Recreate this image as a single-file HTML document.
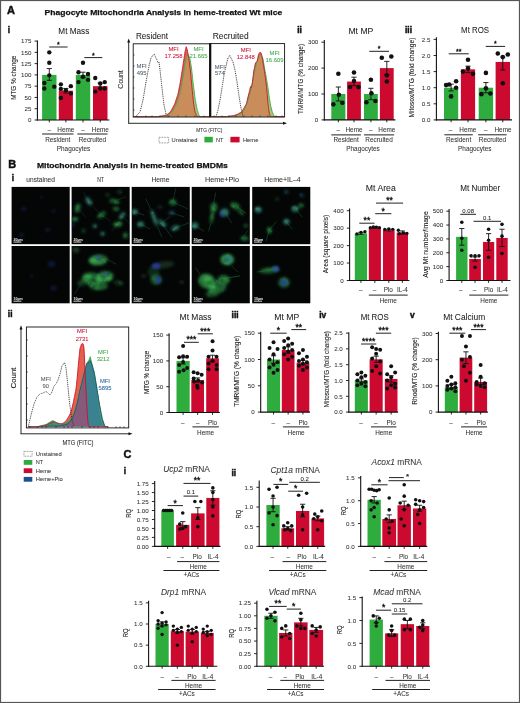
<!DOCTYPE html>
<html><head><meta charset="utf-8"><title>Figure</title>
<style>html,body{margin:0;padding:0;background:#fff;width:520px;height:703px;overflow:hidden}svg{display:block}</style></head><body>
<svg width="520" height="703" viewBox="0 0 520 703" font-family="'Liberation Sans', Arial, sans-serif"><defs><filter id="b05" x="-50%" y="-50%" width="200%" height="200%"><feGaussianBlur stdDeviation="0.5"/></filter><filter id="b04" x="-20%" y="-20%" width="140%" height="140%"><feGaussianBlur stdDeviation="0.55"/></filter><filter id="b08" x="-50%" y="-50%" width="200%" height="200%"><feGaussianBlur stdDeviation="0.8"/></filter><filter id="b1" x="-50%" y="-50%" width="200%" height="200%"><feGaussianBlur stdDeviation="1.0"/></filter><filter id="b15" x="-50%" y="-50%" width="200%" height="200%"><feGaussianBlur stdDeviation="1.6"/></filter><filter id="b2" x="-50%" y="-50%" width="200%" height="200%"><feGaussianBlur stdDeviation="2.5"/></filter><clipPath id="mclip"><rect x="11.6" y="186.9" width="58.1" height="57.3"/><rect x="11.6" y="246.0" width="58.1" height="57.3"/><rect x="71.6" y="186.9" width="58.1" height="57.3"/><rect x="71.6" y="246.0" width="58.1" height="57.3"/><rect x="131.7" y="186.9" width="58.1" height="57.3"/><rect x="131.7" y="246.0" width="58.1" height="57.3"/><rect x="191.7" y="186.9" width="58.1" height="57.3"/><rect x="191.7" y="246.0" width="58.1" height="57.3"/><rect x="252.2" y="186.9" width="58.1" height="57.3"/><rect x="252.2" y="246.0" width="58.1" height="57.3"/></clipPath></defs>
<rect x="0.00" y="0.00" width="520.00" height="703.00" fill="#ffffff"/>
<text x="11.00" y="13.86" font-size="11.00" text-anchor="middle" font-weight="bold" fill="#111" stroke="#111" stroke-width="0.45">A</text>
<text x="44.60" y="14.88" font-size="8.00" text-anchor="start" font-weight="bold" fill="#111" textLength="237.60" lengthAdjust="spacingAndGlyphs" stroke="#111" stroke-width="0.25">Phagocyte Mitochondria Analysis in heme-treated Wt mice</text>
<text x="8.80" y="33.42" font-size="8.40" text-anchor="middle" font-weight="bold" fill="#111" stroke="#111" stroke-width="0.45">i</text>
<text x="299.50" y="32.52" font-size="8.40" text-anchor="middle" font-weight="bold" fill="#111" stroke="#111" stroke-width="0.45">ii</text>
<text x="408.50" y="32.52" font-size="8.40" text-anchor="middle" font-weight="bold" fill="#111" stroke="#111" stroke-width="0.45">iii</text>
<text x="12.30" y="168.16" font-size="11.00" text-anchor="middle" font-weight="bold" fill="#111" stroke="#111" stroke-width="0.45">B</text>
<text x="36.90" y="168.18" font-size="8.00" text-anchor="start" font-weight="bold" fill="#111" textLength="190.90" lengthAdjust="spacingAndGlyphs" stroke="#111" stroke-width="0.25">Mitochondria Analysis in heme-treated BMDMs</text>
<text x="13.00" y="181.42" font-size="8.40" text-anchor="middle" font-weight="bold" fill="#111" stroke="#111" stroke-width="0.45">i</text>
<text x="40.60" y="181.50" font-size="6.40" text-anchor="middle" fill="#333" textLength="28.60" lengthAdjust="spacingAndGlyphs" stroke="#333" stroke-width="0.05">unstained</text>
<text x="100.60" y="181.50" font-size="6.40" text-anchor="middle" fill="#333" textLength="6.80" lengthAdjust="spacingAndGlyphs" stroke="#333" stroke-width="0.05">NT</text>
<text x="160.50" y="181.50" font-size="6.40" text-anchor="middle" fill="#333" textLength="18.00" lengthAdjust="spacingAndGlyphs" stroke="#333" stroke-width="0.05">Heme</text>
<text x="222.00" y="181.50" font-size="6.40" text-anchor="middle" fill="#333" textLength="34.00" lengthAdjust="spacingAndGlyphs" stroke="#333" stroke-width="0.05">Heme+Pio</text>
<text x="282.50" y="181.50" font-size="6.40" text-anchor="middle" fill="#333" textLength="36.50" lengthAdjust="spacingAndGlyphs" stroke="#333" stroke-width="0.05">Heme+IL–4</text>
<text x="10.20" y="317.02" font-size="8.40" text-anchor="middle" font-weight="bold" fill="#111" stroke="#111" stroke-width="0.45">ii</text>
<text x="235.10" y="317.82" font-size="8.40" text-anchor="middle" font-weight="bold" fill="#111" stroke="#111" stroke-width="0.45">iii</text>
<text x="322.80" y="317.82" font-size="8.40" text-anchor="middle" font-weight="bold" fill="#111" stroke="#111" stroke-width="0.45">iv</text>
<text x="412.40" y="317.82" font-size="8.40" text-anchor="middle" font-weight="bold" fill="#111" stroke="#111" stroke-width="0.45">v</text>
<text x="127.40" y="457.76" font-size="11.00" text-anchor="middle" font-weight="bold" fill="#111" stroke="#111" stroke-width="0.45">C</text>
<text x="124.80" y="473.92" font-size="8.40" text-anchor="middle" font-weight="bold" fill="#111" stroke="#111" stroke-width="0.45">i</text>
<text x="233.80" y="475.82" font-size="8.40" text-anchor="middle" font-weight="bold" fill="#111" stroke="#111" stroke-width="0.45">ii</text>
<line x1="128.70" y1="123.30" x2="128.70" y2="41.50" stroke="#111" stroke-width="0.9"/>
<path d="M128.7,38.5 L127.2,42.5 L130.2,42.5 Z" fill="#111"/>
<line x1="128.20" y1="123.30" x2="284.50" y2="123.30" stroke="#111" stroke-width="0.9"/>
<path d="M287,123.3 L283,121.8 L283,124.8 Z" fill="#111"/>
<path d="M133.50,116.60 L133.50,116.60 L133.75,116.60 L134.00,116.60 L134.25,116.60 L134.50,116.60 L134.75,116.60 L135.00,116.60 L135.25,116.60 L135.50,116.60 L135.75,116.60 L136.00,116.60 L136.25,116.60 L136.50,116.60 L136.75,116.60 L137.00,116.60 L137.25,116.60 L137.50,116.60 L137.75,116.60 L138.00,116.60 L138.25,116.60 L138.50,116.60 L138.75,116.60 L139.00,116.60 L139.25,116.60 L139.50,116.60 L139.75,116.60 L140.00,116.60 L140.25,116.60 L140.50,116.60 L140.75,116.60 L141.00,116.60 L141.25,116.60 L141.50,116.60 L141.75,116.60 L142.00,116.60 L142.25,116.60 L142.50,116.60 L142.75,116.60 L143.00,116.60 L143.25,116.60 L143.50,116.60 L143.75,116.60 L144.00,116.60 L144.25,116.60 L144.50,116.60 L144.75,116.60 L145.00,116.60 L145.25,116.60 L145.50,116.60 L145.75,116.60 L146.00,116.60 L146.25,116.60 L146.50,116.60 L146.75,116.60 L147.00,116.60 L147.25,116.60 L147.50,116.60 L147.75,116.60 L148.00,116.60 L148.25,116.60 L148.50,116.60 L148.75,116.60 L149.00,116.60 L149.25,116.60 L149.50,116.60 L149.75,116.60 L150.00,116.60 L150.25,116.60 L150.50,116.60 L150.75,116.60 L151.00,116.60 L151.25,116.60 L151.50,116.60 L151.75,116.60 L152.00,116.60 L152.25,116.60 L152.50,116.60 L152.75,116.60 L153.00,116.60 L153.25,116.60 L153.50,116.60 L153.75,116.60 L154.00,116.60 L154.25,116.60 L154.50,116.60 L154.75,116.60 L155.00,116.60 L155.25,116.60 L155.50,116.60 L155.75,116.60 L156.00,116.60 L156.25,116.60 L156.50,116.60 L156.75,116.60 L157.00,116.60 L157.25,116.60 L157.50,116.60 L157.75,116.60 L158.00,116.60 L158.25,116.55 L158.50,116.51 L158.75,116.46 L159.00,116.42 L159.25,116.37 L159.50,116.33 L159.75,116.28 L160.00,116.24 L160.25,116.19 L160.50,116.15 L160.75,116.10 L161.00,116.05 L161.25,116.01 L161.50,115.96 L161.75,115.92 L162.00,115.87 L162.25,115.83 L162.50,115.78 L162.75,115.74 L163.00,115.69 L163.25,115.65 L163.50,115.60 L163.75,115.55 L164.00,115.51 L164.25,115.46 L164.50,115.42 L164.75,115.37 L165.00,115.33 L165.25,115.28 L165.50,115.24 L165.75,115.19 L166.00,115.15 L166.25,115.10 L166.50,115.05 L166.75,115.01 L167.00,114.81 L167.25,114.57 L167.50,114.33 L167.75,114.10 L168.00,113.86 L168.25,113.62 L168.50,113.38 L168.75,113.14 L169.00,112.90 L169.25,112.67 L169.50,112.43 L169.75,112.19 L170.00,111.95 L170.25,111.71 L170.50,111.48 L170.75,111.24 L171.00,111.00 L171.25,110.52 L171.50,110.04 L171.75,109.56 L172.00,109.08 L172.25,108.60 L172.50,108.12 L172.75,107.64 L173.00,107.16 L173.25,106.68 L173.50,106.20 L173.75,105.72 L174.00,105.24 L174.25,104.76 L174.50,104.28 L174.75,103.80 L175.00,103.09 L175.25,102.34 L175.50,101.58 L175.75,100.82 L176.00,100.06 L176.25,99.30 L176.50,98.55 L176.75,97.79 L177.00,97.03 L177.25,96.27 L177.50,95.52 L177.75,94.76 L178.00,94.00 L178.25,92.75 L178.50,91.50 L178.75,90.25 L179.00,89.00 L179.25,87.75 L179.50,86.50 L179.75,85.25 L180.00,84.00 L180.25,82.45 L180.50,80.91 L180.75,79.36 L181.00,77.81 L181.25,76.27 L181.50,74.72 L181.75,73.14 L182.00,71.55 L182.25,69.96 L182.50,68.37 L182.75,66.78 L183.00,65.18 L183.25,63.59 L183.50,62.00 L183.75,60.33 L184.00,58.67 L184.25,57.00 L184.50,55.33 L184.75,53.67 L185.00,52.00 L185.25,50.85 L185.50,49.71 L185.75,48.56 L186.00,47.42 L186.25,46.66 L186.50,47.45 L186.75,48.25 L187.00,49.05 L187.25,49.84 L187.50,51.18 L187.75,52.65 L188.00,54.12 L188.25,55.59 L188.50,57.06 L188.75,58.53 L189.00,60.00 L189.25,62.00 L189.50,64.00 L189.75,66.00 L190.00,68.00 L190.25,70.00 L190.50,72.00 L190.75,74.67 L191.00,77.33 L191.25,80.00 L191.50,82.67 L191.75,85.33 L192.00,88.00 L192.25,90.50 L192.50,93.00 L192.75,95.50 L193.00,98.00 L193.25,100.50 L193.50,103.00 L193.75,104.50 L194.00,106.00 L194.25,107.50 L194.50,109.00 L194.75,110.50 L195.00,112.00 L195.25,112.58 L195.50,113.15 L195.75,113.72 L196.00,114.30 L196.25,114.88 L196.50,115.45 L196.75,116.02 L197.00,116.60 L197.25,116.60 L197.50,116.60 L197.75,116.60 L198.00,116.60 L198.25,116.60 L198.50,116.60 L198.75,116.60 L199.00,116.60 L199.25,116.60 L199.50,116.60 L199.75,116.60 L200.00,116.60 L200.25,116.60 L200.50,116.60 L200.75,116.60 L201.00,116.60 L201.25,116.60 L201.50,116.60 L201.75,116.60 L202.00,116.60 L202.25,116.60 L202.50,116.60 L202.75,116.60 L203.00,116.60 L203.25,116.60 L203.50,116.60 L203.75,116.60 L204.00,116.60 L204.25,116.60 L204.50,116.60 L204.75,116.60 L205.00,116.60 L205.25,116.60 L205.50,116.60 L205.75,116.60 L206.00,116.60 L206.25,116.60 L206.50,116.60 L206.75,116.60 L207.00,116.60 L207.25,116.60 L207.50,116.60 L207.75,116.60 L208.00,116.60 L208.25,116.60 L208.50,116.60 L208.75,116.60 L209.00,116.60 L209.25,116.60 L209.50,116.60 L209.50,116.60 Z" fill="#d8604f"/>
<path d="M133.50,116.60 L133.50,116.60 L133.75,116.60 L134.00,116.60 L134.25,116.60 L134.50,116.60 L134.75,116.60 L135.00,116.60 L135.25,116.60 L135.50,116.60 L135.75,116.60 L136.00,116.60 L136.25,116.60 L136.50,116.60 L136.75,116.60 L137.00,116.60 L137.25,116.60 L137.50,116.60 L137.75,116.60 L138.00,116.60 L138.25,116.60 L138.50,116.60 L138.75,116.60 L139.00,116.60 L139.25,116.60 L139.50,116.60 L139.75,116.60 L140.00,116.60 L140.25,116.60 L140.50,116.60 L140.75,116.60 L141.00,116.60 L141.25,116.60 L141.50,116.60 L141.75,116.60 L142.00,116.60 L142.25,116.60 L142.50,116.60 L142.75,116.60 L143.00,116.60 L143.25,116.60 L143.50,116.60 L143.75,116.60 L144.00,116.60 L144.25,116.60 L144.50,116.60 L144.75,116.60 L145.00,116.60 L145.25,116.60 L145.50,116.60 L145.75,116.60 L146.00,116.60 L146.25,116.60 L146.50,116.60 L146.75,116.60 L147.00,116.60 L147.25,116.60 L147.50,116.60 L147.75,116.60 L148.00,116.60 L148.25,116.60 L148.50,116.60 L148.75,116.60 L149.00,116.60 L149.25,116.60 L149.50,116.60 L149.75,116.60 L150.00,116.60 L150.25,116.60 L150.50,116.60 L150.75,116.60 L151.00,116.60 L151.25,116.60 L151.50,116.60 L151.75,116.60 L152.00,116.60 L152.25,116.60 L152.50,116.60 L152.75,116.60 L153.00,116.60 L153.25,116.60 L153.50,116.60 L153.75,116.60 L154.00,116.60 L154.25,116.60 L154.50,116.60 L154.75,116.60 L155.00,116.60 L155.25,116.60 L155.50,116.60 L155.75,116.60 L156.00,116.60 L156.25,116.60 L156.50,116.60 L156.75,116.60 L157.00,116.60 L157.25,116.60 L157.50,116.60 L157.75,116.60 L158.00,116.60 L158.25,116.60 L158.50,116.60 L158.75,116.60 L159.00,116.60 L159.25,116.60 L159.50,116.60 L159.75,116.60 L160.00,116.60 L160.25,116.56 L160.50,116.52 L160.75,116.48 L161.00,116.44 L161.25,116.39 L161.50,116.35 L161.75,116.31 L162.00,116.27 L162.25,116.23 L162.50,116.19 L162.75,116.15 L163.00,116.11 L163.25,116.06 L163.50,116.02 L163.75,115.98 L164.00,115.94 L164.25,115.90 L164.50,115.86 L164.75,115.82 L165.00,115.78 L165.25,115.74 L165.50,115.69 L165.75,115.65 L166.00,115.61 L166.25,115.57 L166.50,115.53 L166.75,115.49 L167.00,115.45 L167.25,115.41 L167.50,115.36 L167.75,115.32 L168.00,115.28 L168.25,115.24 L168.50,115.20 L168.75,114.97 L169.00,114.74 L169.25,114.51 L169.50,114.28 L169.75,114.04 L170.00,113.81 L170.25,113.58 L170.50,113.35 L170.75,113.12 L171.00,112.89 L171.25,112.66 L171.50,112.42 L171.75,112.19 L172.00,111.96 L172.25,111.73 L172.50,111.50 L172.75,111.03 L173.00,110.56 L173.25,110.09 L173.50,109.62 L173.75,109.16 L174.00,108.69 L174.25,108.22 L174.50,107.75 L174.75,107.28 L175.00,106.81 L175.25,106.34 L175.50,105.88 L175.75,105.41 L176.00,104.94 L176.25,104.47 L176.50,104.00 L176.75,103.25 L177.00,102.50 L177.25,101.75 L177.50,101.00 L177.75,100.25 L178.00,99.50 L178.25,98.75 L178.50,98.00 L178.75,97.25 L179.00,96.50 L179.25,95.75 L179.50,95.00 L179.75,93.88 L180.00,92.75 L180.25,91.62 L180.50,90.50 L180.75,89.38 L181.00,88.25 L181.25,87.12 L181.50,86.00 L181.75,84.53 L182.00,83.06 L182.25,81.59 L182.50,80.12 L182.75,78.65 L183.00,77.18 L183.25,75.67 L183.50,74.00 L183.75,72.33 L184.00,70.67 L184.25,69.00 L184.50,67.33 L184.75,65.67 L185.00,64.00 L185.25,62.89 L185.50,61.78 L185.75,60.67 L186.00,59.56 L186.25,58.44 L186.50,57.33 L186.75,56.22 L187.00,55.80 L187.25,55.55 L187.50,55.30 L187.75,55.05 L188.00,54.80 L188.25,54.55 L188.50,55.03 L188.75,55.69 L189.00,56.35 L189.25,57.01 L189.50,57.68 L189.75,58.34 L190.00,59.00 L190.25,60.50 L190.50,62.00 L190.75,63.50 L191.00,65.00 L191.25,66.50 L191.50,68.00 L191.75,70.33 L192.00,72.67 L192.25,75.00 L192.50,77.33 L192.75,79.67 L193.00,82.00 L193.25,84.00 L193.50,86.00 L193.75,88.00 L194.00,90.00 L194.25,92.00 L194.50,94.00 L194.75,96.00 L195.00,98.00 L195.25,99.38 L195.50,100.75 L195.75,102.12 L196.00,103.50 L196.25,104.88 L196.50,106.25 L196.75,107.62 L197.00,109.00 L197.25,109.79 L197.50,110.58 L197.75,111.36 L198.00,112.15 L198.25,112.94 L198.50,113.72 L198.75,114.51 L199.00,115.30 L199.25,115.52 L199.50,115.73 L199.75,115.95 L200.00,116.17 L200.25,116.38 L200.50,116.60 L200.75,116.60 L201.00,116.60 L201.25,116.60 L201.50,116.60 L201.75,116.60 L202.00,116.60 L202.25,116.60 L202.50,116.60 L202.75,116.60 L203.00,116.60 L203.25,116.60 L203.50,116.60 L203.75,116.60 L204.00,116.60 L204.25,116.60 L204.50,116.60 L204.75,116.60 L205.00,116.60 L205.25,116.60 L205.50,116.60 L205.75,116.60 L206.00,116.60 L206.25,116.60 L206.50,116.60 L206.75,116.60 L207.00,116.60 L207.25,116.60 L207.50,116.60 L207.75,116.60 L208.00,116.60 L208.25,116.60 L208.50,116.60 L208.75,116.60 L209.00,116.60 L209.25,116.60 L209.50,116.60 L209.50,116.60 Z" fill="#9cc870"/>
<path d="M133.50,116.60 L133.50,116.60 L133.75,116.60 L134.00,116.60 L134.25,116.60 L134.50,116.60 L134.75,116.60 L135.00,116.60 L135.25,116.60 L135.50,116.60 L135.75,116.60 L136.00,116.60 L136.25,116.60 L136.50,116.60 L136.75,116.60 L137.00,116.60 L137.25,116.60 L137.50,116.60 L137.75,116.60 L138.00,116.60 L138.25,116.60 L138.50,116.60 L138.75,116.60 L139.00,116.60 L139.25,116.60 L139.50,116.60 L139.75,116.60 L140.00,116.60 L140.25,116.60 L140.50,116.60 L140.75,116.60 L141.00,116.60 L141.25,116.60 L141.50,116.60 L141.75,116.60 L142.00,116.60 L142.25,116.60 L142.50,116.60 L142.75,116.60 L143.00,116.60 L143.25,116.60 L143.50,116.60 L143.75,116.60 L144.00,116.60 L144.25,116.60 L144.50,116.60 L144.75,116.60 L145.00,116.60 L145.25,116.60 L145.50,116.60 L145.75,116.60 L146.00,116.60 L146.25,116.60 L146.50,116.60 L146.75,116.60 L147.00,116.60 L147.25,116.60 L147.50,116.60 L147.75,116.60 L148.00,116.60 L148.25,116.60 L148.50,116.60 L148.75,116.60 L149.00,116.60 L149.25,116.60 L149.50,116.60 L149.75,116.60 L150.00,116.60 L150.25,116.60 L150.50,116.60 L150.75,116.60 L151.00,116.60 L151.25,116.60 L151.50,116.60 L151.75,116.60 L152.00,116.60 L152.25,116.60 L152.50,116.60 L152.75,116.60 L153.00,116.60 L153.25,116.60 L153.50,116.60 L153.75,116.60 L154.00,116.60 L154.25,116.60 L154.50,116.60 L154.75,116.60 L155.00,116.60 L155.25,116.60 L155.50,116.60 L155.75,116.60 L156.00,116.60 L156.25,116.60 L156.50,116.60 L156.75,116.60 L157.00,116.60 L157.25,116.60 L157.50,116.60 L157.75,116.60 L158.00,116.60 L158.25,116.60 L158.50,116.60 L158.75,116.60 L159.00,116.60 L159.25,116.60 L159.50,116.60 L159.75,116.60 L160.00,116.60 L160.25,116.56 L160.50,116.52 L160.75,116.48 L161.00,116.44 L161.25,116.39 L161.50,116.35 L161.75,116.31 L162.00,116.27 L162.25,116.23 L162.50,116.19 L162.75,116.15 L163.00,116.11 L163.25,116.06 L163.50,116.02 L163.75,115.98 L164.00,115.94 L164.25,115.90 L164.50,115.86 L164.75,115.82 L165.00,115.78 L165.25,115.74 L165.50,115.69 L165.75,115.65 L166.00,115.61 L166.25,115.57 L166.50,115.53 L166.75,115.49 L167.00,115.45 L167.25,115.41 L167.50,115.36 L167.75,115.32 L168.00,115.28 L168.25,115.24 L168.50,115.20 L168.75,114.97 L169.00,114.74 L169.25,114.51 L169.50,114.28 L169.75,114.04 L170.00,113.81 L170.25,113.58 L170.50,113.35 L170.75,113.12 L171.00,112.89 L171.25,112.66 L171.50,112.42 L171.75,112.19 L172.00,111.96 L172.25,111.73 L172.50,111.50 L172.75,111.03 L173.00,110.56 L173.25,110.09 L173.50,109.62 L173.75,109.16 L174.00,108.69 L174.25,108.22 L174.50,107.75 L174.75,107.28 L175.00,106.81 L175.25,106.34 L175.50,105.88 L175.75,105.41 L176.00,104.94 L176.25,104.47 L176.50,104.00 L176.75,103.25 L177.00,102.50 L177.25,101.75 L177.50,101.00 L177.75,100.25 L178.00,99.50 L178.25,98.75 L178.50,98.00 L178.75,97.25 L179.00,96.50 L179.25,95.75 L179.50,95.00 L179.75,93.88 L180.00,92.75 L180.25,91.62 L180.50,90.50 L180.75,89.38 L181.00,88.25 L181.25,87.12 L181.50,86.00 L181.75,84.53 L182.00,83.06 L182.25,81.59 L182.50,80.12 L182.75,78.65 L183.00,77.18 L183.25,75.67 L183.50,74.00 L183.75,72.33 L184.00,70.67 L184.25,69.00 L184.50,67.33 L184.75,65.67 L185.00,64.00 L185.25,62.89 L185.50,61.78 L185.75,60.67 L186.00,59.56 L186.25,58.44 L186.50,57.33 L186.75,56.22 L187.00,55.80 L187.25,55.55 L187.50,55.30 L187.75,55.05 L188.00,54.80 L188.25,55.59 L188.50,57.06 L188.75,58.53 L189.00,60.00 L189.25,62.00 L189.50,64.00 L189.75,66.00 L190.00,68.00 L190.25,70.00 L190.50,72.00 L190.75,74.67 L191.00,77.33 L191.25,80.00 L191.50,82.67 L191.75,85.33 L192.00,88.00 L192.25,90.50 L192.50,93.00 L192.75,95.50 L193.00,98.00 L193.25,100.50 L193.50,103.00 L193.75,104.50 L194.00,106.00 L194.25,107.50 L194.50,109.00 L194.75,110.50 L195.00,112.00 L195.25,112.58 L195.50,113.15 L195.75,113.72 L196.00,114.30 L196.25,114.88 L196.50,115.45 L196.75,116.02 L197.00,116.60 L197.25,116.60 L197.50,116.60 L197.75,116.60 L198.00,116.60 L198.25,116.60 L198.50,116.60 L198.75,116.60 L199.00,116.60 L199.25,116.60 L199.50,116.60 L199.75,116.60 L200.00,116.60 L200.25,116.60 L200.50,116.60 L200.75,116.60 L201.00,116.60 L201.25,116.60 L201.50,116.60 L201.75,116.60 L202.00,116.60 L202.25,116.60 L202.50,116.60 L202.75,116.60 L203.00,116.60 L203.25,116.60 L203.50,116.60 L203.75,116.60 L204.00,116.60 L204.25,116.60 L204.50,116.60 L204.75,116.60 L205.00,116.60 L205.25,116.60 L205.50,116.60 L205.75,116.60 L206.00,116.60 L206.25,116.60 L206.50,116.60 L206.75,116.60 L207.00,116.60 L207.25,116.60 L207.50,116.60 L207.75,116.60 L208.00,116.60 L208.25,116.60 L208.50,116.60 L208.75,116.60 L209.00,116.60 L209.25,116.60 L209.50,116.60 L209.50,116.60 Z" fill="#c98d5c"/>
<path d="M133.50,116.60 L133.75,116.60 L134.00,116.60 L134.25,116.60 L134.50,116.60 L134.75,116.60 L135.00,116.60 L135.25,116.60 L135.50,116.60 L135.75,116.60 L136.00,116.60 L136.25,116.60 L136.50,116.60 L136.75,116.60 L137.00,116.60 L137.25,116.60 L137.50,116.60 L137.75,116.60 L138.00,116.60 L138.25,116.60 L138.50,116.60 L138.75,116.60 L139.00,116.60 L139.25,116.60 L139.50,116.60 L139.75,116.60 L140.00,116.60 L140.25,116.60 L140.50,116.60 L140.75,116.60 L141.00,116.60 L141.25,116.60 L141.50,116.60 L141.75,116.60 L142.00,116.60 L142.25,116.60 L142.50,116.60 L142.75,116.60 L143.00,116.60 L143.25,116.60 L143.50,116.60 L143.75,116.60 L144.00,116.60 L144.25,116.60 L144.50,116.60 L144.75,116.60 L145.00,116.60 L145.25,116.60 L145.50,116.60 L145.75,116.60 L146.00,116.60 L146.25,116.60 L146.50,116.60 L146.75,116.60 L147.00,116.60 L147.25,116.60 L147.50,116.60 L147.75,116.60 L148.00,116.60 L148.25,116.60 L148.50,116.60 L148.75,116.60 L149.00,116.60 L149.25,116.60 L149.50,116.60 L149.75,116.60 L150.00,116.60 L150.25,116.60 L150.50,116.60 L150.75,116.60 L151.00,116.60 L151.25,116.60 L151.50,116.60 L151.75,116.60 L152.00,116.60 L152.25,116.60 L152.50,116.60 L152.75,116.60 L153.00,116.60 L153.25,116.60 L153.50,116.60 L153.75,116.60 L154.00,116.60 L154.25,116.60 L154.50,116.60 L154.75,116.60 L155.00,116.60 L155.25,116.60 L155.50,116.60 L155.75,116.60 L156.00,116.60 L156.25,116.60 L156.50,116.60 L156.75,116.60 L157.00,116.60 L157.25,116.60 L157.50,116.60 L157.75,116.60 L158.00,116.60 L158.25,116.60 L158.50,116.60 L158.75,116.60 L159.00,116.60 L159.25,116.60 L159.50,116.60 L159.75,116.60 L160.00,116.60 L160.25,116.56 L160.50,116.52 L160.75,116.48 L161.00,116.44 L161.25,116.39 L161.50,116.35 L161.75,116.31 L162.00,116.27 L162.25,116.23 L162.50,116.19 L162.75,116.15 L163.00,116.11 L163.25,116.06 L163.50,116.02 L163.75,115.98 L164.00,115.94 L164.25,115.90 L164.50,115.86 L164.75,115.82 L165.00,115.78 L165.25,115.74 L165.50,115.69 L165.75,115.65 L166.00,115.61 L166.25,115.57 L166.50,115.53 L166.75,115.49 L167.00,115.45 L167.25,115.41 L167.50,115.36 L167.75,115.32 L168.00,115.28 L168.25,115.24 L168.50,115.20 L168.75,114.97 L169.00,114.74 L169.25,114.51 L169.50,114.28 L169.75,114.04 L170.00,113.81 L170.25,113.58 L170.50,113.35 L170.75,113.12 L171.00,112.89 L171.25,112.66 L171.50,112.42 L171.75,112.19 L172.00,111.96 L172.25,111.73 L172.50,111.50 L172.75,111.03 L173.00,110.56 L173.25,110.09 L173.50,109.62 L173.75,109.16 L174.00,108.69 L174.25,108.22 L174.50,107.75 L174.75,107.28 L175.00,106.81 L175.25,106.34 L175.50,105.88 L175.75,105.41 L176.00,104.94 L176.25,104.47 L176.50,104.00 L176.75,103.25 L177.00,102.50 L177.25,101.75 L177.50,101.00 L177.75,100.25 L178.00,99.50 L178.25,98.75 L178.50,98.00 L178.75,97.25 L179.00,96.50 L179.25,95.75 L179.50,95.00 L179.75,93.88 L180.00,92.75 L180.25,91.62 L180.50,90.50 L180.75,89.38 L181.00,88.25 L181.25,87.12 L181.50,86.00 L181.75,84.53 L182.00,83.06 L182.25,81.59 L182.50,80.12 L182.75,78.65 L183.00,77.18 L183.25,75.67 L183.50,74.00 L183.75,72.33 L184.00,70.67 L184.25,69.00 L184.50,67.33 L184.75,65.67 L185.00,64.00 L185.25,62.89 L185.50,61.78 L185.75,60.67 L186.00,59.56 L186.25,58.44 L186.50,57.33 L186.75,56.22 L187.00,55.80 L187.25,55.55 L187.50,55.30 L187.75,55.05 L188.00,54.80 L188.25,54.55 L188.50,55.03 L188.75,55.69 L189.00,56.35 L189.25,57.01 L189.50,57.68 L189.75,58.34 L190.00,59.00 L190.25,60.50 L190.50,62.00 L190.75,63.50 L191.00,65.00 L191.25,66.50 L191.50,68.00 L191.75,70.33 L192.00,72.67 L192.25,75.00 L192.50,77.33 L192.75,79.67 L193.00,82.00 L193.25,84.00 L193.50,86.00 L193.75,88.00 L194.00,90.00 L194.25,92.00 L194.50,94.00 L194.75,96.00 L195.00,98.00 L195.25,99.38 L195.50,100.75 L195.75,102.12 L196.00,103.50 L196.25,104.88 L196.50,106.25 L196.75,107.62 L197.00,109.00 L197.25,109.79 L197.50,110.58 L197.75,111.36 L198.00,112.15 L198.25,112.94 L198.50,113.72 L198.75,114.51 L199.00,115.30 L199.25,115.52 L199.50,115.73 L199.75,115.95 L200.00,116.17 L200.25,116.38 L200.50,116.60 L200.75,116.60 L201.00,116.60 L201.25,116.60 L201.50,116.60 L201.75,116.60 L202.00,116.60 L202.25,116.60 L202.50,116.60 L202.75,116.60 L203.00,116.60 L203.25,116.60 L203.50,116.60 L203.75,116.60 L204.00,116.60 L204.25,116.60 L204.50,116.60 L204.75,116.60 L205.00,116.60 L205.25,116.60 L205.50,116.60 L205.75,116.60 L206.00,116.60 L206.25,116.60 L206.50,116.60 L206.75,116.60 L207.00,116.60 L207.25,116.60 L207.50,116.60 L207.75,116.60 L208.00,116.60 L208.25,116.60 L208.50,116.60 L208.75,116.60 L209.00,116.60 L209.25,116.60 L209.50,116.60" fill="none" stroke="#3aae44" stroke-width="0.9"/>
<path d="M133.50,116.60 L133.75,116.60 L134.00,116.60 L134.25,116.60 L134.50,116.60 L134.75,116.60 L135.00,116.60 L135.25,116.60 L135.50,116.60 L135.75,116.60 L136.00,116.60 L136.25,116.60 L136.50,116.60 L136.75,116.60 L137.00,116.60 L137.25,116.60 L137.50,116.60 L137.75,116.60 L138.00,116.60 L138.25,116.60 L138.50,116.60 L138.75,116.60 L139.00,116.60 L139.25,116.60 L139.50,116.60 L139.75,116.60 L140.00,116.60 L140.25,116.60 L140.50,116.60 L140.75,116.60 L141.00,116.60 L141.25,116.60 L141.50,116.60 L141.75,116.60 L142.00,116.60 L142.25,116.60 L142.50,116.60 L142.75,116.60 L143.00,116.60 L143.25,116.60 L143.50,116.60 L143.75,116.60 L144.00,116.60 L144.25,116.60 L144.50,116.60 L144.75,116.60 L145.00,116.60 L145.25,116.60 L145.50,116.60 L145.75,116.60 L146.00,116.60 L146.25,116.60 L146.50,116.60 L146.75,116.60 L147.00,116.60 L147.25,116.60 L147.50,116.60 L147.75,116.60 L148.00,116.60 L148.25,116.60 L148.50,116.60 L148.75,116.60 L149.00,116.60 L149.25,116.60 L149.50,116.60 L149.75,116.60 L150.00,116.60 L150.25,116.60 L150.50,116.60 L150.75,116.60 L151.00,116.60 L151.25,116.60 L151.50,116.60 L151.75,116.60 L152.00,116.60 L152.25,116.60 L152.50,116.60 L152.75,116.60 L153.00,116.60 L153.25,116.60 L153.50,116.60 L153.75,116.60 L154.00,116.60 L154.25,116.60 L154.50,116.60 L154.75,116.60 L155.00,116.60 L155.25,116.60 L155.50,116.60 L155.75,116.60 L156.00,116.60 L156.25,116.60 L156.50,116.60 L156.75,116.60 L157.00,116.60 L157.25,116.60 L157.50,116.60 L157.75,116.60 L158.00,116.60 L158.25,116.55 L158.50,116.51 L158.75,116.46 L159.00,116.42 L159.25,116.37 L159.50,116.33 L159.75,116.28 L160.00,116.24 L160.25,116.19 L160.50,116.15 L160.75,116.10 L161.00,116.05 L161.25,116.01 L161.50,115.96 L161.75,115.92 L162.00,115.87 L162.25,115.83 L162.50,115.78 L162.75,115.74 L163.00,115.69 L163.25,115.65 L163.50,115.60 L163.75,115.55 L164.00,115.51 L164.25,115.46 L164.50,115.42 L164.75,115.37 L165.00,115.33 L165.25,115.28 L165.50,115.24 L165.75,115.19 L166.00,115.15 L166.25,115.10 L166.50,115.05 L166.75,115.01 L167.00,114.81 L167.25,114.57 L167.50,114.33 L167.75,114.10 L168.00,113.86 L168.25,113.62 L168.50,113.38 L168.75,113.14 L169.00,112.90 L169.25,112.67 L169.50,112.43 L169.75,112.19 L170.00,111.95 L170.25,111.71 L170.50,111.48 L170.75,111.24 L171.00,111.00 L171.25,110.52 L171.50,110.04 L171.75,109.56 L172.00,109.08 L172.25,108.60 L172.50,108.12 L172.75,107.64 L173.00,107.16 L173.25,106.68 L173.50,106.20 L173.75,105.72 L174.00,105.24 L174.25,104.76 L174.50,104.28 L174.75,103.80 L175.00,103.09 L175.25,102.34 L175.50,101.58 L175.75,100.82 L176.00,100.06 L176.25,99.30 L176.50,98.55 L176.75,97.79 L177.00,97.03 L177.25,96.27 L177.50,95.52 L177.75,94.76 L178.00,94.00 L178.25,92.75 L178.50,91.50 L178.75,90.25 L179.00,89.00 L179.25,87.75 L179.50,86.50 L179.75,85.25 L180.00,84.00 L180.25,82.45 L180.50,80.91 L180.75,79.36 L181.00,77.81 L181.25,76.27 L181.50,74.72 L181.75,73.14 L182.00,71.55 L182.25,69.96 L182.50,68.37 L182.75,66.78 L183.00,65.18 L183.25,63.59 L183.50,62.00 L183.75,60.33 L184.00,58.67 L184.25,57.00 L184.50,55.33 L184.75,53.67 L185.00,52.00 L185.25,50.85 L185.50,49.71 L185.75,48.56 L186.00,47.42 L186.25,46.66 L186.50,47.45 L186.75,48.25 L187.00,49.05 L187.25,49.84 L187.50,51.18 L187.75,52.65 L188.00,54.12 L188.25,55.59 L188.50,57.06 L188.75,58.53 L189.00,60.00 L189.25,62.00 L189.50,64.00 L189.75,66.00 L190.00,68.00 L190.25,70.00 L190.50,72.00 L190.75,74.67 L191.00,77.33 L191.25,80.00 L191.50,82.67 L191.75,85.33 L192.00,88.00 L192.25,90.50 L192.50,93.00 L192.75,95.50 L193.00,98.00 L193.25,100.50 L193.50,103.00 L193.75,104.50 L194.00,106.00 L194.25,107.50 L194.50,109.00 L194.75,110.50 L195.00,112.00 L195.25,112.58 L195.50,113.15 L195.75,113.72 L196.00,114.30 L196.25,114.88 L196.50,115.45 L196.75,116.02 L197.00,116.60 L197.25,116.60 L197.50,116.60 L197.75,116.60 L198.00,116.60 L198.25,116.60 L198.50,116.60 L198.75,116.60 L199.00,116.60 L199.25,116.60 L199.50,116.60 L199.75,116.60 L200.00,116.60 L200.25,116.60 L200.50,116.60 L200.75,116.60 L201.00,116.60 L201.25,116.60 L201.50,116.60 L201.75,116.60 L202.00,116.60 L202.25,116.60 L202.50,116.60 L202.75,116.60 L203.00,116.60 L203.25,116.60 L203.50,116.60 L203.75,116.60 L204.00,116.60 L204.25,116.60 L204.50,116.60 L204.75,116.60 L205.00,116.60 L205.25,116.60 L205.50,116.60 L205.75,116.60 L206.00,116.60 L206.25,116.60 L206.50,116.60 L206.75,116.60 L207.00,116.60 L207.25,116.60 L207.50,116.60 L207.75,116.60 L208.00,116.60 L208.25,116.60 L208.50,116.60 L208.75,116.60 L209.00,116.60 L209.25,116.60 L209.50,116.60" fill="none" stroke="#d0102c" stroke-width="0.9"/>
<path d="M135.50,116.60 L135.75,116.34 L136.00,116.09 L136.25,115.83 L136.50,115.58 L136.75,115.32 L137.00,115.07 L137.25,114.81 L137.50,114.56 L137.75,114.30 L138.00,114.04 L138.25,113.79 L138.50,113.53 L138.75,113.28 L139.00,113.02 L139.25,112.77 L139.50,112.51 L139.75,112.26 L140.00,112.00 L140.25,111.00 L140.50,110.00 L140.75,109.00 L141.00,108.00 L141.25,107.00 L141.50,106.00 L141.75,105.00 L142.00,104.00 L142.25,103.00 L142.50,102.00 L142.75,101.00 L143.00,100.00 L143.25,98.50 L143.50,97.00 L143.75,95.50 L144.00,94.00 L144.25,92.50 L144.50,91.00 L144.75,89.50 L145.00,88.00 L145.25,86.50 L145.50,85.00 L145.75,83.50 L146.00,82.00 L146.25,80.67 L146.50,79.33 L146.75,78.00 L147.00,76.67 L147.25,75.33 L147.50,74.00 L147.75,72.67 L148.00,71.33 L148.25,70.00 L148.50,68.67 L148.75,67.33 L149.00,66.00 L149.25,65.00 L149.50,64.00 L149.75,63.00 L150.00,62.00 L150.25,61.00 L150.50,60.00 L150.75,59.00 L151.00,58.00 L151.25,57.62 L151.50,57.25 L151.75,56.88 L152.00,56.50 L152.25,56.12 L152.50,55.75 L152.75,55.38 L153.00,55.00 L153.25,54.88 L153.50,54.77 L153.75,54.65 L154.00,54.53 L154.25,54.42 L154.50,54.30 L154.75,54.97 L155.00,55.65 L155.25,56.33 L155.50,57.00 L155.75,57.50 L156.00,58.00 L156.25,58.50 L156.50,59.00 L156.75,59.50 L157.00,60.00 L157.25,60.75 L157.50,61.50 L157.75,62.25 L158.00,63.00 L158.25,62.75 L158.50,62.50 L158.75,62.25 L159.00,62.00 L159.25,64.00 L159.50,66.00 L159.75,68.00 L160.00,70.00 L160.25,72.25 L160.50,74.50 L160.75,76.75 L161.00,79.00 L161.25,81.25 L161.50,83.50 L161.75,85.75 L162.00,88.00 L162.25,90.12 L162.50,92.25 L162.75,94.38 L163.00,96.50 L163.25,98.62 L163.50,100.75 L163.75,102.88 L164.00,105.00 L164.25,106.12 L164.50,107.25 L164.75,108.38 L165.00,109.50 L165.25,110.62 L165.50,111.75 L165.75,112.88 L166.00,114.00 L166.25,114.33 L166.50,114.65 L166.75,114.97 L167.00,115.30 L167.25,115.62 L167.50,115.95 L167.75,116.27 L168.00,116.60" fill="none" stroke="#333" stroke-width="1.0" stroke-dasharray="1 0.9"/>
<path d="M211.50,116.60 L211.50,116.60 L211.75,116.60 L212.00,116.60 L212.25,116.60 L212.50,116.60 L212.75,116.60 L213.00,116.60 L213.25,116.60 L213.50,116.60 L213.75,116.60 L214.00,116.60 L214.25,116.60 L214.50,116.60 L214.75,116.60 L215.00,116.60 L215.25,116.60 L215.50,116.60 L215.75,116.60 L216.00,116.60 L216.25,116.60 L216.50,116.60 L216.75,116.60 L217.00,116.60 L217.25,116.60 L217.50,116.60 L217.75,116.60 L218.00,116.60 L218.25,116.60 L218.50,116.60 L218.75,116.60 L219.00,116.60 L219.25,116.60 L219.50,116.60 L219.75,116.60 L220.00,116.60 L220.25,116.60 L220.50,116.60 L220.75,116.60 L221.00,116.60 L221.25,116.60 L221.50,116.60 L221.75,116.60 L222.00,116.60 L222.25,116.60 L222.50,116.60 L222.75,116.60 L223.00,116.60 L223.25,116.60 L223.50,116.60 L223.75,116.60 L224.00,116.60 L224.25,116.60 L224.50,116.60 L224.75,116.60 L225.00,116.60 L225.25,116.60 L225.50,116.60 L225.75,116.60 L226.00,116.60 L226.25,116.57 L226.50,116.53 L226.75,116.50 L227.00,116.46 L227.25,116.43 L227.50,116.39 L227.75,116.36 L228.00,116.32 L228.25,116.29 L228.50,116.26 L228.75,116.22 L229.00,116.19 L229.25,116.15 L229.50,116.12 L229.75,116.08 L230.00,116.05 L230.25,116.02 L230.50,115.98 L230.75,115.95 L231.00,115.91 L231.25,115.88 L231.50,115.84 L231.75,115.81 L232.00,115.78 L232.25,115.74 L232.50,115.71 L232.75,115.67 L233.00,115.64 L233.25,115.60 L233.50,115.57 L233.75,115.53 L234.00,115.50 L234.25,115.41 L234.50,115.31 L234.75,115.22 L235.00,115.12 L235.25,115.03 L235.50,114.94 L235.75,114.84 L236.00,114.75 L236.25,114.66 L236.50,114.56 L236.75,114.47 L237.00,114.38 L237.25,114.28 L237.50,114.19 L237.75,114.09 L238.00,114.00 L238.25,113.85 L238.50,113.70 L238.75,113.55 L239.00,113.39 L239.25,113.24 L239.50,113.09 L239.75,112.94 L240.00,112.79 L240.25,112.64 L240.50,112.49 L240.75,112.34 L241.00,112.18 L241.25,112.03 L241.50,111.88 L241.75,111.73 L242.00,111.36 L242.25,110.94 L242.50,110.52 L242.75,110.10 L243.00,109.68 L243.25,109.26 L243.50,108.84 L243.75,108.42 L244.00,108.00 L244.25,107.55 L244.50,107.10 L244.75,106.66 L245.00,106.21 L245.25,105.76 L245.50,105.31 L245.75,104.86 L246.00,104.42 L246.25,103.97 L246.50,103.28 L246.75,102.23 L247.00,101.19 L247.25,100.14 L247.50,99.09 L247.75,98.05 L248.00,97.00 L248.25,96.03 L248.50,95.06 L248.75,94.08 L249.00,93.11 L249.25,92.14 L249.50,91.17 L249.75,90.19 L250.00,89.00 L250.25,87.75 L250.50,86.50 L250.75,86.81 L251.00,87.12 L251.25,87.44 L251.50,86.72 L251.75,85.75 L252.00,84.78 L252.25,83.58 L252.50,81.51 L252.75,79.43 L253.00,77.35 L253.25,75.27 L253.50,73.19 L253.75,71.12 L254.00,69.77 L254.25,68.61 L254.50,67.45 L254.75,66.29 L255.00,65.12 L255.25,63.96 L255.50,62.80 L255.75,62.60 L256.00,62.40 L256.25,62.20 L256.50,62.00 L256.75,61.82 L257.00,61.64 L257.25,61.22 L257.50,59.85 L257.75,58.47 L258.00,57.10 L258.25,55.84 L258.50,55.01 L258.75,54.19 L259.00,53.58 L259.25,53.27 L259.50,52.97 L259.75,52.67 L260.00,52.36 L260.25,52.06 L260.50,52.31 L260.75,52.70 L261.00,53.08 L261.25,53.47 L261.50,54.20 L261.75,55.45 L262.00,56.70 L262.25,57.95 L262.50,59.40 L262.75,60.90 L263.00,62.40 L263.25,63.90 L263.50,65.40 L263.75,66.90 L264.00,68.40 L264.25,70.08 L264.50,71.75 L264.75,73.43 L265.00,75.11 L265.25,76.78 L265.50,78.46 L265.75,80.28 L266.00,82.65 L266.25,85.03 L266.50,87.40 L266.75,89.78 L267.00,92.34 L267.25,95.18 L267.50,98.02 L267.75,100.86 L268.00,103.70 L268.25,105.60 L268.50,107.49 L268.75,109.39 L269.00,111.28 L269.25,112.97 L269.50,113.84 L269.75,114.70 L270.00,115.56 L270.25,116.43 L270.50,116.60 L270.75,116.60 L271.00,116.60 L271.25,116.60 L271.50,116.60 L271.75,116.60 L272.00,116.60 L272.25,116.60 L272.50,116.60 L272.75,116.60 L273.00,116.60 L273.25,116.60 L273.50,116.60 L273.75,116.60 L274.00,116.60 L274.25,116.60 L274.50,116.60 L274.75,116.60 L275.00,116.60 L275.25,116.60 L275.50,116.60 L275.75,116.60 L276.00,116.60 L276.25,116.60 L276.50,116.60 L276.75,116.60 L277.00,116.60 L277.25,116.60 L277.50,116.60 L277.75,116.60 L278.00,116.60 L278.25,116.60 L278.50,116.60 L278.75,116.60 L279.00,116.60 L279.25,116.60 L279.50,116.60 L279.75,116.60 L280.00,116.60 L280.25,116.60 L280.50,116.60 L280.75,116.60 L281.00,116.60 L281.25,116.60 L281.50,116.60 L281.75,116.60 L282.00,116.60 L282.25,116.60 L282.50,116.60 L282.75,116.60 L283.00,116.60 L283.25,116.60 L283.50,116.60 L283.75,116.60 L284.00,116.60 L284.00,116.60 Z" fill="#d8604f"/>
<path d="M211.50,116.60 L211.50,116.60 L211.75,116.60 L212.00,116.60 L212.25,116.60 L212.50,116.60 L212.75,116.60 L213.00,116.60 L213.25,116.60 L213.50,116.60 L213.75,116.60 L214.00,116.60 L214.25,116.60 L214.50,116.60 L214.75,116.60 L215.00,116.60 L215.25,116.60 L215.50,116.60 L215.75,116.60 L216.00,116.60 L216.25,116.60 L216.50,116.60 L216.75,116.60 L217.00,116.60 L217.25,116.60 L217.50,116.60 L217.75,116.60 L218.00,116.60 L218.25,116.60 L218.50,116.60 L218.75,116.60 L219.00,116.60 L219.25,116.60 L219.50,116.60 L219.75,116.60 L220.00,116.60 L220.25,116.60 L220.50,116.60 L220.75,116.60 L221.00,116.60 L221.25,116.60 L221.50,116.60 L221.75,116.60 L222.00,116.60 L222.25,116.60 L222.50,116.60 L222.75,116.60 L223.00,116.60 L223.25,116.60 L223.50,116.60 L223.75,116.60 L224.00,116.60 L224.25,116.60 L224.50,116.60 L224.75,116.60 L225.00,116.60 L225.25,116.60 L225.50,116.60 L225.75,116.60 L226.00,116.60 L226.25,116.60 L226.50,116.60 L226.75,116.60 L227.00,116.60 L227.25,116.60 L227.50,116.60 L227.75,116.60 L228.00,116.60 L228.25,116.57 L228.50,116.54 L228.75,116.51 L229.00,116.47 L229.25,116.44 L229.50,116.41 L229.75,116.38 L230.00,116.35 L230.25,116.32 L230.50,116.29 L230.75,116.26 L231.00,116.22 L231.25,116.19 L231.50,116.16 L231.75,116.13 L232.00,116.10 L232.25,116.07 L232.50,116.04 L232.75,116.01 L233.00,115.97 L233.25,115.94 L233.50,115.91 L233.75,115.88 L234.00,115.85 L234.25,115.82 L234.50,115.79 L234.75,115.76 L235.00,115.72 L235.25,115.69 L235.50,115.66 L235.75,115.63 L236.00,115.60 L236.25,115.50 L236.50,115.40 L236.75,115.30 L237.00,115.20 L237.25,115.10 L237.50,115.00 L237.75,114.90 L238.00,114.80 L238.25,114.70 L238.50,114.60 L238.75,114.50 L239.00,114.40 L239.25,114.30 L239.50,114.20 L239.75,114.10 L240.00,114.00 L240.25,113.79 L240.50,113.57 L240.75,113.36 L241.00,113.14 L241.25,112.93 L241.50,112.71 L241.75,112.50 L242.00,112.29 L242.25,112.07 L242.50,111.86 L242.75,111.64 L243.00,111.43 L243.25,111.21 L243.50,111.00 L243.75,110.50 L244.00,110.00 L244.25,109.50 L244.50,109.00 L244.75,108.50 L245.00,108.00 L245.25,107.50 L245.50,107.00 L245.75,106.50 L246.00,106.00 L246.25,105.25 L246.50,104.50 L246.75,103.75 L247.00,103.00 L247.25,102.25 L247.50,101.50 L247.75,100.75 L248.00,100.00 L248.25,99.12 L248.50,98.25 L248.75,97.38 L249.00,96.50 L249.25,95.62 L249.50,94.75 L249.75,93.88 L250.00,93.00 L250.25,92.00 L250.50,91.00 L250.75,90.00 L251.00,89.00 L251.25,88.00 L251.50,87.00 L251.75,86.00 L252.00,85.00 L252.25,83.62 L252.50,82.25 L252.75,80.88 L253.00,79.50 L253.25,78.12 L253.50,76.75 L253.75,75.38 L254.00,74.00 L254.25,72.88 L254.50,71.75 L254.75,70.62 L255.00,69.50 L255.25,68.38 L255.50,67.25 L255.75,66.12 L256.00,65.00 L256.25,64.19 L256.50,63.38 L256.75,62.56 L257.00,61.75 L257.25,60.94 L257.50,60.12 L257.75,59.31 L258.00,58.50 L258.25,58.06 L258.50,57.62 L258.75,57.19 L259.00,56.75 L259.25,56.31 L259.50,55.88 L259.75,55.44 L260.00,55.00 L260.25,55.08 L260.50,55.17 L260.75,55.25 L261.00,55.33 L261.25,55.42 L261.50,55.50 L261.75,56.08 L262.00,56.67 L262.25,57.25 L262.50,57.83 L262.75,58.42 L263.00,59.00 L263.25,60.50 L263.50,62.00 L263.75,63.50 L264.00,65.00 L264.25,66.36 L264.50,67.72 L264.75,69.08 L265.00,70.43 L265.25,71.79 L265.50,73.15 L265.75,74.51 L266.00,75.87 L266.25,77.23 L266.50,78.74 L266.75,80.28 L267.00,81.82 L267.25,83.37 L267.50,84.91 L267.75,86.46 L268.00,88.00 L268.25,89.88 L268.50,91.75 L268.75,93.63 L269.00,95.50 L269.25,97.31 L269.50,98.85 L269.75,100.38 L270.00,101.92 L270.25,103.46 L270.50,105.00 L270.75,106.00 L271.00,107.00 L271.25,108.00 L271.50,109.00 L271.75,110.00 L272.00,111.00 L272.25,111.59 L272.50,112.18 L272.75,112.76 L273.00,113.35 L273.25,113.94 L273.50,114.53 L273.75,115.06 L274.00,115.37 L274.25,115.68 L274.50,115.98 L274.75,116.29 L275.00,116.60 L275.25,116.60 L275.50,116.60 L275.75,116.60 L276.00,116.60 L276.25,116.60 L276.50,116.60 L276.75,116.60 L277.00,116.60 L277.25,116.60 L277.50,116.60 L277.75,116.60 L278.00,116.60 L278.25,116.60 L278.50,116.60 L278.75,116.60 L279.00,116.60 L279.25,116.60 L279.50,116.60 L279.75,116.60 L280.00,116.60 L280.25,116.60 L280.50,116.60 L280.75,116.60 L281.00,116.60 L281.25,116.60 L281.50,116.60 L281.75,116.60 L282.00,116.60 L282.25,116.60 L282.50,116.60 L282.75,116.60 L283.00,116.60 L283.25,116.60 L283.50,116.60 L283.75,116.60 L284.00,116.60 L284.00,116.60 Z" fill="#9cc870"/>
<path d="M211.50,116.60 L211.50,116.60 L211.75,116.60 L212.00,116.60 L212.25,116.60 L212.50,116.60 L212.75,116.60 L213.00,116.60 L213.25,116.60 L213.50,116.60 L213.75,116.60 L214.00,116.60 L214.25,116.60 L214.50,116.60 L214.75,116.60 L215.00,116.60 L215.25,116.60 L215.50,116.60 L215.75,116.60 L216.00,116.60 L216.25,116.60 L216.50,116.60 L216.75,116.60 L217.00,116.60 L217.25,116.60 L217.50,116.60 L217.75,116.60 L218.00,116.60 L218.25,116.60 L218.50,116.60 L218.75,116.60 L219.00,116.60 L219.25,116.60 L219.50,116.60 L219.75,116.60 L220.00,116.60 L220.25,116.60 L220.50,116.60 L220.75,116.60 L221.00,116.60 L221.25,116.60 L221.50,116.60 L221.75,116.60 L222.00,116.60 L222.25,116.60 L222.50,116.60 L222.75,116.60 L223.00,116.60 L223.25,116.60 L223.50,116.60 L223.75,116.60 L224.00,116.60 L224.25,116.60 L224.50,116.60 L224.75,116.60 L225.00,116.60 L225.25,116.60 L225.50,116.60 L225.75,116.60 L226.00,116.60 L226.25,116.60 L226.50,116.60 L226.75,116.60 L227.00,116.60 L227.25,116.60 L227.50,116.60 L227.75,116.60 L228.00,116.60 L228.25,116.57 L228.50,116.54 L228.75,116.51 L229.00,116.47 L229.25,116.44 L229.50,116.41 L229.75,116.38 L230.00,116.35 L230.25,116.32 L230.50,116.29 L230.75,116.26 L231.00,116.22 L231.25,116.19 L231.50,116.16 L231.75,116.13 L232.00,116.10 L232.25,116.07 L232.50,116.04 L232.75,116.01 L233.00,115.97 L233.25,115.94 L233.50,115.91 L233.75,115.88 L234.00,115.85 L234.25,115.82 L234.50,115.79 L234.75,115.76 L235.00,115.72 L235.25,115.69 L235.50,115.66 L235.75,115.63 L236.00,115.60 L236.25,115.50 L236.50,115.40 L236.75,115.30 L237.00,115.20 L237.25,115.10 L237.50,115.00 L237.75,114.90 L238.00,114.80 L238.25,114.70 L238.50,114.60 L238.75,114.50 L239.00,114.40 L239.25,114.30 L239.50,114.20 L239.75,114.10 L240.00,114.00 L240.25,113.79 L240.50,113.57 L240.75,113.36 L241.00,113.14 L241.25,112.93 L241.50,112.71 L241.75,112.50 L242.00,112.29 L242.25,112.07 L242.50,111.86 L242.75,111.64 L243.00,111.43 L243.25,111.21 L243.50,111.00 L243.75,110.50 L244.00,110.00 L244.25,109.50 L244.50,109.00 L244.75,108.50 L245.00,108.00 L245.25,107.50 L245.50,107.00 L245.75,106.50 L246.00,106.00 L246.25,105.25 L246.50,104.50 L246.75,103.75 L247.00,103.00 L247.25,102.25 L247.50,101.50 L247.75,100.75 L248.00,100.00 L248.25,99.12 L248.50,98.25 L248.75,97.38 L249.00,96.50 L249.25,95.62 L249.50,94.75 L249.75,93.88 L250.00,93.00 L250.25,92.00 L250.50,91.00 L250.75,90.00 L251.00,89.00 L251.25,88.00 L251.50,87.00 L251.75,86.00 L252.00,85.00 L252.25,83.62 L252.50,82.25 L252.75,80.88 L253.00,79.50 L253.25,78.12 L253.50,76.75 L253.75,75.38 L254.00,74.00 L254.25,72.88 L254.50,71.75 L254.75,70.62 L255.00,69.50 L255.25,68.38 L255.50,67.25 L255.75,66.12 L256.00,65.00 L256.25,64.19 L256.50,63.38 L256.75,62.56 L257.00,61.75 L257.25,61.22 L257.50,60.12 L257.75,59.31 L258.00,58.50 L258.25,58.06 L258.50,57.62 L258.75,57.19 L259.00,56.75 L259.25,56.31 L259.50,55.88 L259.75,55.44 L260.00,55.00 L260.25,55.08 L260.50,55.17 L260.75,55.25 L261.00,55.33 L261.25,55.42 L261.50,55.50 L261.75,56.08 L262.00,56.70 L262.25,57.95 L262.50,59.40 L262.75,60.90 L263.00,62.40 L263.25,63.90 L263.50,65.40 L263.75,66.90 L264.00,68.40 L264.25,70.08 L264.50,71.75 L264.75,73.43 L265.00,75.11 L265.25,76.78 L265.50,78.46 L265.75,80.28 L266.00,82.65 L266.25,85.03 L266.50,87.40 L266.75,89.78 L267.00,92.34 L267.25,95.18 L267.50,98.02 L267.75,100.86 L268.00,103.70 L268.25,105.60 L268.50,107.49 L268.75,109.39 L269.00,111.28 L269.25,112.97 L269.50,113.84 L269.75,114.70 L270.00,115.56 L270.25,116.43 L270.50,116.60 L270.75,116.60 L271.00,116.60 L271.25,116.60 L271.50,116.60 L271.75,116.60 L272.00,116.60 L272.25,116.60 L272.50,116.60 L272.75,116.60 L273.00,116.60 L273.25,116.60 L273.50,116.60 L273.75,116.60 L274.00,116.60 L274.25,116.60 L274.50,116.60 L274.75,116.60 L275.00,116.60 L275.25,116.60 L275.50,116.60 L275.75,116.60 L276.00,116.60 L276.25,116.60 L276.50,116.60 L276.75,116.60 L277.00,116.60 L277.25,116.60 L277.50,116.60 L277.75,116.60 L278.00,116.60 L278.25,116.60 L278.50,116.60 L278.75,116.60 L279.00,116.60 L279.25,116.60 L279.50,116.60 L279.75,116.60 L280.00,116.60 L280.25,116.60 L280.50,116.60 L280.75,116.60 L281.00,116.60 L281.25,116.60 L281.50,116.60 L281.75,116.60 L282.00,116.60 L282.25,116.60 L282.50,116.60 L282.75,116.60 L283.00,116.60 L283.25,116.60 L283.50,116.60 L283.75,116.60 L284.00,116.60 L284.00,116.60 Z" fill="#c98d5c"/>
<path d="M211.50,116.60 L211.75,116.60 L212.00,116.60 L212.25,116.60 L212.50,116.60 L212.75,116.60 L213.00,116.60 L213.25,116.60 L213.50,116.60 L213.75,116.60 L214.00,116.60 L214.25,116.60 L214.50,116.60 L214.75,116.60 L215.00,116.60 L215.25,116.60 L215.50,116.60 L215.75,116.60 L216.00,116.60 L216.25,116.60 L216.50,116.60 L216.75,116.60 L217.00,116.60 L217.25,116.60 L217.50,116.60 L217.75,116.60 L218.00,116.60 L218.25,116.60 L218.50,116.60 L218.75,116.60 L219.00,116.60 L219.25,116.60 L219.50,116.60 L219.75,116.60 L220.00,116.60 L220.25,116.60 L220.50,116.60 L220.75,116.60 L221.00,116.60 L221.25,116.60 L221.50,116.60 L221.75,116.60 L222.00,116.60 L222.25,116.60 L222.50,116.60 L222.75,116.60 L223.00,116.60 L223.25,116.60 L223.50,116.60 L223.75,116.60 L224.00,116.60 L224.25,116.60 L224.50,116.60 L224.75,116.60 L225.00,116.60 L225.25,116.60 L225.50,116.60 L225.75,116.60 L226.00,116.60 L226.25,116.60 L226.50,116.60 L226.75,116.60 L227.00,116.60 L227.25,116.60 L227.50,116.60 L227.75,116.60 L228.00,116.60 L228.25,116.57 L228.50,116.54 L228.75,116.51 L229.00,116.47 L229.25,116.44 L229.50,116.41 L229.75,116.38 L230.00,116.35 L230.25,116.32 L230.50,116.29 L230.75,116.26 L231.00,116.22 L231.25,116.19 L231.50,116.16 L231.75,116.13 L232.00,116.10 L232.25,116.07 L232.50,116.04 L232.75,116.01 L233.00,115.97 L233.25,115.94 L233.50,115.91 L233.75,115.88 L234.00,115.85 L234.25,115.82 L234.50,115.79 L234.75,115.76 L235.00,115.72 L235.25,115.69 L235.50,115.66 L235.75,115.63 L236.00,115.60 L236.25,115.50 L236.50,115.40 L236.75,115.30 L237.00,115.20 L237.25,115.10 L237.50,115.00 L237.75,114.90 L238.00,114.80 L238.25,114.70 L238.50,114.60 L238.75,114.50 L239.00,114.40 L239.25,114.30 L239.50,114.20 L239.75,114.10 L240.00,114.00 L240.25,113.79 L240.50,113.57 L240.75,113.36 L241.00,113.14 L241.25,112.93 L241.50,112.71 L241.75,112.50 L242.00,112.29 L242.25,112.07 L242.50,111.86 L242.75,111.64 L243.00,111.43 L243.25,111.21 L243.50,111.00 L243.75,110.50 L244.00,110.00 L244.25,109.50 L244.50,109.00 L244.75,108.50 L245.00,108.00 L245.25,107.50 L245.50,107.00 L245.75,106.50 L246.00,106.00 L246.25,105.25 L246.50,104.50 L246.75,103.75 L247.00,103.00 L247.25,102.25 L247.50,101.50 L247.75,100.75 L248.00,100.00 L248.25,99.12 L248.50,98.25 L248.75,97.38 L249.00,96.50 L249.25,95.62 L249.50,94.75 L249.75,93.88 L250.00,93.00 L250.25,92.00 L250.50,91.00 L250.75,90.00 L251.00,89.00 L251.25,88.00 L251.50,87.00 L251.75,86.00 L252.00,85.00 L252.25,83.62 L252.50,82.25 L252.75,80.88 L253.00,79.50 L253.25,78.12 L253.50,76.75 L253.75,75.38 L254.00,74.00 L254.25,72.88 L254.50,71.75 L254.75,70.62 L255.00,69.50 L255.25,68.38 L255.50,67.25 L255.75,66.12 L256.00,65.00 L256.25,64.19 L256.50,63.38 L256.75,62.56 L257.00,61.75 L257.25,60.94 L257.50,60.12 L257.75,59.31 L258.00,58.50 L258.25,58.06 L258.50,57.62 L258.75,57.19 L259.00,56.75 L259.25,56.31 L259.50,55.88 L259.75,55.44 L260.00,55.00 L260.25,55.08 L260.50,55.17 L260.75,55.25 L261.00,55.33 L261.25,55.42 L261.50,55.50 L261.75,56.08 L262.00,56.67 L262.25,57.25 L262.50,57.83 L262.75,58.42 L263.00,59.00 L263.25,60.50 L263.50,62.00 L263.75,63.50 L264.00,65.00 L264.25,66.36 L264.50,67.72 L264.75,69.08 L265.00,70.43 L265.25,71.79 L265.50,73.15 L265.75,74.51 L266.00,75.87 L266.25,77.23 L266.50,78.74 L266.75,80.28 L267.00,81.82 L267.25,83.37 L267.50,84.91 L267.75,86.46 L268.00,88.00 L268.25,89.88 L268.50,91.75 L268.75,93.63 L269.00,95.50 L269.25,97.31 L269.50,98.85 L269.75,100.38 L270.00,101.92 L270.25,103.46 L270.50,105.00 L270.75,106.00 L271.00,107.00 L271.25,108.00 L271.50,109.00 L271.75,110.00 L272.00,111.00 L272.25,111.59 L272.50,112.18 L272.75,112.76 L273.00,113.35 L273.25,113.94 L273.50,114.53 L273.75,115.06 L274.00,115.37 L274.25,115.68 L274.50,115.98 L274.75,116.29 L275.00,116.60 L275.25,116.60 L275.50,116.60 L275.75,116.60 L276.00,116.60 L276.25,116.60 L276.50,116.60 L276.75,116.60 L277.00,116.60 L277.25,116.60 L277.50,116.60 L277.75,116.60 L278.00,116.60 L278.25,116.60 L278.50,116.60 L278.75,116.60 L279.00,116.60 L279.25,116.60 L279.50,116.60 L279.75,116.60 L280.00,116.60 L280.25,116.60 L280.50,116.60 L280.75,116.60 L281.00,116.60 L281.25,116.60 L281.50,116.60 L281.75,116.60 L282.00,116.60 L282.25,116.60 L282.50,116.60 L282.75,116.60 L283.00,116.60 L283.25,116.60 L283.50,116.60 L283.75,116.60 L284.00,116.60" fill="none" stroke="#3aae44" stroke-width="0.9"/>
<path d="M211.50,116.60 L211.75,116.60 L212.00,116.60 L212.25,116.60 L212.50,116.60 L212.75,116.60 L213.00,116.60 L213.25,116.60 L213.50,116.60 L213.75,116.60 L214.00,116.60 L214.25,116.60 L214.50,116.60 L214.75,116.60 L215.00,116.60 L215.25,116.60 L215.50,116.60 L215.75,116.60 L216.00,116.60 L216.25,116.60 L216.50,116.60 L216.75,116.60 L217.00,116.60 L217.25,116.60 L217.50,116.60 L217.75,116.60 L218.00,116.60 L218.25,116.60 L218.50,116.60 L218.75,116.60 L219.00,116.60 L219.25,116.60 L219.50,116.60 L219.75,116.60 L220.00,116.60 L220.25,116.60 L220.50,116.60 L220.75,116.60 L221.00,116.60 L221.25,116.60 L221.50,116.60 L221.75,116.60 L222.00,116.60 L222.25,116.60 L222.50,116.60 L222.75,116.60 L223.00,116.60 L223.25,116.60 L223.50,116.60 L223.75,116.60 L224.00,116.60 L224.25,116.60 L224.50,116.60 L224.75,116.60 L225.00,116.60 L225.25,116.60 L225.50,116.60 L225.75,116.60 L226.00,116.60 L226.25,116.57 L226.50,116.53 L226.75,116.50 L227.00,116.46 L227.25,116.43 L227.50,116.39 L227.75,116.36 L228.00,116.32 L228.25,116.29 L228.50,116.26 L228.75,116.22 L229.00,116.19 L229.25,116.15 L229.50,116.12 L229.75,116.08 L230.00,116.05 L230.25,116.02 L230.50,115.98 L230.75,115.95 L231.00,115.91 L231.25,115.88 L231.50,115.84 L231.75,115.81 L232.00,115.78 L232.25,115.74 L232.50,115.71 L232.75,115.67 L233.00,115.64 L233.25,115.60 L233.50,115.57 L233.75,115.53 L234.00,115.50 L234.25,115.41 L234.50,115.31 L234.75,115.22 L235.00,115.12 L235.25,115.03 L235.50,114.94 L235.75,114.84 L236.00,114.75 L236.25,114.66 L236.50,114.56 L236.75,114.47 L237.00,114.38 L237.25,114.28 L237.50,114.19 L237.75,114.09 L238.00,114.00 L238.25,113.85 L238.50,113.70 L238.75,113.55 L239.00,113.39 L239.25,113.24 L239.50,113.09 L239.75,112.94 L240.00,112.79 L240.25,112.64 L240.50,112.49 L240.75,112.34 L241.00,112.18 L241.25,112.03 L241.50,111.88 L241.75,111.73 L242.00,111.36 L242.25,110.94 L242.50,110.52 L242.75,110.10 L243.00,109.68 L243.25,109.26 L243.50,108.84 L243.75,108.42 L244.00,108.00 L244.25,107.55 L244.50,107.10 L244.75,106.66 L245.00,106.21 L245.25,105.76 L245.50,105.31 L245.75,104.86 L246.00,104.42 L246.25,103.97 L246.50,103.28 L246.75,102.23 L247.00,101.19 L247.25,100.14 L247.50,99.09 L247.75,98.05 L248.00,97.00 L248.25,96.03 L248.50,95.06 L248.75,94.08 L249.00,93.11 L249.25,92.14 L249.50,91.17 L249.75,90.19 L250.00,89.00 L250.25,87.75 L250.50,86.50 L250.75,86.81 L251.00,87.12 L251.25,87.44 L251.50,86.72 L251.75,85.75 L252.00,84.78 L252.25,83.58 L252.50,81.51 L252.75,79.43 L253.00,77.35 L253.25,75.27 L253.50,73.19 L253.75,71.12 L254.00,69.77 L254.25,68.61 L254.50,67.45 L254.75,66.29 L255.00,65.12 L255.25,63.96 L255.50,62.80 L255.75,62.60 L256.00,62.40 L256.25,62.20 L256.50,62.00 L256.75,61.82 L257.00,61.64 L257.25,61.22 L257.50,59.85 L257.75,58.47 L258.00,57.10 L258.25,55.84 L258.50,55.01 L258.75,54.19 L259.00,53.58 L259.25,53.27 L259.50,52.97 L259.75,52.67 L260.00,52.36 L260.25,52.06 L260.50,52.31 L260.75,52.70 L261.00,53.08 L261.25,53.47 L261.50,54.20 L261.75,55.45 L262.00,56.70 L262.25,57.95 L262.50,59.40 L262.75,60.90 L263.00,62.40 L263.25,63.90 L263.50,65.40 L263.75,66.90 L264.00,68.40 L264.25,70.08 L264.50,71.75 L264.75,73.43 L265.00,75.11 L265.25,76.78 L265.50,78.46 L265.75,80.28 L266.00,82.65 L266.25,85.03 L266.50,87.40 L266.75,89.78 L267.00,92.34 L267.25,95.18 L267.50,98.02 L267.75,100.86 L268.00,103.70 L268.25,105.60 L268.50,107.49 L268.75,109.39 L269.00,111.28 L269.25,112.97 L269.50,113.84 L269.75,114.70 L270.00,115.56 L270.25,116.43 L270.50,116.60 L270.75,116.60 L271.00,116.60 L271.25,116.60 L271.50,116.60 L271.75,116.60 L272.00,116.60 L272.25,116.60 L272.50,116.60 L272.75,116.60 L273.00,116.60 L273.25,116.60 L273.50,116.60 L273.75,116.60 L274.00,116.60 L274.25,116.60 L274.50,116.60 L274.75,116.60 L275.00,116.60 L275.25,116.60 L275.50,116.60 L275.75,116.60 L276.00,116.60 L276.25,116.60 L276.50,116.60 L276.75,116.60 L277.00,116.60 L277.25,116.60 L277.50,116.60 L277.75,116.60 L278.00,116.60 L278.25,116.60 L278.50,116.60 L278.75,116.60 L279.00,116.60 L279.25,116.60 L279.50,116.60 L279.75,116.60 L280.00,116.60 L280.25,116.60 L280.50,116.60 L280.75,116.60 L281.00,116.60 L281.25,116.60 L281.50,116.60 L281.75,116.60 L282.00,116.60 L282.25,116.60 L282.50,116.60 L282.75,116.60 L283.00,116.60 L283.25,116.60 L283.50,116.60 L283.75,116.60 L284.00,116.60" fill="none" stroke="#d0102c" stroke-width="0.9"/>
<path d="M216.00,116.60 L216.25,115.77 L216.50,114.95 L216.75,114.12 L217.00,113.30 L217.25,112.47 L217.50,111.65 L217.75,110.83 L218.00,110.00 L218.25,108.75 L218.50,107.50 L218.75,106.25 L219.00,105.00 L219.25,103.75 L219.50,102.50 L219.75,101.25 L220.00,100.00 L220.25,98.50 L220.50,97.00 L220.75,95.50 L221.00,94.00 L221.25,92.50 L221.50,91.00 L221.75,89.50 L222.00,88.00 L222.25,86.38 L222.50,84.75 L222.75,83.12 L223.00,81.50 L223.25,79.88 L223.50,78.25 L223.75,76.62 L224.00,75.00 L224.25,73.88 L224.50,72.75 L224.75,71.62 L225.00,70.50 L225.25,69.38 L225.50,68.25 L225.75,67.12 L226.00,66.00 L226.25,65.00 L226.50,64.00 L226.75,63.00 L227.00,62.00 L227.25,61.00 L227.50,60.00 L227.75,59.00 L228.00,58.00 L228.25,57.62 L228.50,57.25 L228.75,56.88 L229.00,56.50 L229.25,56.13 L229.50,55.75 L229.75,55.38 L230.00,55.75 L230.25,56.31 L230.50,56.87 L230.75,57.44 L231.00,58.00 L231.25,58.50 L231.50,59.00 L231.75,59.50 L232.00,60.00 L232.25,60.50 L232.50,61.00 L232.75,61.50 L233.00,62.00 L233.25,63.00 L233.50,64.00 L233.75,65.00 L234.00,66.00 L234.25,67.00 L234.50,68.00 L234.75,69.00 L235.00,70.00 L235.25,71.50 L235.50,73.00 L235.75,74.50 L236.00,76.00 L236.25,77.50 L236.50,79.00 L236.75,80.50 L237.00,82.00 L237.25,83.75 L237.50,85.50 L237.75,87.25 L238.00,89.00 L238.25,90.75 L238.50,92.50 L238.75,94.25 L239.00,96.00 L239.25,97.50 L239.50,99.00 L239.75,100.50 L240.00,102.00 L240.25,103.50 L240.50,105.00 L240.75,106.50 L241.00,108.00 L241.25,109.08 L241.50,110.15 L241.75,111.22 L242.00,112.30 L242.25,113.38 L242.50,114.45 L242.75,115.52 L243.00,116.60" fill="none" stroke="#333" stroke-width="1.0" stroke-dasharray="1 0.9"/>
<rect x="133.2" y="43.8" width="76.8" height="73.2" fill="none" stroke="#111" stroke-width="0.9"/>
<rect x="210.2" y="43.6" width="74.4" height="73.4" fill="none" stroke="#111" stroke-width="0.9"/>
<line x1="210.20" y1="43.20" x2="210.20" y2="117.00" stroke="#111" stroke-width="2.2"/>
<line x1="137.00" y1="117.00" x2="137.00" y2="115.50" stroke="#111" stroke-width="0.6"/>
<line x1="146.00" y1="117.00" x2="146.00" y2="115.50" stroke="#111" stroke-width="0.6"/>
<line x1="152.00" y1="117.00" x2="152.00" y2="115.50" stroke="#111" stroke-width="0.6"/>
<line x1="160.00" y1="117.00" x2="160.00" y2="115.50" stroke="#111" stroke-width="0.6"/>
<line x1="169.00" y1="117.00" x2="169.00" y2="115.50" stroke="#111" stroke-width="0.6"/>
<line x1="178.00" y1="117.00" x2="178.00" y2="115.50" stroke="#111" stroke-width="0.6"/>
<line x1="186.00" y1="117.00" x2="186.00" y2="115.50" stroke="#111" stroke-width="0.6"/>
<line x1="195.00" y1="117.00" x2="195.00" y2="115.50" stroke="#111" stroke-width="0.6"/>
<line x1="204.00" y1="117.00" x2="204.00" y2="115.50" stroke="#111" stroke-width="0.6"/>
<line x1="214.00" y1="117.00" x2="214.00" y2="115.50" stroke="#111" stroke-width="0.6"/>
<line x1="222.00" y1="117.00" x2="222.00" y2="115.50" stroke="#111" stroke-width="0.6"/>
<line x1="229.00" y1="117.00" x2="229.00" y2="115.50" stroke="#111" stroke-width="0.6"/>
<line x1="236.00" y1="117.00" x2="236.00" y2="115.50" stroke="#111" stroke-width="0.6"/>
<line x1="244.00" y1="117.00" x2="244.00" y2="115.50" stroke="#111" stroke-width="0.6"/>
<line x1="252.00" y1="117.00" x2="252.00" y2="115.50" stroke="#111" stroke-width="0.6"/>
<line x1="260.00" y1="117.00" x2="260.00" y2="115.50" stroke="#111" stroke-width="0.6"/>
<line x1="268.00" y1="117.00" x2="268.00" y2="115.50" stroke="#111" stroke-width="0.6"/>
<line x1="276.00" y1="117.00" x2="276.00" y2="115.50" stroke="#111" stroke-width="0.6"/>
<line x1="282.00" y1="117.00" x2="282.00" y2="115.50" stroke="#111" stroke-width="0.6"/>
<line x1="133.20" y1="55.00" x2="134.60" y2="55.00" stroke="#111" stroke-width="0.6"/>
<line x1="133.20" y1="66.00" x2="134.60" y2="66.00" stroke="#111" stroke-width="0.6"/>
<line x1="133.20" y1="77.00" x2="134.60" y2="77.00" stroke="#111" stroke-width="0.6"/>
<line x1="133.20" y1="88.00" x2="134.60" y2="88.00" stroke="#111" stroke-width="0.6"/>
<line x1="133.20" y1="99.00" x2="134.60" y2="99.00" stroke="#111" stroke-width="0.6"/>
<line x1="133.20" y1="110.00" x2="134.60" y2="110.00" stroke="#111" stroke-width="0.6"/>
<text x="152.00" y="38.55" font-size="8.20" text-anchor="middle" fill="#222" textLength="32.20" lengthAdjust="spacingAndGlyphs" stroke="#222" stroke-width="0.05">Resident</text>
<text x="230.70" y="38.75" font-size="8.20" text-anchor="middle" fill="#222" textLength="36.00" lengthAdjust="spacingAndGlyphs" stroke="#222" stroke-width="0.05">Recruited</text>
<text x="123.45" y="79.60" font-size="6.80" text-anchor="middle" fill="#333" stroke="#333" stroke-width="0.1" textLength="18.50" lengthAdjust="spacingAndGlyphs" transform="rotate(-90 123.45 79.60)">Count</text>
<text x="141.70" y="68.12" font-size="5.90" text-anchor="middle" fill="#4d5a6a" stroke="#4d5a6a" stroke-width="0.05">MFI</text>
<text x="141.70" y="75.12" font-size="5.90" text-anchor="middle" fill="#4d5a6a" stroke="#4d5a6a" stroke-width="0.05">495</text>
<text x="173.50" y="50.72" font-size="5.90" text-anchor="middle" fill="#cc0a2f" stroke="#cc0a2f" stroke-width="0.05">MFI</text>
<text x="173.50" y="57.62" font-size="5.90" text-anchor="middle" fill="#cc0a2f" stroke="#cc0a2f" stroke-width="0.05">17.258</text>
<text x="198.50" y="50.72" font-size="5.90" text-anchor="middle" fill="#3aa845" stroke="#3aa845" stroke-width="0.05">MFI</text>
<text x="198.50" y="57.62" font-size="5.90" text-anchor="middle" fill="#3aa845" stroke="#3aa845" stroke-width="0.05">21.665</text>
<text x="219.80" y="68.62" font-size="5.90" text-anchor="middle" fill="#4d5a6a" stroke="#4d5a6a" stroke-width="0.05">MFI</text>
<text x="219.80" y="75.12" font-size="5.90" text-anchor="middle" fill="#4d5a6a" stroke="#4d5a6a" stroke-width="0.05">574</text>
<text x="245.80" y="51.72" font-size="5.90" text-anchor="middle" fill="#cc0a2f" stroke="#cc0a2f" stroke-width="0.05">MFI</text>
<text x="245.80" y="58.62" font-size="5.90" text-anchor="middle" fill="#cc0a2f" stroke="#cc0a2f" stroke-width="0.05">12.848</text>
<text x="274.60" y="54.62" font-size="5.90" text-anchor="middle" fill="#3aa845" stroke="#3aa845" stroke-width="0.05">MFI</text>
<text x="274.60" y="61.72" font-size="5.90" text-anchor="middle" fill="#3aa845" stroke="#3aa845" stroke-width="0.05">16.609</text>
<text x="209.30" y="132.10" font-size="5.00" text-anchor="middle" fill="#333" textLength="26.00" lengthAdjust="spacingAndGlyphs" stroke="#333" stroke-width="0.05">MTG (FITC)</text>
<rect x="159" y="137.3" width="9.6" height="5.6" fill="none" stroke="#333" stroke-width="0.6" stroke-dasharray="0.8 0.8"/>
<text x="171.50" y="142.32" font-size="5.60" text-anchor="start" fill="#333" textLength="26.00" lengthAdjust="spacingAndGlyphs" stroke="#333" stroke-width="0.05">Unstained</text>
<rect x="204.40" y="136.80" width="8.40" height="5.60" fill="#2fac3e"/>
<text x="216.00" y="142.32" font-size="5.60" text-anchor="start" fill="#333" stroke="#333" stroke-width="0.05">NT</text>
<rect x="230.40" y="136.80" width="9.20" height="5.60" fill="#cc0a2f"/>
<text x="242.90" y="142.32" font-size="5.60" text-anchor="start" fill="#333" textLength="15.50" lengthAdjust="spacingAndGlyphs" stroke="#333" stroke-width="0.05">Heme</text>
<rect x="42.10" y="74.90" width="14.40" height="45.10" fill="#2fac3e"/>
<rect x="58.80" y="90.69" width="14.10" height="29.31" fill="#cc0a2f"/>
<rect x="75.80" y="74.90" width="14.40" height="45.10" fill="#2fac3e"/>
<rect x="93.00" y="86.17" width="14.50" height="33.83" fill="#cc0a2f"/>
<line x1="49.30" y1="80.31" x2="49.30" y2="68.59" stroke="#111" stroke-width="0.9"/>
<line x1="46.70" y1="68.59" x2="51.90" y2="68.59" stroke="#111" stroke-width="0.9"/>
<line x1="46.70" y1="80.31" x2="51.90" y2="80.31" stroke="#111" stroke-width="0.9"/>
<line x1="65.85" y1="92.94" x2="65.85" y2="88.43" stroke="#111" stroke-width="0.9"/>
<line x1="63.25" y1="88.43" x2="68.45" y2="88.43" stroke="#111" stroke-width="0.9"/>
<line x1="63.25" y1="92.94" x2="68.45" y2="92.94" stroke="#111" stroke-width="0.9"/>
<line x1="83.00" y1="77.61" x2="83.00" y2="72.19" stroke="#111" stroke-width="0.9"/>
<line x1="80.40" y1="72.19" x2="85.60" y2="72.19" stroke="#111" stroke-width="0.9"/>
<line x1="80.40" y1="77.61" x2="85.60" y2="77.61" stroke="#111" stroke-width="0.9"/>
<line x1="100.25" y1="88.43" x2="100.25" y2="83.02" stroke="#111" stroke-width="0.9"/>
<line x1="97.65" y1="83.02" x2="102.85" y2="83.02" stroke="#111" stroke-width="0.9"/>
<line x1="97.65" y1="88.43" x2="102.85" y2="88.43" stroke="#111" stroke-width="0.9"/>
<circle cx="49.30" cy="52.35" r="2.20" fill="#111"/>
<circle cx="49.30" cy="62.72" r="2.20" fill="#111"/>
<circle cx="49.30" cy="75.35" r="2.20" fill="#111"/>
<circle cx="44.30" cy="83.02" r="2.20" fill="#111"/>
<circle cx="44.30" cy="88.43" r="2.20" fill="#111"/>
<circle cx="54.30" cy="86.63" r="2.20" fill="#111"/>
<circle cx="60.85" cy="84.37" r="2.20" fill="#111"/>
<circle cx="60.85" cy="88.88" r="2.20" fill="#111"/>
<circle cx="65.85" cy="90.23" r="2.20" fill="#111"/>
<circle cx="70.85" cy="86.17" r="2.20" fill="#111"/>
<circle cx="70.85" cy="93.39" r="2.20" fill="#111"/>
<circle cx="60.85" cy="97.90" r="2.20" fill="#111"/>
<circle cx="83.00" cy="62.72" r="2.20" fill="#111"/>
<circle cx="78.50" cy="72.19" r="2.20" fill="#111"/>
<circle cx="83.00" cy="76.70" r="2.20" fill="#111"/>
<circle cx="88.00" cy="74.00" r="2.20" fill="#111"/>
<circle cx="88.00" cy="79.86" r="2.20" fill="#111"/>
<circle cx="78.50" cy="82.12" r="2.20" fill="#111"/>
<circle cx="95.25" cy="78.06" r="2.20" fill="#111"/>
<circle cx="100.25" cy="83.47" r="2.20" fill="#111"/>
<circle cx="104.75" cy="82.12" r="2.20" fill="#111"/>
<circle cx="95.25" cy="91.59" r="2.20" fill="#111"/>
<circle cx="100.25" cy="88.43" r="2.20" fill="#111"/>
<circle cx="104.75" cy="88.43" r="2.20" fill="#111"/>
<line x1="37.40" y1="40.50" x2="37.40" y2="120.50" stroke="#111" stroke-width="1.1"/>
<line x1="36.90" y1="120.00" x2="109.40" y2="120.00" stroke="#111" stroke-width="1.1"/>
<line x1="34.60" y1="120.00" x2="37.40" y2="120.00" stroke="#111" stroke-width="0.9"/>
<text x="31.40" y="122.23" font-size="6.20" text-anchor="end" fill="#333" stroke="#333" stroke-width="0.05">0</text>
<line x1="34.60" y1="108.72" x2="37.40" y2="108.72" stroke="#111" stroke-width="0.9"/>
<text x="31.40" y="110.96" font-size="6.20" text-anchor="end" fill="#333" stroke="#333" stroke-width="0.05">25</text>
<line x1="34.60" y1="97.45" x2="37.40" y2="97.45" stroke="#111" stroke-width="0.9"/>
<text x="31.40" y="99.68" font-size="6.20" text-anchor="end" fill="#333" stroke="#333" stroke-width="0.05">50</text>
<line x1="34.60" y1="86.17" x2="37.40" y2="86.17" stroke="#111" stroke-width="0.9"/>
<text x="31.40" y="88.41" font-size="6.20" text-anchor="end" fill="#333" stroke="#333" stroke-width="0.05">75</text>
<line x1="34.60" y1="74.90" x2="37.40" y2="74.90" stroke="#111" stroke-width="0.9"/>
<text x="31.40" y="77.13" font-size="6.20" text-anchor="end" fill="#333" stroke="#333" stroke-width="0.05">100</text>
<line x1="34.60" y1="63.62" x2="37.40" y2="63.62" stroke="#111" stroke-width="0.9"/>
<text x="31.40" y="65.86" font-size="6.20" text-anchor="end" fill="#333" stroke="#333" stroke-width="0.05">125</text>
<line x1="34.60" y1="52.35" x2="37.40" y2="52.35" stroke="#111" stroke-width="0.9"/>
<text x="31.40" y="54.58" font-size="6.20" text-anchor="end" fill="#333" stroke="#333" stroke-width="0.05">150</text>
<line x1="34.60" y1="41.08" x2="37.40" y2="41.08" stroke="#111" stroke-width="0.9"/>
<text x="31.40" y="43.31" font-size="6.20" text-anchor="end" fill="#333" stroke="#333" stroke-width="0.05">175</text>
<line x1="49.30" y1="120.00" x2="49.30" y2="122.40" stroke="#111" stroke-width="0.9"/>
<line x1="65.85" y1="120.00" x2="65.85" y2="122.40" stroke="#111" stroke-width="0.9"/>
<line x1="83.00" y1="120.00" x2="83.00" y2="122.40" stroke="#111" stroke-width="0.9"/>
<line x1="100.25" y1="120.00" x2="100.25" y2="122.40" stroke="#111" stroke-width="0.9"/>
<line x1="49.20" y1="47.00" x2="67.60" y2="47.00" stroke="#222" stroke-width="1.0"/>
<text x="58.40" y="47.00" font-size="7.00" text-anchor="middle" fill="#111" stroke="#111" stroke-width="0.35">*</text>
<line x1="84.30" y1="57.60" x2="102.30" y2="57.60" stroke="#222" stroke-width="1.0"/>
<text x="93.30" y="57.60" font-size="7.00" text-anchor="middle" fill="#111" stroke="#111" stroke-width="0.35">*</text>
<text x="49.30" y="131.90" font-size="6.40" text-anchor="middle" fill="#333" stroke="#333" stroke-width="0.05">–</text>
<text x="65.90" y="131.90" font-size="6.40" text-anchor="middle" fill="#333" stroke="#333" stroke-width="0.05">Heme</text>
<text x="83.00" y="131.90" font-size="6.40" text-anchor="middle" fill="#333" stroke="#333" stroke-width="0.05">–</text>
<text x="100.30" y="131.90" font-size="6.40" text-anchor="middle" fill="#333" stroke="#333" stroke-width="0.05">Heme</text>
<line x1="42.10" y1="134.00" x2="73.50" y2="134.00" stroke="#222" stroke-width="1.0"/>
<text x="57.80" y="142.10" font-size="6.40" text-anchor="middle" fill="#333" stroke="#333" stroke-width="0.05">Resident</text>
<line x1="77.30" y1="134.00" x2="107.50" y2="134.00" stroke="#222" stroke-width="1.0"/>
<text x="92.40" y="142.10" font-size="6.40" text-anchor="middle" fill="#333" stroke="#333" stroke-width="0.05">Recruited</text>
<text x="73.80" y="33.90" font-size="8.60" text-anchor="middle" fill="#222" textLength="31.00" lengthAdjust="spacingAndGlyphs" stroke="#222" stroke-width="0.05">Mt Mass</text>
<text x="15.81" y="77.80" font-size="7.80" text-anchor="middle" fill="#222" stroke="#222" stroke-width="0.1" textLength="44.00" lengthAdjust="spacingAndGlyphs" transform="rotate(-90 15.81 77.80)">MTG % change</text>
<text x="73.50" y="151.10" font-size="6.40" text-anchor="middle" fill="#333" stroke="#333" stroke-width="0.05">Phagocytes</text>
<rect x="331.30" y="94.00" width="14.10" height="25.90" fill="#2fac3e"/>
<rect x="347.10" y="81.57" width="13.80" height="38.33" fill="#cc0a2f"/>
<rect x="364.00" y="94.00" width="13.80" height="25.90" fill="#2fac3e"/>
<rect x="379.90" y="68.10" width="13.80" height="51.80" fill="#cc0a2f"/>
<line x1="338.35" y1="100.99" x2="338.35" y2="87.01" stroke="#111" stroke-width="0.9"/>
<line x1="335.75" y1="87.01" x2="340.95" y2="87.01" stroke="#111" stroke-width="0.9"/>
<line x1="335.75" y1="100.99" x2="340.95" y2="100.99" stroke="#111" stroke-width="0.9"/>
<line x1="354.00" y1="85.71" x2="354.00" y2="77.17" stroke="#111" stroke-width="0.9"/>
<line x1="351.40" y1="77.17" x2="356.60" y2="77.17" stroke="#111" stroke-width="0.9"/>
<line x1="351.40" y1="85.71" x2="356.60" y2="85.71" stroke="#111" stroke-width="0.9"/>
<line x1="370.90" y1="99.70" x2="370.90" y2="88.30" stroke="#111" stroke-width="0.9"/>
<line x1="368.30" y1="88.30" x2="373.50" y2="88.30" stroke="#111" stroke-width="0.9"/>
<line x1="368.30" y1="99.70" x2="373.50" y2="99.70" stroke="#111" stroke-width="0.9"/>
<line x1="386.80" y1="74.58" x2="386.80" y2="61.37" stroke="#111" stroke-width="0.9"/>
<line x1="384.20" y1="61.37" x2="389.40" y2="61.37" stroke="#111" stroke-width="0.9"/>
<line x1="384.20" y1="74.58" x2="389.40" y2="74.58" stroke="#111" stroke-width="0.9"/>
<circle cx="338.35" cy="73.80" r="2.30" fill="#111"/>
<circle cx="338.85" cy="94.78" r="2.30" fill="#111"/>
<circle cx="333.35" cy="104.36" r="2.30" fill="#111"/>
<circle cx="342.35" cy="102.81" r="2.30" fill="#111"/>
<circle cx="354.00" cy="72.50" r="2.30" fill="#111"/>
<circle cx="354.00" cy="81.05" r="2.30" fill="#111"/>
<circle cx="350.00" cy="87.01" r="2.30" fill="#111"/>
<circle cx="358.50" cy="87.01" r="2.30" fill="#111"/>
<circle cx="370.90" cy="79.75" r="2.30" fill="#111"/>
<circle cx="371.40" cy="93.22" r="2.30" fill="#111"/>
<circle cx="366.40" cy="102.29" r="2.30" fill="#111"/>
<circle cx="375.40" cy="100.99" r="2.30" fill="#111"/>
<circle cx="381.80" cy="57.74" r="2.30" fill="#111"/>
<circle cx="391.30" cy="56.45" r="2.30" fill="#111"/>
<circle cx="386.80" cy="75.35" r="2.30" fill="#111"/>
<circle cx="386.80" cy="81.57" r="2.30" fill="#111"/>
<line x1="324.30" y1="40.10" x2="324.30" y2="120.40" stroke="#111" stroke-width="1.1"/>
<line x1="323.80" y1="119.90" x2="395.40" y2="119.90" stroke="#111" stroke-width="1.1"/>
<line x1="321.50" y1="119.90" x2="324.30" y2="119.90" stroke="#111" stroke-width="0.9"/>
<text x="318.30" y="122.13" font-size="6.20" text-anchor="end" fill="#333" stroke="#333" stroke-width="0.05">0</text>
<line x1="321.50" y1="94.00" x2="324.30" y2="94.00" stroke="#111" stroke-width="0.9"/>
<text x="318.30" y="96.23" font-size="6.20" text-anchor="end" fill="#333" stroke="#333" stroke-width="0.05">100</text>
<line x1="321.50" y1="68.10" x2="324.30" y2="68.10" stroke="#111" stroke-width="0.9"/>
<text x="318.30" y="70.33" font-size="6.20" text-anchor="end" fill="#333" stroke="#333" stroke-width="0.05">200</text>
<line x1="321.50" y1="42.20" x2="324.30" y2="42.20" stroke="#111" stroke-width="0.9"/>
<text x="318.30" y="44.43" font-size="6.20" text-anchor="end" fill="#333" stroke="#333" stroke-width="0.05">300</text>
<line x1="338.35" y1="119.90" x2="338.35" y2="122.30" stroke="#111" stroke-width="0.9"/>
<line x1="354.00" y1="119.90" x2="354.00" y2="122.30" stroke="#111" stroke-width="0.9"/>
<line x1="370.90" y1="119.90" x2="370.90" y2="122.30" stroke="#111" stroke-width="0.9"/>
<line x1="386.80" y1="119.90" x2="386.80" y2="122.30" stroke="#111" stroke-width="0.9"/>
<line x1="369.30" y1="51.30" x2="389.00" y2="51.30" stroke="#222" stroke-width="1.0"/>
<text x="379.15" y="51.30" font-size="7.00" text-anchor="middle" fill="#111" stroke="#111" stroke-width="0.35">*</text>
<text x="338.40" y="132.30" font-size="6.40" text-anchor="middle" fill="#333" stroke="#333" stroke-width="0.05">–</text>
<text x="354.00" y="132.30" font-size="6.40" text-anchor="middle" fill="#333" stroke="#333" stroke-width="0.05">Heme</text>
<text x="370.90" y="132.30" font-size="6.40" text-anchor="middle" fill="#333" stroke="#333" stroke-width="0.05">–</text>
<text x="386.80" y="132.30" font-size="6.40" text-anchor="middle" fill="#333" stroke="#333" stroke-width="0.05">Heme</text>
<line x1="331.30" y1="134.90" x2="360.90" y2="134.90" stroke="#222" stroke-width="1.0"/>
<text x="346.10" y="142.30" font-size="6.40" text-anchor="middle" fill="#333" stroke="#333" stroke-width="0.05">Resident</text>
<line x1="364.00" y1="134.90" x2="394.10" y2="134.90" stroke="#222" stroke-width="1.0"/>
<text x="379.05" y="142.30" font-size="6.40" text-anchor="middle" fill="#333" stroke="#333" stroke-width="0.05">Recruited</text>
<text x="360.90" y="33.70" font-size="8.60" text-anchor="middle" fill="#222" textLength="25.00" lengthAdjust="spacingAndGlyphs" stroke="#222" stroke-width="0.05">Mt MP</text>
<text x="303.11" y="78.90" font-size="7.80" text-anchor="middle" fill="#222" stroke="#222" stroke-width="0.1" textLength="70.00" lengthAdjust="spacingAndGlyphs" transform="rotate(-90 303.11 78.90)">TMRM/MTG (% change)</text>
<text x="363.00" y="151.30" font-size="6.40" text-anchor="middle" fill="#333" stroke="#333" stroke-width="0.05">Phagocytes</text>
<rect x="444.00" y="87.70" width="14.20" height="32.20" fill="#2fac3e"/>
<rect x="460.90" y="69.35" width="14.20" height="50.55" fill="#cc0a2f"/>
<rect x="478.70" y="87.70" width="14.40" height="32.20" fill="#2fac3e"/>
<rect x="495.60" y="61.94" width="14.40" height="57.96" fill="#cc0a2f"/>
<line x1="451.10" y1="90.92" x2="451.10" y2="84.16" stroke="#111" stroke-width="0.9"/>
<line x1="448.50" y1="84.16" x2="453.70" y2="84.16" stroke="#111" stroke-width="0.9"/>
<line x1="448.50" y1="90.92" x2="453.70" y2="90.92" stroke="#111" stroke-width="0.9"/>
<line x1="468.00" y1="72.57" x2="468.00" y2="66.13" stroke="#111" stroke-width="0.9"/>
<line x1="465.40" y1="66.13" x2="470.60" y2="66.13" stroke="#111" stroke-width="0.9"/>
<line x1="465.40" y1="72.57" x2="470.60" y2="72.57" stroke="#111" stroke-width="0.9"/>
<line x1="485.90" y1="92.85" x2="485.90" y2="82.55" stroke="#111" stroke-width="0.9"/>
<line x1="483.30" y1="82.55" x2="488.50" y2="82.55" stroke="#111" stroke-width="0.9"/>
<line x1="483.30" y1="92.85" x2="488.50" y2="92.85" stroke="#111" stroke-width="0.9"/>
<line x1="502.80" y1="69.99" x2="502.80" y2="57.11" stroke="#111" stroke-width="0.9"/>
<line x1="500.20" y1="57.11" x2="505.40" y2="57.11" stroke="#111" stroke-width="0.9"/>
<line x1="500.20" y1="69.99" x2="505.40" y2="69.99" stroke="#111" stroke-width="0.9"/>
<circle cx="446.10" cy="85.12" r="2.30" fill="#111"/>
<circle cx="456.10" cy="81.26" r="2.30" fill="#111"/>
<circle cx="456.10" cy="87.70" r="2.30" fill="#111"/>
<circle cx="451.10" cy="96.39" r="2.30" fill="#111"/>
<circle cx="449.10" cy="84.48" r="2.30" fill="#111"/>
<circle cx="468.00" cy="59.69" r="2.30" fill="#111"/>
<circle cx="463.00" cy="71.60" r="2.30" fill="#111"/>
<circle cx="468.00" cy="68.38" r="2.30" fill="#111"/>
<circle cx="473.00" cy="73.85" r="2.30" fill="#111"/>
<circle cx="485.90" cy="72.89" r="2.30" fill="#111"/>
<circle cx="485.90" cy="88.34" r="2.30" fill="#111"/>
<circle cx="481.40" cy="94.14" r="2.30" fill="#111"/>
<circle cx="490.40" cy="93.50" r="2.30" fill="#111"/>
<circle cx="497.80" cy="53.57" r="2.30" fill="#111"/>
<circle cx="507.80" cy="54.53" r="2.30" fill="#111"/>
<circle cx="502.80" cy="57.11" r="2.30" fill="#111"/>
<circle cx="502.80" cy="83.19" r="2.30" fill="#111"/>
<line x1="436.40" y1="37.30" x2="436.40" y2="120.40" stroke="#111" stroke-width="1.1"/>
<line x1="435.90" y1="119.90" x2="512.00" y2="119.90" stroke="#111" stroke-width="1.1"/>
<line x1="433.60" y1="119.90" x2="436.40" y2="119.90" stroke="#111" stroke-width="0.9"/>
<text x="430.40" y="122.13" font-size="6.20" text-anchor="end" fill="#333" stroke="#333" stroke-width="0.05">0.0</text>
<line x1="433.60" y1="103.80" x2="436.40" y2="103.80" stroke="#111" stroke-width="0.9"/>
<text x="430.40" y="106.03" font-size="6.20" text-anchor="end" fill="#333" stroke="#333" stroke-width="0.05">0.5</text>
<line x1="433.60" y1="87.70" x2="436.40" y2="87.70" stroke="#111" stroke-width="0.9"/>
<text x="430.40" y="89.93" font-size="6.20" text-anchor="end" fill="#333" stroke="#333" stroke-width="0.05">1.0</text>
<line x1="433.60" y1="71.60" x2="436.40" y2="71.60" stroke="#111" stroke-width="0.9"/>
<text x="430.40" y="73.83" font-size="6.20" text-anchor="end" fill="#333" stroke="#333" stroke-width="0.05">1.5</text>
<line x1="433.60" y1="55.50" x2="436.40" y2="55.50" stroke="#111" stroke-width="0.9"/>
<text x="430.40" y="57.73" font-size="6.20" text-anchor="end" fill="#333" stroke="#333" stroke-width="0.05">2.0</text>
<line x1="433.60" y1="39.40" x2="436.40" y2="39.40" stroke="#111" stroke-width="0.9"/>
<text x="430.40" y="41.63" font-size="6.20" text-anchor="end" fill="#333" stroke="#333" stroke-width="0.05">2.5</text>
<line x1="451.10" y1="119.90" x2="451.10" y2="122.30" stroke="#111" stroke-width="0.9"/>
<line x1="468.00" y1="119.90" x2="468.00" y2="122.30" stroke="#111" stroke-width="0.9"/>
<line x1="485.90" y1="119.90" x2="485.90" y2="122.30" stroke="#111" stroke-width="0.9"/>
<line x1="502.80" y1="119.90" x2="502.80" y2="122.30" stroke="#111" stroke-width="0.9"/>
<line x1="448.70" y1="53.80" x2="468.80" y2="53.80" stroke="#222" stroke-width="1.0"/>
<text x="458.75" y="53.80" font-size="7.00" text-anchor="middle" fill="#111" stroke="#111" stroke-width="0.35">**</text>
<line x1="485.70" y1="46.40" x2="505.10" y2="46.40" stroke="#222" stroke-width="1.0"/>
<text x="495.40" y="46.40" font-size="7.00" text-anchor="middle" fill="#111" stroke="#111" stroke-width="0.35">*</text>
<text x="450.50" y="131.80" font-size="6.40" text-anchor="middle" fill="#333" stroke="#333" stroke-width="0.05">–</text>
<text x="467.90" y="131.80" font-size="6.40" text-anchor="middle" fill="#333" stroke="#333" stroke-width="0.05">Heme</text>
<text x="485.90" y="131.80" font-size="6.40" text-anchor="middle" fill="#333" stroke="#333" stroke-width="0.05">–</text>
<text x="503.00" y="131.80" font-size="6.40" text-anchor="middle" fill="#333" stroke="#333" stroke-width="0.05">Heme</text>
<line x1="444.40" y1="134.80" x2="472.80" y2="134.80" stroke="#222" stroke-width="1.0"/>
<text x="458.60" y="142.10" font-size="6.40" text-anchor="middle" fill="#333" stroke="#333" stroke-width="0.05">Resident</text>
<line x1="478.20" y1="134.80" x2="506.70" y2="134.80" stroke="#222" stroke-width="1.0"/>
<text x="492.45" y="142.10" font-size="6.40" text-anchor="middle" fill="#333" stroke="#333" stroke-width="0.05">Recruited</text>
<text x="475.10" y="32.60" font-size="8.60" text-anchor="middle" fill="#222" textLength="28.00" lengthAdjust="spacingAndGlyphs" stroke="#222" stroke-width="0.05">Mt ROS</text>
<text x="414.31" y="77.60" font-size="7.80" text-anchor="middle" fill="#222" stroke="#222" stroke-width="0.1" textLength="80.00" lengthAdjust="spacingAndGlyphs" transform="rotate(-90 414.31 77.60)">Mitosox/MTG (fold change)</text>
<text x="474.80" y="150.70" font-size="6.40" text-anchor="middle" fill="#333" stroke="#333" stroke-width="0.05">Phagocytes</text>
<rect x="11.60" y="186.90" width="58.10" height="57.30" fill="#040606"/>
<rect x="11.60" y="246.00" width="58.10" height="57.30" fill="#040606"/>
<rect x="71.60" y="186.90" width="58.10" height="57.30" fill="#040606"/>
<rect x="71.60" y="246.00" width="58.10" height="57.30" fill="#040606"/>
<rect x="131.70" y="186.90" width="58.10" height="57.30" fill="#040606"/>
<rect x="131.70" y="246.00" width="58.10" height="57.30" fill="#040606"/>
<rect x="191.70" y="186.90" width="58.10" height="57.30" fill="#040606"/>
<rect x="191.70" y="246.00" width="58.10" height="57.30" fill="#040606"/>
<rect x="252.20" y="186.90" width="58.10" height="57.30" fill="#040606"/>
<rect x="252.20" y="246.00" width="58.10" height="57.30" fill="#040606"/>
<g clip-path="url(#mclip)">
<ellipse cx="23.60" cy="208.90" rx="3.00" ry="2.40" fill="#1c2860" opacity="0.35" transform="rotate(0 23.60 208.90)" filter="url(#b1)"/>
<ellipse cx="47.60" cy="229.90" rx="3.00" ry="2.40" fill="#1c2860" opacity="0.35" transform="rotate(0 47.60 229.90)" filter="url(#b1)"/>
<ellipse cx="21.60" cy="234.90" rx="3.00" ry="2.40" fill="#1c2860" opacity="0.35" transform="rotate(0 21.60 234.90)" filter="url(#b1)"/>
<ellipse cx="53.60" cy="210.90" rx="2.50" ry="2.00" fill="#1c2860" opacity="0.35" transform="rotate(0 53.60 210.90)" filter="url(#b1)"/>
<ellipse cx="41.60" cy="196.90" rx="2.00" ry="1.60" fill="#1c2860" opacity="0.35" transform="rotate(0 41.60 196.90)" filter="url(#b1)"/>
<ellipse cx="51.60" cy="264.00" rx="4.00" ry="3.20" fill="#1e2a6a" opacity="0.4" transform="rotate(0 51.60 264.00)" filter="url(#b1)"/>
<ellipse cx="53.60" cy="288.00" rx="3.20" ry="2.56" fill="#1e2a6a" opacity="0.4" transform="rotate(0 53.60 288.00)" filter="url(#b1)"/>
<ellipse cx="31.60" cy="276.00" rx="2.00" ry="1.60" fill="#1e2a6a" opacity="0.4" transform="rotate(0 31.60 276.00)" filter="url(#b1)"/>
<ellipse cx="77.70" cy="208.10" rx="2.73" ry="4.73" fill="#2e9a4c" opacity="0.612" transform="rotate(15 77.70 208.10)" filter="url(#b15)"/>
<ellipse cx="77.66" cy="206.30" rx="0.99" ry="1.19" fill="#48c458" opacity="0.2975" transform="rotate(15 77.66 206.30)" filter="url(#b08)"/>
<ellipse cx="77.97" cy="207.48" rx="0.68" ry="1.58" fill="#0a1a0c" opacity="0.255" transform="rotate(15 77.97 207.48)" filter="url(#b08)"/>
<ellipse cx="76.51" cy="207.44" rx="0.69" ry="1.21" fill="#48c458" opacity="0.2975" transform="rotate(15 76.51 207.44)" filter="url(#b08)"/>
<ellipse cx="77.07" cy="209.61" rx="0.71" ry="1.33" fill="#0a1a0c" opacity="0.255" transform="rotate(15 77.07 209.61)" filter="url(#b08)"/>
<ellipse cx="77.48" cy="210.33" rx="0.95" ry="1.48" fill="#48c458" opacity="0.2975" transform="rotate(15 77.48 210.33)" filter="url(#b08)"/>
<g filter="url(#b04)"><circle cx="79.9" cy="206.8" r="0.34" fill="#48c458" opacity="0.20"/><circle cx="76.1" cy="210.5" r="0.35" fill="#48c458" opacity="0.32"/><circle cx="78.6" cy="207.2" r="0.46" fill="#48c458" opacity="0.19"/><circle cx="78.7" cy="207.7" r="0.39" fill="#48c458" opacity="0.32"/><circle cx="77.9" cy="206.4" r="0.54" fill="#48c458" opacity="0.35"/><circle cx="76.3" cy="208.4" r="0.46" fill="#48c458" opacity="0.39"/></g>
<ellipse cx="75.10" cy="219.20" rx="3.15" ry="2.52" fill="#2e9a4c" opacity="0.576" transform="rotate(0 75.10 219.20)" filter="url(#b15)"/>
<ellipse cx="75.86" cy="218.64" rx="1.34" ry="0.66" fill="#48c458" opacity="0.27999999999999997" transform="rotate(0 75.86 218.64)" filter="url(#b08)"/>
<ellipse cx="74.83" cy="219.88" rx="0.84" ry="0.83" fill="#0a1a0c" opacity="0.24" transform="rotate(0 74.83 219.88)" filter="url(#b08)"/>
<ellipse cx="73.58" cy="219.64" rx="1.21" ry="0.88" fill="#48c458" opacity="0.27999999999999997" transform="rotate(0 73.58 219.64)" filter="url(#b08)"/>
<ellipse cx="76.34" cy="218.71" rx="1.17" ry="0.89" fill="#0a1a0c" opacity="0.24" transform="rotate(0 76.34 218.71)" filter="url(#b08)"/>
<ellipse cx="75.36" cy="219.08" rx="1.25" ry="1.05" fill="#48c458" opacity="0.27999999999999997" transform="rotate(0 75.36 219.08)" filter="url(#b08)"/>
<g filter="url(#b04)"><circle cx="75.0" cy="219.9" r="0.32" fill="#48c458" opacity="0.33"/><circle cx="76.9" cy="218.2" r="0.42" fill="#48c458" opacity="0.32"/><circle cx="72.4" cy="219.0" r="0.35" fill="#48c458" opacity="0.19"/><circle cx="73.0" cy="218.0" r="0.42" fill="#48c458" opacity="0.37"/></g>
<ellipse cx="88.80" cy="201.20" rx="2.31" ry="4.73" fill="#3fae98" opacity="0.576" transform="rotate(-35 88.80 201.20)" filter="url(#b15)"/>
<ellipse cx="87.82" cy="201.58" rx="0.79" ry="1.92" fill="#6fd8c0" opacity="0.27999999999999997" transform="rotate(-35 87.82 201.58)" filter="url(#b08)"/>
<ellipse cx="90.47" cy="202.23" rx="0.67" ry="1.50" fill="#0a1a0c" opacity="0.24" transform="rotate(-35 90.47 202.23)" filter="url(#b08)"/>
<ellipse cx="89.61" cy="202.95" rx="0.97" ry="1.26" fill="#6fd8c0" opacity="0.27999999999999997" transform="rotate(-35 89.61 202.95)" filter="url(#b08)"/>
<ellipse cx="87.40" cy="200.56" rx="0.65" ry="1.56" fill="#0a1a0c" opacity="0.24" transform="rotate(-35 87.40 200.56)" filter="url(#b08)"/>
<ellipse cx="88.30" cy="200.11" rx="0.55" ry="1.50" fill="#6fd8c0" opacity="0.27999999999999997" transform="rotate(-35 88.30 200.11)" filter="url(#b08)"/>
<g filter="url(#b04)"><circle cx="88.7" cy="202.0" r="0.59" fill="#6fd8c0" opacity="0.33"/><circle cx="89.4" cy="202.0" r="0.50" fill="#6fd8c0" opacity="0.17"/><circle cx="91.5" cy="202.2" r="0.56" fill="#6fd8c0" opacity="0.35"/><circle cx="87.9" cy="200.8" r="0.33" fill="#6fd8c0" opacity="0.31"/><circle cx="86.1" cy="199.5" r="0.40" fill="#6fd8c0" opacity="0.17"/></g>
<ellipse cx="101.60" cy="214.90" rx="4.73" ry="2.31" fill="#2e9a4c" opacity="0.612" transform="rotate(-35 101.60 214.90)" filter="url(#b15)"/>
<ellipse cx="99.09" cy="215.63" rx="1.22" ry="0.71" fill="#48c458" opacity="0.2975" transform="rotate(-35 99.09 215.63)" filter="url(#b08)"/>
<ellipse cx="100.20" cy="216.99" rx="1.68" ry="0.62" fill="#0a1a0c" opacity="0.255" transform="rotate(-35 100.20 216.99)" filter="url(#b08)"/>
<ellipse cx="100.38" cy="215.30" rx="1.45" ry="0.60" fill="#48c458" opacity="0.2975" transform="rotate(-35 100.38 215.30)" filter="url(#b08)"/>
<ellipse cx="103.70" cy="214.89" rx="1.54" ry="0.76" fill="#0a1a0c" opacity="0.255" transform="rotate(-35 103.70 214.89)" filter="url(#b08)"/>
<ellipse cx="99.37" cy="215.29" rx="1.43" ry="0.67" fill="#48c458" opacity="0.2975" transform="rotate(-35 99.37 215.29)" filter="url(#b08)"/>
<g filter="url(#b04)"><circle cx="103.1" cy="212.1" r="0.31" fill="#48c458" opacity="0.41"/><circle cx="101.0" cy="213.6" r="0.46" fill="#48c458" opacity="0.18"/><circle cx="102.9" cy="216.4" r="0.56" fill="#48c458" opacity="0.35"/><circle cx="99.6" cy="215.6" r="0.35" fill="#48c458" opacity="0.37"/><circle cx="102.5" cy="215.7" r="0.40" fill="#48c458" opacity="0.23"/></g>
<ellipse cx="114.40" cy="201.20" rx="5.25" ry="2.10" fill="#2e9a4c" opacity="0.612" transform="rotate(10 114.40 201.20)" filter="url(#b15)"/>
<ellipse cx="115.90" cy="202.55" rx="2.10" ry="0.82" fill="#48c458" opacity="0.2975" transform="rotate(10 115.90 202.55)" filter="url(#b08)"/>
<ellipse cx="116.03" cy="202.02" rx="1.48" ry="0.71" fill="#0a1a0c" opacity="0.255" transform="rotate(10 116.03 202.02)" filter="url(#b08)"/>
<ellipse cx="113.80" cy="200.04" rx="1.28" ry="0.61" fill="#48c458" opacity="0.2975" transform="rotate(10 113.80 200.04)" filter="url(#b08)"/>
<ellipse cx="113.02" cy="201.39" rx="2.21" ry="0.68" fill="#0a1a0c" opacity="0.255" transform="rotate(10 113.02 201.39)" filter="url(#b08)"/>
<ellipse cx="116.58" cy="202.67" rx="2.21" ry="0.65" fill="#48c458" opacity="0.2975" transform="rotate(10 116.58 202.67)" filter="url(#b08)"/>
<g filter="url(#b04)"><circle cx="112.0" cy="199.7" r="0.36" fill="#48c458" opacity="0.22"/><circle cx="115.3" cy="202.9" r="0.55" fill="#48c458" opacity="0.29"/><circle cx="115.6" cy="202.6" r="0.33" fill="#48c458" opacity="0.34"/><circle cx="118.0" cy="202.9" r="0.53" fill="#48c458" opacity="0.29"/><circle cx="111.2" cy="201.8" r="0.40" fill="#48c458" opacity="0.37"/></g>
<ellipse cx="116.10" cy="208.90" rx="3.15" ry="2.10" fill="#2e9a4c" opacity="0.54" transform="rotate(0 116.10 208.90)" filter="url(#b15)"/>
<ellipse cx="117.66" cy="208.67" rx="0.99" ry="0.88" fill="#48c458" opacity="0.26249999999999996" transform="rotate(0 117.66 208.67)" filter="url(#b08)"/>
<ellipse cx="116.84" cy="208.17" rx="0.83" ry="0.56" fill="#0a1a0c" opacity="0.22499999999999998" transform="rotate(0 116.84 208.17)" filter="url(#b08)"/>
<ellipse cx="117.44" cy="209.57" rx="0.84" ry="0.83" fill="#48c458" opacity="0.26249999999999996" transform="rotate(0 117.44 209.57)" filter="url(#b08)"/>
<ellipse cx="117.69" cy="209.25" rx="0.96" ry="0.72" fill="#0a1a0c" opacity="0.22499999999999998" transform="rotate(0 117.69 209.25)" filter="url(#b08)"/>
<ellipse cx="114.88" cy="207.83" rx="1.33" ry="0.76" fill="#48c458" opacity="0.26249999999999996" transform="rotate(0 114.88 207.83)" filter="url(#b08)"/>
<g filter="url(#b04)"><circle cx="116.3" cy="210.5" r="0.43" fill="#48c458" opacity="0.35"/><circle cx="118.0" cy="207.8" r="0.38" fill="#48c458" opacity="0.22"/><circle cx="114.6" cy="209.2" r="0.38" fill="#48c458" opacity="0.24"/></g>
<ellipse cx="122.10" cy="215.70" rx="4.20" ry="2.10" fill="#3fae98" opacity="0.576" transform="rotate(-50 122.10 215.70)" filter="url(#b15)"/>
<ellipse cx="121.75" cy="217.52" rx="1.28" ry="0.68" fill="#6fd8c0" opacity="0.27999999999999997" transform="rotate(-50 121.75 217.52)" filter="url(#b08)"/>
<ellipse cx="123.02" cy="215.99" rx="1.34" ry="0.87" fill="#0a1a0c" opacity="0.24" transform="rotate(-50 123.02 215.99)" filter="url(#b08)"/>
<ellipse cx="122.16" cy="215.74" rx="1.42" ry="0.51" fill="#6fd8c0" opacity="0.27999999999999997" transform="rotate(-50 122.16 215.74)" filter="url(#b08)"/>
<ellipse cx="121.40" cy="215.45" rx="1.00" ry="0.82" fill="#0a1a0c" opacity="0.24" transform="rotate(-50 121.40 215.45)" filter="url(#b08)"/>
<ellipse cx="121.13" cy="216.77" rx="1.58" ry="0.72" fill="#6fd8c0" opacity="0.27999999999999997" transform="rotate(-50 121.13 216.77)" filter="url(#b08)"/>
<g filter="url(#b04)"><circle cx="121.3" cy="216.8" r="0.47" fill="#6fd8c0" opacity="0.35"/><circle cx="120.4" cy="218.1" r="0.37" fill="#6fd8c0" opacity="0.23"/><circle cx="123.5" cy="214.1" r="0.47" fill="#6fd8c0" opacity="0.34"/><circle cx="123.9" cy="213.2" r="0.48" fill="#6fd8c0" opacity="0.28"/></g>
<ellipse cx="117.80" cy="224.30" rx="4.41" ry="2.52" fill="#3fb75a" opacity="0.648" transform="rotate(-10 117.80 224.30)" filter="url(#b15)"/>
<ellipse cx="117.94" cy="224.79" rx="1.43" ry="0.86" fill="#4fd060" opacity="0.315" transform="rotate(-10 117.94 224.79)" filter="url(#b08)"/>
<ellipse cx="117.90" cy="225.47" rx="1.64" ry="1.02" fill="#0a1a0c" opacity="0.27" transform="rotate(-10 117.90 225.47)" filter="url(#b08)"/>
<ellipse cx="119.70" cy="223.32" rx="1.52" ry="1.05" fill="#4fd060" opacity="0.315" transform="rotate(-10 119.70 223.32)" filter="url(#b08)"/>
<ellipse cx="119.18" cy="223.08" rx="1.15" ry="0.81" fill="#0a1a0c" opacity="0.27" transform="rotate(-10 119.18 223.08)" filter="url(#b08)"/>
<ellipse cx="115.74" cy="223.97" rx="1.11" ry="0.92" fill="#4fd060" opacity="0.315" transform="rotate(-10 115.74 223.97)" filter="url(#b08)"/>
<g filter="url(#b04)"><circle cx="120.3" cy="225.7" r="0.35" fill="#4fd060" opacity="0.37"/><circle cx="118.8" cy="222.5" r="0.56" fill="#4fd060" opacity="0.44"/><circle cx="117.0" cy="224.4" r="0.60" fill="#4fd060" opacity="0.40"/><circle cx="115.1" cy="224.5" r="0.45" fill="#4fd060" opacity="0.27"/><circle cx="115.3" cy="223.9" r="0.52" fill="#4fd060" opacity="0.19"/></g>
<ellipse cx="94.80" cy="226.00" rx="2.31" ry="2.10" fill="#3fae98" opacity="0.54" transform="rotate(0 94.80 226.00)" filter="url(#b15)"/>
<ellipse cx="94.93" cy="225.87" rx="0.56" ry="0.63" fill="#6fd8c0" opacity="0.26249999999999996" transform="rotate(0 94.93 225.87)" filter="url(#b08)"/>
<ellipse cx="95.10" cy="226.03" rx="0.58" ry="0.89" fill="#0a1a0c" opacity="0.22499999999999998" transform="rotate(0 95.10 226.03)" filter="url(#b08)"/>
<ellipse cx="95.50" cy="227.04" rx="0.60" ry="0.61" fill="#6fd8c0" opacity="0.26249999999999996" transform="rotate(0 95.50 227.04)" filter="url(#b08)"/>
<ellipse cx="93.69" cy="226.61" rx="0.67" ry="0.55" fill="#0a1a0c" opacity="0.22499999999999998" transform="rotate(0 93.69 226.61)" filter="url(#b08)"/>
<ellipse cx="94.61" cy="226.91" rx="0.91" ry="0.60" fill="#6fd8c0" opacity="0.26249999999999996" transform="rotate(0 94.61 226.91)" filter="url(#b08)"/>
<g filter="url(#b04)"><circle cx="95.1" cy="226.8" r="0.33" fill="#6fd8c0" opacity="0.16"/><circle cx="95.6" cy="225.7" r="0.32" fill="#6fd8c0" opacity="0.36"/></g>
<ellipse cx="102.50" cy="233.70" rx="2.31" ry="2.31" fill="#3fae98" opacity="0.504" transform="rotate(0 102.50 233.70)" filter="url(#b15)"/>
<ellipse cx="102.83" cy="234.43" rx="0.59" ry="0.93" fill="#6fd8c0" opacity="0.24499999999999997" transform="rotate(0 102.83 234.43)" filter="url(#b08)"/>
<ellipse cx="101.45" cy="234.58" rx="0.75" ry="0.70" fill="#0a1a0c" opacity="0.21" transform="rotate(0 101.45 234.58)" filter="url(#b08)"/>
<ellipse cx="102.63" cy="234.73" rx="0.67" ry="0.61" fill="#6fd8c0" opacity="0.24499999999999997" transform="rotate(0 102.63 234.73)" filter="url(#b08)"/>
<ellipse cx="102.57" cy="233.07" rx="0.60" ry="0.62" fill="#0a1a0c" opacity="0.21" transform="rotate(0 102.57 233.07)" filter="url(#b08)"/>
<ellipse cx="101.41" cy="232.98" rx="0.69" ry="0.68" fill="#6fd8c0" opacity="0.24499999999999997" transform="rotate(0 101.41 232.98)" filter="url(#b08)"/>
<g filter="url(#b04)"><circle cx="103.6" cy="232.8" r="0.45" fill="#6fd8c0" opacity="0.18"/><circle cx="103.5" cy="233.9" r="0.36" fill="#6fd8c0" opacity="0.24"/><circle cx="103.8" cy="233.4" r="0.45" fill="#6fd8c0" opacity="0.32"/></g>
<ellipse cx="125.50" cy="235.40" rx="2.62" ry="3.15" fill="#2e9a4c" opacity="0.504" transform="rotate(0 125.50 235.40)" filter="url(#b15)"/>
<ellipse cx="125.21" cy="235.42" rx="0.97" ry="1.34" fill="#48c458" opacity="0.24499999999999997" transform="rotate(0 125.21 235.42)" filter="url(#b08)"/>
<ellipse cx="125.07" cy="236.50" rx="0.98" ry="1.13" fill="#0a1a0c" opacity="0.21" transform="rotate(0 125.07 236.50)" filter="url(#b08)"/>
<ellipse cx="125.24" cy="234.90" rx="0.65" ry="0.83" fill="#48c458" opacity="0.24499999999999997" transform="rotate(0 125.24 234.90)" filter="url(#b08)"/>
<ellipse cx="124.32" cy="236.19" rx="0.75" ry="0.85" fill="#0a1a0c" opacity="0.21" transform="rotate(0 124.32 236.19)" filter="url(#b08)"/>
<ellipse cx="124.36" cy="236.53" rx="1.06" ry="1.15" fill="#48c458" opacity="0.24499999999999997" transform="rotate(0 124.36 236.53)" filter="url(#b08)"/>
<g filter="url(#b04)"><circle cx="124.5" cy="233.9" r="0.39" fill="#48c458" opacity="0.24"/><circle cx="123.9" cy="235.1" r="0.38" fill="#48c458" opacity="0.34"/><circle cx="127.7" cy="235.7" r="0.37" fill="#48c458" opacity="0.34"/><circle cx="124.6" cy="234.6" r="0.30" fill="#48c458" opacity="0.22"/></g>
<ellipse cx="119.50" cy="191.80" rx="2.10" ry="2.10" fill="#2e9a4c" opacity="0.36" transform="rotate(0 119.50 191.80)" filter="url(#b15)"/>
<ellipse cx="119.44" cy="191.81" rx="0.58" ry="0.70" fill="#4fa060" opacity="0.175" transform="rotate(0 119.44 191.81)" filter="url(#b08)"/>
<ellipse cx="118.41" cy="191.28" rx="0.54" ry="0.66" fill="#0a1a0c" opacity="0.15" transform="rotate(0 118.41 191.28)" filter="url(#b08)"/>
<ellipse cx="118.49" cy="190.75" rx="0.62" ry="0.59" fill="#4fa060" opacity="0.175" transform="rotate(0 118.49 190.75)" filter="url(#b08)"/>
<ellipse cx="119.69" cy="191.86" rx="0.80" ry="0.76" fill="#0a1a0c" opacity="0.15" transform="rotate(0 119.69 191.86)" filter="url(#b08)"/>
<ellipse cx="119.98" cy="192.63" rx="0.66" ry="0.63" fill="#4fa060" opacity="0.175" transform="rotate(0 119.98 192.63)" filter="url(#b08)"/>
<g filter="url(#b04)"><circle cx="120.4" cy="192.3" r="0.31" fill="#4fa060" opacity="0.23"/><circle cx="121.0" cy="192.3" r="0.52" fill="#4fa060" opacity="0.22"/></g>
<ellipse cx="83.60" cy="230.90" rx="2.10" ry="2.10" fill="#2e9a4c" opacity="0.36" transform="rotate(0 83.60 230.90)" filter="url(#b15)"/>
<ellipse cx="82.81" cy="230.95" rx="0.70" ry="0.83" fill="#4fa060" opacity="0.175" transform="rotate(0 82.81 230.95)" filter="url(#b08)"/>
<ellipse cx="84.27" cy="231.62" rx="0.73" ry="0.86" fill="#0a1a0c" opacity="0.15" transform="rotate(0 84.27 231.62)" filter="url(#b08)"/>
<ellipse cx="84.00" cy="231.33" rx="0.59" ry="0.51" fill="#4fa060" opacity="0.175" transform="rotate(0 84.00 231.33)" filter="url(#b08)"/>
<ellipse cx="82.79" cy="230.59" rx="0.54" ry="0.83" fill="#0a1a0c" opacity="0.15" transform="rotate(0 82.79 230.59)" filter="url(#b08)"/>
<ellipse cx="83.73" cy="231.18" rx="0.75" ry="0.77" fill="#4fa060" opacity="0.175" transform="rotate(0 83.73 231.18)" filter="url(#b08)"/>
<g filter="url(#b04)"><circle cx="83.6" cy="229.0" r="0.54" fill="#4fa060" opacity="0.21"/><circle cx="83.6" cy="231.0" r="0.50" fill="#4fa060" opacity="0.11"/></g>
<ellipse cx="107.60" cy="194.90" rx="2.10" ry="1.58" fill="#2e9a4c" opacity="0.36" transform="rotate(0 107.60 194.90)" filter="url(#b15)"/>
<ellipse cx="108.12" cy="194.49" rx="0.53" ry="0.45" fill="#4fa060" opacity="0.175" transform="rotate(0 108.12 194.49)" filter="url(#b08)"/>
<ellipse cx="108.10" cy="194.41" rx="0.80" ry="0.67" fill="#0a1a0c" opacity="0.15" transform="rotate(0 108.10 194.41)" filter="url(#b08)"/>
<ellipse cx="107.59" cy="194.71" rx="0.69" ry="0.58" fill="#4fa060" opacity="0.175" transform="rotate(0 107.59 194.71)" filter="url(#b08)"/>
<ellipse cx="108.19" cy="195.09" rx="0.76" ry="0.40" fill="#0a1a0c" opacity="0.15" transform="rotate(0 108.19 195.09)" filter="url(#b08)"/>
<ellipse cx="106.82" cy="194.49" rx="0.80" ry="0.47" fill="#4fa060" opacity="0.175" transform="rotate(0 106.82 194.49)" filter="url(#b08)"/>
<g filter="url(#b04)"><circle cx="107.9" cy="193.5" r="0.32" fill="#4fa060" opacity="0.14"/><circle cx="108.3" cy="195.4" r="0.50" fill="#4fa060" opacity="0.14"/></g>
<ellipse cx="72.60" cy="225.10" rx="2.00" ry="2.00" fill="#2b46b8" opacity="0.35" transform="rotate(0 72.60 225.10)" filter="url(#b1)"/>
<line x1="77.60" y1="207.90" x2="85.60" y2="216.90" stroke="#2e9a4c" stroke-width="0.7" opacity="0.27" filter="url(#b05)" stroke-linecap="round"/>
<line x1="101.60" y1="214.90" x2="93.60" y2="206.90" stroke="#2e9a4c" stroke-width="0.7" opacity="0.27" filter="url(#b05)" stroke-linecap="round"/>
<line x1="101.60" y1="214.90" x2="109.60" y2="220.90" stroke="#2e9a4c" stroke-width="0.7" opacity="0.27" filter="url(#b05)" stroke-linecap="round"/>
<line x1="114.60" y1="200.90" x2="125.60" y2="196.90" stroke="#2e9a4c" stroke-width="0.7" opacity="0.27" filter="url(#b05)" stroke-linecap="round"/>
<line x1="121.60" y1="215.90" x2="128.60" y2="222.90" stroke="#2e9a4c" stroke-width="0.7" opacity="0.27" filter="url(#b05)" stroke-linecap="round"/>
<line x1="88.60" y1="200.90" x2="83.60" y2="192.90" stroke="#2e9a4c" stroke-width="0.7" opacity="0.27" filter="url(#b05)" stroke-linecap="round"/>
<line x1="117.60" y1="223.90" x2="111.60" y2="230.90" stroke="#2e9a4c" stroke-width="0.7" opacity="0.27" filter="url(#b05)" stroke-linecap="round"/>
<ellipse cx="98.00" cy="260.10" rx="9.45" ry="5.25" fill="#3fb75a" opacity="0.72" transform="rotate(-5 98.00 260.10)" filter="url(#b15)"/>
<ellipse cx="98.15" cy="259.89" rx="3.09" ry="1.37" fill="#48c458" opacity="0.35" transform="rotate(-5 98.15 259.89)" filter="url(#b08)"/>
<ellipse cx="101.74" cy="258.11" rx="4.01" ry="2.19" fill="#0a1a0c" opacity="0.3" transform="rotate(-5 101.74 258.11)" filter="url(#b08)"/>
<ellipse cx="93.22" cy="260.29" rx="3.73" ry="2.22" fill="#48c458" opacity="0.35" transform="rotate(-5 93.22 260.29)" filter="url(#b08)"/>
<ellipse cx="97.39" cy="258.88" rx="2.63" ry="2.20" fill="#0a1a0c" opacity="0.3" transform="rotate(-5 97.39 258.88)" filter="url(#b08)"/>
<ellipse cx="95.19" cy="260.80" rx="2.51" ry="1.77" fill="#48c458" opacity="0.35" transform="rotate(-5 95.19 260.80)" filter="url(#b08)"/>
<g filter="url(#b04)"><circle cx="103.5" cy="259.7" r="0.57" fill="#48c458" opacity="0.41"/><circle cx="93.8" cy="264.3" r="0.45" fill="#48c458" opacity="0.21"/><circle cx="89.5" cy="260.8" r="0.44" fill="#48c458" opacity="0.29"/><circle cx="91.8" cy="259.2" r="0.39" fill="#48c458" opacity="0.45"/><circle cx="105.4" cy="261.5" r="0.57" fill="#48c458" opacity="0.29"/><circle cx="95.7" cy="259.3" r="0.60" fill="#48c458" opacity="0.38"/><circle cx="95.6" cy="259.6" r="0.38" fill="#48c458" opacity="0.21"/><circle cx="94.7" cy="264.5" r="0.37" fill="#48c458" opacity="0.28"/><circle cx="97.9" cy="257.1" r="0.41" fill="#48c458" opacity="0.49"/><circle cx="104.8" cy="262.5" r="0.49" fill="#48c458" opacity="0.47"/><circle cx="105.5" cy="259.9" r="0.52" fill="#48c458" opacity="0.21"/><circle cx="101.9" cy="259.3" r="0.53" fill="#48c458" opacity="0.39"/><circle cx="94.0" cy="256.2" r="0.58" fill="#48c458" opacity="0.24"/><circle cx="97.4" cy="258.7" r="0.39" fill="#48c458" opacity="0.42"/><circle cx="100.5" cy="258.0" r="0.47" fill="#48c458" opacity="0.32"/><circle cx="92.1" cy="257.4" r="0.36" fill="#48c458" opacity="0.47"/><circle cx="97.7" cy="257.5" r="0.57" fill="#48c458" opacity="0.50"/><circle cx="96.8" cy="256.8" r="0.36" fill="#48c458" opacity="0.23"/><circle cx="95.0" cy="256.5" r="0.37" fill="#48c458" opacity="0.28"/><circle cx="99.5" cy="263.7" r="0.52" fill="#48c458" opacity="0.32"/><circle cx="96.6" cy="260.5" r="0.41" fill="#48c458" opacity="0.30"/></g>
<ellipse cx="98.00" cy="257.90" rx="2.40" ry="2.04" fill="#2b46b8" opacity="0.6" transform="rotate(0 98.00 257.90)" filter="url(#b08)"/>
<ellipse cx="91.60" cy="279.00" rx="9.97" ry="6.83" fill="#2e9a4c" opacity="0.612" transform="rotate(10 91.60 279.00)" filter="url(#b15)"/>
<ellipse cx="87.37" cy="276.64" rx="4.21" ry="1.79" fill="#4fd060" opacity="0.2975" transform="rotate(10 87.37 276.64)" filter="url(#b08)"/>
<ellipse cx="91.47" cy="279.92" rx="4.01" ry="1.91" fill="#0a1a0c" opacity="0.255" transform="rotate(10 91.47 279.92)" filter="url(#b08)"/>
<ellipse cx="89.56" cy="276.81" rx="3.13" ry="2.20" fill="#4fd060" opacity="0.2975" transform="rotate(10 89.56 276.81)" filter="url(#b08)"/>
<ellipse cx="95.84" cy="282.28" rx="4.03" ry="1.65" fill="#0a1a0c" opacity="0.255" transform="rotate(10 95.84 282.28)" filter="url(#b08)"/>
<ellipse cx="86.53" cy="279.63" rx="4.08" ry="2.24" fill="#4fd060" opacity="0.2975" transform="rotate(10 86.53 279.63)" filter="url(#b08)"/>
<g filter="url(#b04)"><circle cx="88.8" cy="283.9" r="0.55" fill="#4fd060" opacity="0.39"/><circle cx="91.6" cy="281.3" r="0.58" fill="#4fd060" opacity="0.35"/><circle cx="93.7" cy="282.7" r="0.44" fill="#4fd060" opacity="0.31"/><circle cx="85.9" cy="283.3" r="0.49" fill="#4fd060" opacity="0.25"/><circle cx="85.5" cy="274.8" r="0.49" fill="#4fd060" opacity="0.35"/><circle cx="91.9" cy="280.1" r="0.42" fill="#4fd060" opacity="0.23"/><circle cx="94.4" cy="273.4" r="0.39" fill="#4fd060" opacity="0.29"/><circle cx="99.4" cy="282.2" r="0.57" fill="#4fd060" opacity="0.29"/><circle cx="87.4" cy="275.1" r="0.59" fill="#4fd060" opacity="0.35"/><circle cx="91.2" cy="281.1" r="0.43" fill="#4fd060" opacity="0.24"/><circle cx="93.7" cy="284.7" r="0.37" fill="#4fd060" opacity="0.18"/><circle cx="88.9" cy="277.5" r="0.50" fill="#4fd060" opacity="0.22"/><circle cx="96.4" cy="282.8" r="0.45" fill="#4fd060" opacity="0.22"/><circle cx="97.9" cy="276.7" r="0.37" fill="#4fd060" opacity="0.36"/><circle cx="87.0" cy="283.9" r="0.45" fill="#4fd060" opacity="0.22"/><circle cx="86.9" cy="277.1" r="0.50" fill="#4fd060" opacity="0.41"/><circle cx="85.5" cy="276.6" r="0.36" fill="#4fd060" opacity="0.42"/><circle cx="84.0" cy="276.3" r="0.57" fill="#4fd060" opacity="0.40"/><circle cx="99.6" cy="278.3" r="0.36" fill="#4fd060" opacity="0.41"/><circle cx="94.8" cy="278.0" r="0.41" fill="#4fd060" opacity="0.25"/><circle cx="88.0" cy="276.5" r="0.59" fill="#4fd060" opacity="0.20"/><circle cx="88.4" cy="282.5" r="0.55" fill="#4fd060" opacity="0.28"/><circle cx="83.6" cy="277.3" r="0.41" fill="#4fd060" opacity="0.40"/><circle cx="86.4" cy="276.4" r="0.57" fill="#4fd060" opacity="0.18"/><circle cx="89.3" cy="282.5" r="0.53" fill="#4fd060" opacity="0.18"/><circle cx="99.6" cy="277.4" r="0.52" fill="#4fd060" opacity="0.40"/><circle cx="89.2" cy="275.7" r="0.59" fill="#4fd060" opacity="0.33"/><circle cx="86.9" cy="280.9" r="0.39" fill="#4fd060" opacity="0.24"/></g>
<ellipse cx="104.60" cy="277.00" rx="8.93" ry="5.78" fill="#3fb75a" opacity="0.648" transform="rotate(-10 104.60 277.00)" filter="url(#b15)"/>
<ellipse cx="100.30" cy="279.33" rx="3.68" ry="2.07" fill="#4fd060" opacity="0.315" transform="rotate(-10 100.30 279.33)" filter="url(#b08)"/>
<ellipse cx="108.18" cy="273.45" rx="2.52" ry="1.90" fill="#0a1a0c" opacity="0.27" transform="rotate(-10 108.18 273.45)" filter="url(#b08)"/>
<ellipse cx="109.28" cy="278.96" rx="2.78" ry="1.65" fill="#4fd060" opacity="0.315" transform="rotate(-10 109.28 278.96)" filter="url(#b08)"/>
<ellipse cx="103.95" cy="277.07" rx="3.70" ry="1.58" fill="#0a1a0c" opacity="0.27" transform="rotate(-10 103.95 277.07)" filter="url(#b08)"/>
<ellipse cx="107.64" cy="277.93" rx="3.52" ry="2.23" fill="#4fd060" opacity="0.315" transform="rotate(-10 107.64 277.93)" filter="url(#b08)"/>
<g filter="url(#b04)"><circle cx="106.0" cy="274.9" r="0.40" fill="#4fd060" opacity="0.28"/><circle cx="100.2" cy="280.5" r="0.37" fill="#4fd060" opacity="0.20"/><circle cx="97.3" cy="278.8" r="0.40" fill="#4fd060" opacity="0.44"/><circle cx="100.1" cy="273.4" r="0.33" fill="#4fd060" opacity="0.31"/><circle cx="107.8" cy="275.9" r="0.37" fill="#4fd060" opacity="0.29"/><circle cx="106.8" cy="278.5" r="0.52" fill="#4fd060" opacity="0.41"/><circle cx="106.5" cy="272.6" r="0.55" fill="#4fd060" opacity="0.26"/><circle cx="105.4" cy="275.5" r="0.52" fill="#4fd060" opacity="0.23"/><circle cx="100.1" cy="275.1" r="0.35" fill="#4fd060" opacity="0.42"/><circle cx="105.5" cy="275.0" r="0.42" fill="#4fd060" opacity="0.45"/><circle cx="104.2" cy="274.2" r="0.54" fill="#4fd060" opacity="0.36"/><circle cx="104.8" cy="280.4" r="0.55" fill="#4fd060" opacity="0.43"/><circle cx="98.0" cy="274.9" r="0.59" fill="#4fd060" opacity="0.34"/><circle cx="111.2" cy="274.5" r="0.56" fill="#4fd060" opacity="0.30"/><circle cx="101.3" cy="280.5" r="0.58" fill="#4fd060" opacity="0.21"/><circle cx="106.3" cy="278.0" r="0.37" fill="#4fd060" opacity="0.28"/><circle cx="98.4" cy="275.0" r="0.38" fill="#4fd060" opacity="0.34"/><circle cx="106.5" cy="273.5" r="0.30" fill="#4fd060" opacity="0.27"/><circle cx="106.9" cy="273.3" r="0.39" fill="#4fd060" opacity="0.23"/><circle cx="109.4" cy="276.7" r="0.32" fill="#4fd060" opacity="0.21"/><circle cx="103.0" cy="277.8" r="0.49" fill="#4fd060" opacity="0.20"/><circle cx="99.6" cy="280.0" r="0.42" fill="#4fd060" opacity="0.26"/></g>
<ellipse cx="105.60" cy="274.20" rx="2.40" ry="2.04" fill="#2b46b8" opacity="0.55" transform="rotate(0 105.60 274.20)" filter="url(#b08)"/>
<ellipse cx="98.60" cy="286.00" rx="9.45" ry="4.20" fill="#2e9a4c" opacity="0.576" transform="rotate(0 98.60 286.00)" filter="url(#b15)"/>
<ellipse cx="96.70" cy="287.99" rx="2.81" ry="1.45" fill="#48c458" opacity="0.27999999999999997" transform="rotate(0 96.70 287.99)" filter="url(#b08)"/>
<ellipse cx="97.19" cy="285.63" rx="3.81" ry="1.80" fill="#0a1a0c" opacity="0.24" transform="rotate(0 97.19 285.63)" filter="url(#b08)"/>
<ellipse cx="97.25" cy="284.67" rx="3.56" ry="1.16" fill="#48c458" opacity="0.27999999999999997" transform="rotate(0 97.25 284.67)" filter="url(#b08)"/>
<ellipse cx="93.71" cy="287.77" rx="3.01" ry="1.66" fill="#0a1a0c" opacity="0.24" transform="rotate(0 93.71 287.77)" filter="url(#b08)"/>
<ellipse cx="97.67" cy="287.68" rx="3.08" ry="1.13" fill="#48c458" opacity="0.27999999999999997" transform="rotate(0 97.67 287.68)" filter="url(#b08)"/>
<g filter="url(#b04)"><circle cx="90.3" cy="286.4" r="0.49" fill="#48c458" opacity="0.38"/><circle cx="91.6" cy="286.9" r="0.41" fill="#48c458" opacity="0.28"/><circle cx="92.5" cy="284.4" r="0.46" fill="#48c458" opacity="0.38"/><circle cx="91.9" cy="285.9" r="0.54" fill="#48c458" opacity="0.39"/><circle cx="93.4" cy="283.2" r="0.58" fill="#48c458" opacity="0.39"/><circle cx="98.3" cy="282.6" r="0.58" fill="#48c458" opacity="0.25"/><circle cx="105.5" cy="286.9" r="0.55" fill="#48c458" opacity="0.20"/><circle cx="103.5" cy="283.9" r="0.42" fill="#48c458" opacity="0.36"/><circle cx="104.2" cy="283.6" r="0.37" fill="#48c458" opacity="0.26"/><circle cx="98.9" cy="285.1" r="0.34" fill="#48c458" opacity="0.22"/><circle cx="102.4" cy="289.0" r="0.31" fill="#48c458" opacity="0.29"/><circle cx="100.3" cy="286.4" r="0.49" fill="#48c458" opacity="0.23"/><circle cx="97.2" cy="286.6" r="0.43" fill="#48c458" opacity="0.32"/><circle cx="97.7" cy="285.5" r="0.31" fill="#48c458" opacity="0.31"/><circle cx="98.4" cy="284.0" r="0.53" fill="#48c458" opacity="0.35"/><circle cx="97.9" cy="283.6" r="0.44" fill="#48c458" opacity="0.19"/><circle cx="92.2" cy="285.5" r="0.33" fill="#48c458" opacity="0.27"/></g>
<ellipse cx="81.60" cy="283.00" rx="4.20" ry="3.15" fill="#2a6a38" opacity="0.432" transform="rotate(0 81.60 283.00)" filter="url(#b15)"/>
<ellipse cx="81.64" cy="281.48" rx="1.51" ry="0.80" fill="#3a8a48" opacity="0.21" transform="rotate(0 81.64 281.48)" filter="url(#b08)"/>
<ellipse cx="82.63" cy="283.92" rx="1.41" ry="0.78" fill="#0a1a0c" opacity="0.18" transform="rotate(0 82.63 283.92)" filter="url(#b08)"/>
<ellipse cx="81.62" cy="282.60" rx="1.76" ry="0.83" fill="#3a8a48" opacity="0.21" transform="rotate(0 81.62 282.60)" filter="url(#b08)"/>
<ellipse cx="83.17" cy="284.64" rx="1.59" ry="1.24" fill="#0a1a0c" opacity="0.18" transform="rotate(0 83.17 284.64)" filter="url(#b08)"/>
<ellipse cx="80.25" cy="284.59" rx="1.39" ry="1.32" fill="#3a8a48" opacity="0.21" transform="rotate(0 80.25 284.59)" filter="url(#b08)"/>
<g filter="url(#b04)"><circle cx="78.3" cy="282.2" r="0.53" fill="#3a8a48" opacity="0.15"/><circle cx="84.6" cy="281.7" r="0.54" fill="#3a8a48" opacity="0.15"/><circle cx="81.6" cy="285.4" r="0.36" fill="#3a8a48" opacity="0.17"/><circle cx="81.6" cy="282.0" r="0.31" fill="#3a8a48" opacity="0.15"/><circle cx="83.0" cy="285.3" r="0.35" fill="#3a8a48" opacity="0.26"/><circle cx="78.7" cy="283.2" r="0.49" fill="#3a8a48" opacity="0.18"/></g>
<ellipse cx="118.60" cy="283.00" rx="5.25" ry="2.62" fill="#2a6a38" opacity="0.432" transform="rotate(10 118.60 283.00)" filter="url(#b15)"/>
<ellipse cx="120.59" cy="283.51" rx="1.83" ry="1.07" fill="#3a8a48" opacity="0.21" transform="rotate(10 120.59 283.51)" filter="url(#b08)"/>
<ellipse cx="116.22" cy="283.96" rx="1.88" ry="0.82" fill="#0a1a0c" opacity="0.18" transform="rotate(10 116.22 283.96)" filter="url(#b08)"/>
<ellipse cx="120.32" cy="282.65" rx="2.24" ry="0.91" fill="#3a8a48" opacity="0.21" transform="rotate(10 120.32 282.65)" filter="url(#b08)"/>
<ellipse cx="117.72" cy="283.58" rx="1.69" ry="0.71" fill="#0a1a0c" opacity="0.18" transform="rotate(10 117.72 283.58)" filter="url(#b08)"/>
<ellipse cx="120.14" cy="282.01" rx="2.07" ry="0.75" fill="#3a8a48" opacity="0.21" transform="rotate(10 120.14 282.01)" filter="url(#b08)"/>
<g filter="url(#b04)"><circle cx="119.3" cy="283.9" r="0.39" fill="#3a8a48" opacity="0.12"/><circle cx="119.7" cy="282.9" r="0.45" fill="#3a8a48" opacity="0.28"/><circle cx="115.4" cy="281.1" r="0.50" fill="#3a8a48" opacity="0.12"/><circle cx="115.0" cy="281.7" r="0.37" fill="#3a8a48" opacity="0.23"/><circle cx="119.7" cy="281.8" r="0.49" fill="#3a8a48" opacity="0.21"/><circle cx="116.5" cy="280.9" r="0.33" fill="#3a8a48" opacity="0.23"/></g>
<ellipse cx="75.60" cy="250.00" rx="4.20" ry="3.15" fill="#3a6a40" opacity="0.36" transform="rotate(0 75.60 250.00)" filter="url(#b15)"/>
<ellipse cx="77.23" cy="250.93" rx="1.32" ry="0.91" fill="#5a8a60" opacity="0.175" transform="rotate(0 77.23 250.93)" filter="url(#b08)"/>
<ellipse cx="73.45" cy="250.48" rx="1.45" ry="0.96" fill="#0a1a0c" opacity="0.15" transform="rotate(0 73.45 250.48)" filter="url(#b08)"/>
<ellipse cx="76.24" cy="249.81" rx="1.75" ry="1.19" fill="#5a8a60" opacity="0.175" transform="rotate(0 76.24 249.81)" filter="url(#b08)"/>
<ellipse cx="74.49" cy="251.33" rx="1.04" ry="1.07" fill="#0a1a0c" opacity="0.15" transform="rotate(0 74.49 251.33)" filter="url(#b08)"/>
<ellipse cx="75.19" cy="249.13" rx="1.05" ry="1.22" fill="#5a8a60" opacity="0.175" transform="rotate(0 75.19 249.13)" filter="url(#b08)"/>
<g filter="url(#b04)"><circle cx="71.9" cy="250.3" r="0.58" fill="#5a8a60" opacity="0.12"/><circle cx="73.3" cy="250.6" r="0.45" fill="#5a8a60" opacity="0.20"/><circle cx="78.0" cy="248.1" r="0.39" fill="#5a8a60" opacity="0.15"/><circle cx="77.8" cy="251.2" r="0.30" fill="#5a8a60" opacity="0.23"/><circle cx="77.5" cy="249.8" r="0.52" fill="#5a8a60" opacity="0.17"/><circle cx="73.5" cy="247.8" r="0.37" fill="#5a8a60" opacity="0.11"/></g>
<line x1="106.60" y1="259.00" x2="115.60" y2="264.00" stroke="#2e9a4c" stroke-width="1.0" opacity="0.3" filter="url(#b05)" stroke-linecap="round"/>
<line x1="79.60" y1="286.00" x2="74.60" y2="294.00" stroke="#2e9a4c" stroke-width="0.8" opacity="0.3" filter="url(#b05)" stroke-linecap="round"/>
<ellipse cx="134.80" cy="211.80" rx="3.15" ry="2.73" fill="#3fae98" opacity="0.612" transform="rotate(0 134.80 211.80)" filter="url(#b15)"/>
<ellipse cx="134.26" cy="212.51" rx="1.17" ry="1.09" fill="#6fd8c0" opacity="0.2975" transform="rotate(0 134.26 212.51)" filter="url(#b08)"/>
<ellipse cx="135.50" cy="211.13" rx="1.08" ry="0.88" fill="#0a1a0c" opacity="0.255" transform="rotate(0 135.50 211.13)" filter="url(#b08)"/>
<ellipse cx="135.75" cy="211.87" rx="0.91" ry="0.98" fill="#6fd8c0" opacity="0.2975" transform="rotate(0 135.75 211.87)" filter="url(#b08)"/>
<ellipse cx="136.33" cy="210.99" rx="1.28" ry="0.66" fill="#0a1a0c" opacity="0.255" transform="rotate(0 136.33 210.99)" filter="url(#b08)"/>
<ellipse cx="134.01" cy="211.05" rx="1.20" ry="1.14" fill="#6fd8c0" opacity="0.2975" transform="rotate(0 134.01 211.05)" filter="url(#b08)"/>
<g filter="url(#b04)"><circle cx="136.2" cy="210.9" r="0.56" fill="#6fd8c0" opacity="0.25"/><circle cx="133.3" cy="213.8" r="0.49" fill="#6fd8c0" opacity="0.35"/><circle cx="134.6" cy="213.5" r="0.51" fill="#6fd8c0" opacity="0.39"/><circle cx="134.4" cy="212.9" r="0.47" fill="#6fd8c0" opacity="0.25"/></g>
<ellipse cx="140.70" cy="224.30" rx="3.36" ry="2.73" fill="#3fae98" opacity="0.612" transform="rotate(0 140.70 224.30)" filter="url(#b15)"/>
<ellipse cx="139.69" cy="224.65" rx="0.85" ry="1.12" fill="#6fd8c0" opacity="0.2975" transform="rotate(0 139.69 224.65)" filter="url(#b08)"/>
<ellipse cx="139.45" cy="222.95" rx="0.87" ry="1.13" fill="#0a1a0c" opacity="0.255" transform="rotate(0 139.45 222.95)" filter="url(#b08)"/>
<ellipse cx="140.15" cy="223.28" rx="0.82" ry="0.67" fill="#6fd8c0" opacity="0.2975" transform="rotate(0 140.15 223.28)" filter="url(#b08)"/>
<ellipse cx="141.38" cy="224.68" rx="1.25" ry="1.03" fill="#0a1a0c" opacity="0.255" transform="rotate(0 141.38 224.68)" filter="url(#b08)"/>
<ellipse cx="139.17" cy="224.56" rx="1.03" ry="1.08" fill="#6fd8c0" opacity="0.2975" transform="rotate(0 139.17 224.56)" filter="url(#b08)"/>
<g filter="url(#b04)"><circle cx="138.3" cy="222.8" r="0.33" fill="#6fd8c0" opacity="0.18"/><circle cx="142.8" cy="225.8" r="0.49" fill="#6fd8c0" opacity="0.38"/><circle cx="141.5" cy="223.2" r="0.33" fill="#6fd8c0" opacity="0.19"/><circle cx="142.3" cy="222.8" r="0.40" fill="#6fd8c0" opacity="0.28"/></g>
<ellipse cx="172.90" cy="202.30" rx="3.57" ry="3.15" fill="#2e9a4c" opacity="0.612" transform="rotate(0 172.90 202.30)" filter="url(#b15)"/>
<ellipse cx="171.11" cy="201.50" rx="1.04" ry="1.18" fill="#48c458" opacity="0.2975" transform="rotate(0 171.11 201.50)" filter="url(#b08)"/>
<ellipse cx="172.41" cy="201.71" rx="1.51" ry="1.05" fill="#0a1a0c" opacity="0.255" transform="rotate(0 172.41 201.71)" filter="url(#b08)"/>
<ellipse cx="174.21" cy="202.69" rx="0.87" ry="1.00" fill="#48c458" opacity="0.2975" transform="rotate(0 174.21 202.69)" filter="url(#b08)"/>
<ellipse cx="172.66" cy="203.20" rx="1.09" ry="1.17" fill="#0a1a0c" opacity="0.255" transform="rotate(0 172.66 203.20)" filter="url(#b08)"/>
<ellipse cx="173.04" cy="201.36" rx="1.44" ry="0.80" fill="#48c458" opacity="0.2975" transform="rotate(0 173.04 201.36)" filter="url(#b08)"/>
<g filter="url(#b04)"><circle cx="175.0" cy="200.4" r="0.30" fill="#48c458" opacity="0.22"/><circle cx="169.7" cy="202.2" r="0.45" fill="#48c458" opacity="0.37"/><circle cx="170.9" cy="202.3" r="0.40" fill="#48c458" opacity="0.38"/><circle cx="171.5" cy="200.7" r="0.51" fill="#48c458" opacity="0.30"/><circle cx="170.4" cy="203.1" r="0.32" fill="#48c458" opacity="0.37"/></g>
<ellipse cx="154.20" cy="217.90" rx="8.93" ry="1.89" fill="#3fae98" opacity="0.576" transform="rotate(70 154.20 217.90)" filter="url(#b15)"/>
<ellipse cx="154.30" cy="219.83" rx="3.19" ry="0.58" fill="#6fd8c0" opacity="0.27999999999999997" transform="rotate(70 154.30 219.83)" filter="url(#b08)"/>
<ellipse cx="154.08" cy="216.96" rx="3.64" ry="0.48" fill="#0a1a0c" opacity="0.24" transform="rotate(70 154.08 216.96)" filter="url(#b08)"/>
<ellipse cx="156.33" cy="220.99" rx="2.48" ry="0.54" fill="#6fd8c0" opacity="0.27999999999999997" transform="rotate(70 156.33 220.99)" filter="url(#b08)"/>
<ellipse cx="155.48" cy="221.43" rx="2.77" ry="0.77" fill="#0a1a0c" opacity="0.24" transform="rotate(70 155.48 221.43)" filter="url(#b08)"/>
<ellipse cx="153.42" cy="215.53" rx="3.03" ry="0.72" fill="#6fd8c0" opacity="0.27999999999999997" transform="rotate(70 153.42 215.53)" filter="url(#b08)"/>
<g filter="url(#b04)"><circle cx="155.1" cy="221.9" r="0.40" fill="#6fd8c0" opacity="0.24"/><circle cx="151.2" cy="213.1" r="0.50" fill="#6fd8c0" opacity="0.34"/><circle cx="152.6" cy="212.8" r="0.53" fill="#6fd8c0" opacity="0.30"/><circle cx="152.3" cy="212.2" r="0.57" fill="#6fd8c0" opacity="0.22"/><circle cx="153.1" cy="213.0" r="0.51" fill="#6fd8c0" opacity="0.36"/><circle cx="153.4" cy="212.3" r="0.37" fill="#6fd8c0" opacity="0.24"/><circle cx="155.4" cy="217.8" r="0.40" fill="#6fd8c0" opacity="0.21"/></g>
<ellipse cx="162.20" cy="223.10" rx="5.25" ry="2.10" fill="#3fae98" opacity="0.576" transform="rotate(40 162.20 223.10)" filter="url(#b15)"/>
<ellipse cx="163.88" cy="225.17" rx="1.35" ry="0.88" fill="#6fd8c0" opacity="0.27999999999999997" transform="rotate(40 163.88 225.17)" filter="url(#b08)"/>
<ellipse cx="160.69" cy="221.50" rx="2.23" ry="0.82" fill="#0a1a0c" opacity="0.24" transform="rotate(40 160.69 221.50)" filter="url(#b08)"/>
<ellipse cx="163.27" cy="223.82" rx="1.45" ry="0.76" fill="#6fd8c0" opacity="0.27999999999999997" transform="rotate(40 163.27 223.82)" filter="url(#b08)"/>
<ellipse cx="160.96" cy="221.22" rx="1.64" ry="0.51" fill="#0a1a0c" opacity="0.24" transform="rotate(40 160.96 221.22)" filter="url(#b08)"/>
<ellipse cx="161.36" cy="223.23" rx="1.94" ry="0.70" fill="#6fd8c0" opacity="0.27999999999999997" transform="rotate(40 161.36 223.23)" filter="url(#b08)"/>
<g filter="url(#b04)"><circle cx="163.3" cy="223.8" r="0.34" fill="#6fd8c0" opacity="0.30"/><circle cx="160.9" cy="223.2" r="0.57" fill="#6fd8c0" opacity="0.26"/><circle cx="162.1" cy="224.3" r="0.43" fill="#6fd8c0" opacity="0.21"/><circle cx="162.9" cy="225.6" r="0.53" fill="#6fd8c0" opacity="0.33"/><circle cx="164.3" cy="225.8" r="0.49" fill="#6fd8c0" opacity="0.27"/></g>
<ellipse cx="171.70" cy="212.90" rx="3.15" ry="2.10" fill="#2f6f9a" opacity="0.432" transform="rotate(0 171.70 212.90)" filter="url(#b15)"/>
<ellipse cx="171.08" cy="213.18" rx="0.81" ry="0.67" fill="#5fa0c0" opacity="0.21" transform="rotate(0 171.08 213.18)" filter="url(#b08)"/>
<ellipse cx="172.63" cy="213.37" rx="1.13" ry="0.60" fill="#0a1a0c" opacity="0.18" transform="rotate(0 172.63 213.37)" filter="url(#b08)"/>
<ellipse cx="171.45" cy="212.80" rx="1.12" ry="0.66" fill="#5fa0c0" opacity="0.21" transform="rotate(0 171.45 212.80)" filter="url(#b08)"/>
<ellipse cx="172.28" cy="213.85" rx="0.86" ry="0.76" fill="#0a1a0c" opacity="0.18" transform="rotate(0 172.28 213.85)" filter="url(#b08)"/>
<ellipse cx="172.62" cy="212.66" rx="1.04" ry="0.89" fill="#5fa0c0" opacity="0.21" transform="rotate(0 172.62 212.66)" filter="url(#b08)"/>
<g filter="url(#b04)"><circle cx="169.1" cy="213.1" r="0.35" fill="#5fa0c0" opacity="0.26"/><circle cx="174.2" cy="213.0" r="0.33" fill="#5fa0c0" opacity="0.22"/><circle cx="171.9" cy="213.7" r="0.45" fill="#5fa0c0" opacity="0.24"/></g>
<ellipse cx="175.30" cy="227.90" rx="4.20" ry="2.52" fill="#3fae98" opacity="0.576" transform="rotate(-20 175.30 227.90)" filter="url(#b15)"/>
<ellipse cx="176.68" cy="227.46" rx="1.33" ry="1.06" fill="#6fd8c0" opacity="0.27999999999999997" transform="rotate(-20 176.68 227.46)" filter="url(#b08)"/>
<ellipse cx="174.27" cy="228.79" rx="1.31" ry="0.97" fill="#0a1a0c" opacity="0.24" transform="rotate(-20 174.27 228.79)" filter="url(#b08)"/>
<ellipse cx="174.18" cy="229.67" rx="1.28" ry="0.63" fill="#6fd8c0" opacity="0.27999999999999997" transform="rotate(-20 174.18 229.67)" filter="url(#b08)"/>
<ellipse cx="174.28" cy="227.99" rx="1.01" ry="0.80" fill="#0a1a0c" opacity="0.24" transform="rotate(-20 174.28 227.99)" filter="url(#b08)"/>
<ellipse cx="175.15" cy="228.51" rx="1.28" ry="0.73" fill="#6fd8c0" opacity="0.27999999999999997" transform="rotate(-20 175.15 228.51)" filter="url(#b08)"/>
<g filter="url(#b04)"><circle cx="173.7" cy="229.7" r="0.58" fill="#6fd8c0" opacity="0.29"/><circle cx="173.8" cy="229.9" r="0.42" fill="#6fd8c0" opacity="0.21"/><circle cx="173.1" cy="230.0" r="0.54" fill="#6fd8c0" opacity="0.31"/><circle cx="175.2" cy="228.2" r="0.37" fill="#6fd8c0" opacity="0.39"/><circle cx="174.5" cy="228.9" r="0.55" fill="#6fd8c0" opacity="0.36"/></g>
<ellipse cx="159.70" cy="206.90" rx="2.10" ry="1.58" fill="#2e9a4c" opacity="0.288" transform="rotate(0 159.70 206.90)" filter="url(#b15)"/>
<ellipse cx="159.63" cy="206.56" rx="0.72" ry="0.41" fill="#4fa060" opacity="0.13999999999999999" transform="rotate(0 159.63 206.56)" filter="url(#b08)"/>
<ellipse cx="160.43" cy="206.66" rx="0.84" ry="0.46" fill="#0a1a0c" opacity="0.12" transform="rotate(0 160.43 206.66)" filter="url(#b08)"/>
<ellipse cx="159.43" cy="206.49" rx="0.67" ry="0.43" fill="#4fa060" opacity="0.13999999999999999" transform="rotate(0 159.43 206.49)" filter="url(#b08)"/>
<ellipse cx="158.61" cy="207.27" rx="0.61" ry="0.45" fill="#0a1a0c" opacity="0.12" transform="rotate(0 158.61 207.27)" filter="url(#b08)"/>
<ellipse cx="159.26" cy="206.87" rx="0.67" ry="0.57" fill="#4fa060" opacity="0.13999999999999999" transform="rotate(0 159.26 206.87)" filter="url(#b08)"/>
<g filter="url(#b04)"><circle cx="160.3" cy="206.5" r="0.58" fill="#4fa060" opacity="0.18"/><circle cx="161.2" cy="207.7" r="0.34" fill="#4fa060" opacity="0.18"/></g>
<line x1="172.70" y1="201.90" x2="175.70" y2="188.90" stroke="#2f8f70" stroke-width="0.8" opacity="0.36" filter="url(#b05)" stroke-linecap="round"/>
<line x1="172.70" y1="201.90" x2="187.70" y2="208.90" stroke="#2f8f70" stroke-width="0.8" opacity="0.36" filter="url(#b05)" stroke-linecap="round"/>
<line x1="150.70" y1="208.90" x2="145.70" y2="198.90" stroke="#2f8f70" stroke-width="0.8" opacity="0.36" filter="url(#b05)" stroke-linecap="round"/>
<line x1="157.70" y1="226.90" x2="161.70" y2="236.90" stroke="#2f8f70" stroke-width="0.8" opacity="0.36" filter="url(#b05)" stroke-linecap="round"/>
<line x1="161.70" y1="222.90" x2="171.70" y2="236.90" stroke="#2f8f70" stroke-width="0.8" opacity="0.36" filter="url(#b05)" stroke-linecap="round"/>
<line x1="175.70" y1="227.90" x2="188.70" y2="222.90" stroke="#2f8f70" stroke-width="0.8" opacity="0.36" filter="url(#b05)" stroke-linecap="round"/>
<line x1="140.70" y1="223.90" x2="149.70" y2="228.90" stroke="#2f8f70" stroke-width="0.8" opacity="0.36" filter="url(#b05)" stroke-linecap="round"/>
<line x1="161.70" y1="222.90" x2="169.70" y2="216.90" stroke="#2f8f70" stroke-width="0.8" opacity="0.36" filter="url(#b05)" stroke-linecap="round"/>
<line x1="171.70" y1="212.90" x2="183.70" y2="216.90" stroke="#2f8f70" stroke-width="0.8" opacity="0.36" filter="url(#b05)" stroke-linecap="round"/>
<line x1="134.70" y1="211.90" x2="143.70" y2="214.90" stroke="#2f8f70" stroke-width="0.8" opacity="0.36" filter="url(#b05)" stroke-linecap="round"/>
<ellipse cx="213.80" cy="207.40" rx="3.57" ry="4.73" fill="#2e9a4c" opacity="0.648" transform="rotate(5 213.80 207.40)" filter="url(#b15)"/>
<ellipse cx="214.51" cy="205.05" rx="0.86" ry="1.98" fill="#48c458" opacity="0.315" transform="rotate(5 214.51 205.05)" filter="url(#b08)"/>
<ellipse cx="214.49" cy="206.22" rx="0.92" ry="1.25" fill="#0a1a0c" opacity="0.27" transform="rotate(5 214.49 206.22)" filter="url(#b08)"/>
<ellipse cx="212.69" cy="208.68" rx="1.09" ry="1.26" fill="#48c458" opacity="0.315" transform="rotate(5 212.69 208.68)" filter="url(#b08)"/>
<ellipse cx="215.18" cy="208.97" rx="0.96" ry="1.93" fill="#0a1a0c" opacity="0.27" transform="rotate(5 215.18 208.97)" filter="url(#b08)"/>
<ellipse cx="214.08" cy="208.82" rx="1.30" ry="1.93" fill="#48c458" opacity="0.315" transform="rotate(5 214.08 208.82)" filter="url(#b08)"/>
<g filter="url(#b04)"><circle cx="215.4" cy="210.4" r="0.36" fill="#48c458" opacity="0.37"/><circle cx="213.8" cy="209.5" r="0.43" fill="#48c458" opacity="0.42"/><circle cx="214.3" cy="205.4" r="0.37" fill="#48c458" opacity="0.22"/><circle cx="214.1" cy="203.6" r="0.44" fill="#48c458" opacity="0.22"/><circle cx="213.7" cy="207.4" r="0.46" fill="#48c458" opacity="0.41"/><circle cx="213.5" cy="207.9" r="0.50" fill="#48c458" opacity="0.41"/><circle cx="213.1" cy="206.6" r="0.59" fill="#48c458" opacity="0.20"/></g>
<ellipse cx="212.00" cy="216.90" rx="1.89" ry="7.35" fill="#2e9a4c" opacity="0.576" transform="rotate(8 212.00 216.90)" filter="url(#b15)"/>
<ellipse cx="212.12" cy="217.98" rx="0.46" ry="2.60" fill="#48c458" opacity="0.27999999999999997" transform="rotate(8 212.12 217.98)" filter="url(#b08)"/>
<ellipse cx="211.90" cy="220.24" rx="0.57" ry="3.12" fill="#0a1a0c" opacity="0.24" transform="rotate(8 211.90 220.24)" filter="url(#b08)"/>
<ellipse cx="212.04" cy="216.79" rx="0.77" ry="1.80" fill="#48c458" opacity="0.27999999999999997" transform="rotate(8 212.04 216.79)" filter="url(#b08)"/>
<ellipse cx="212.29" cy="217.92" rx="0.57" ry="2.96" fill="#0a1a0c" opacity="0.24" transform="rotate(8 212.29 217.92)" filter="url(#b08)"/>
<ellipse cx="211.76" cy="216.67" rx="0.64" ry="2.83" fill="#48c458" opacity="0.27999999999999997" transform="rotate(8 211.76 216.67)" filter="url(#b08)"/>
<g filter="url(#b04)"><circle cx="211.1" cy="215.9" r="0.43" fill="#48c458" opacity="0.29"/><circle cx="213.5" cy="214.3" r="0.55" fill="#48c458" opacity="0.26"/><circle cx="212.4" cy="213.9" r="0.45" fill="#48c458" opacity="0.39"/><circle cx="212.0" cy="220.8" r="0.40" fill="#48c458" opacity="0.24"/><circle cx="211.2" cy="217.9" r="0.49" fill="#48c458" opacity="0.35"/><circle cx="213.2" cy="217.7" r="0.31" fill="#48c458" opacity="0.23"/></g>
<ellipse cx="224.60" cy="212.40" rx="4.20" ry="3.99" fill="#3fae98" opacity="0.576" transform="rotate(-20 224.60 212.40)" filter="url(#b15)"/>
<ellipse cx="222.12" cy="211.93" rx="1.74" ry="1.41" fill="#6fd8c0" opacity="0.27999999999999997" transform="rotate(-20 222.12 211.93)" filter="url(#b08)"/>
<ellipse cx="225.67" cy="213.30" rx="1.73" ry="1.41" fill="#0a1a0c" opacity="0.24" transform="rotate(-20 225.67 213.30)" filter="url(#b08)"/>
<ellipse cx="225.26" cy="212.72" rx="1.56" ry="1.40" fill="#6fd8c0" opacity="0.27999999999999997" transform="rotate(-20 225.26 212.72)" filter="url(#b08)"/>
<ellipse cx="224.94" cy="211.00" rx="1.53" ry="1.30" fill="#0a1a0c" opacity="0.24" transform="rotate(-20 224.94 211.00)" filter="url(#b08)"/>
<ellipse cx="225.12" cy="210.44" rx="1.15" ry="0.98" fill="#6fd8c0" opacity="0.27999999999999997" transform="rotate(-20 225.12 210.44)" filter="url(#b08)"/>
<g filter="url(#b04)"><circle cx="227.6" cy="214.5" r="0.50" fill="#6fd8c0" opacity="0.25"/><circle cx="227.6" cy="213.5" r="0.47" fill="#6fd8c0" opacity="0.22"/><circle cx="223.0" cy="212.4" r="0.40" fill="#6fd8c0" opacity="0.26"/><circle cx="226.7" cy="215.0" r="0.32" fill="#6fd8c0" opacity="0.30"/><circle cx="227.0" cy="212.1" r="0.58" fill="#6fd8c0" opacity="0.27"/><circle cx="220.9" cy="212.9" r="0.48" fill="#6fd8c0" opacity="0.39"/><circle cx="228.0" cy="211.0" r="0.42" fill="#6fd8c0" opacity="0.18"/></g>
<ellipse cx="235.30" cy="205.90" rx="5.25" ry="3.15" fill="#2e9a4c" opacity="0.612" transform="rotate(30 235.30 205.90)" filter="url(#b15)"/>
<ellipse cx="236.46" cy="205.48" rx="1.40" ry="0.76" fill="#48c458" opacity="0.2975" transform="rotate(30 236.46 205.48)" filter="url(#b08)"/>
<ellipse cx="232.64" cy="205.06" rx="1.37" ry="1.33" fill="#0a1a0c" opacity="0.255" transform="rotate(30 232.64 205.06)" filter="url(#b08)"/>
<ellipse cx="232.73" cy="205.82" rx="1.38" ry="0.76" fill="#48c458" opacity="0.2975" transform="rotate(30 232.73 205.82)" filter="url(#b08)"/>
<ellipse cx="236.77" cy="205.77" rx="1.98" ry="0.86" fill="#0a1a0c" opacity="0.255" transform="rotate(30 236.77 205.77)" filter="url(#b08)"/>
<ellipse cx="232.71" cy="205.45" rx="1.96" ry="1.26" fill="#48c458" opacity="0.2975" transform="rotate(30 232.71 205.45)" filter="url(#b08)"/>
<g filter="url(#b04)"><circle cx="238.4" cy="204.9" r="0.49" fill="#48c458" opacity="0.35"/><circle cx="233.7" cy="207.8" r="0.38" fill="#48c458" opacity="0.42"/><circle cx="233.1" cy="206.1" r="0.35" fill="#48c458" opacity="0.39"/><circle cx="236.4" cy="203.7" r="0.41" fill="#48c458" opacity="0.32"/><circle cx="234.3" cy="206.5" r="0.34" fill="#48c458" opacity="0.37"/><circle cx="233.8" cy="206.0" r="0.49" fill="#48c458" opacity="0.28"/><circle cx="233.5" cy="206.8" r="0.58" fill="#48c458" opacity="0.37"/></g>
<ellipse cx="240.70" cy="211.90" rx="4.20" ry="1.89" fill="#2e9a4c" opacity="0.432" transform="rotate(40 240.70 211.90)" filter="url(#b15)"/>
<ellipse cx="241.19" cy="211.77" rx="1.05" ry="0.80" fill="#48c458" opacity="0.21" transform="rotate(40 241.19 211.77)" filter="url(#b08)"/>
<ellipse cx="240.97" cy="212.97" rx="1.27" ry="0.67" fill="#0a1a0c" opacity="0.18" transform="rotate(40 240.97 212.97)" filter="url(#b08)"/>
<ellipse cx="241.89" cy="213.75" rx="1.48" ry="0.56" fill="#48c458" opacity="0.21" transform="rotate(40 241.89 213.75)" filter="url(#b08)"/>
<ellipse cx="239.97" cy="212.29" rx="1.30" ry="0.70" fill="#0a1a0c" opacity="0.18" transform="rotate(40 239.97 212.29)" filter="url(#b08)"/>
<ellipse cx="240.54" cy="212.79" rx="1.65" ry="0.55" fill="#48c458" opacity="0.21" transform="rotate(40 240.54 212.79)" filter="url(#b08)"/>
<g filter="url(#b04)"><circle cx="240.1" cy="211.7" r="0.54" fill="#48c458" opacity="0.28"/><circle cx="241.7" cy="214.4" r="0.47" fill="#48c458" opacity="0.17"/><circle cx="242.1" cy="214.4" r="0.51" fill="#48c458" opacity="0.28"/><circle cx="240.7" cy="210.1" r="0.47" fill="#48c458" opacity="0.26"/></g>
<ellipse cx="194.80" cy="225.50" rx="3.57" ry="3.15" fill="#3fae98" opacity="0.612" transform="rotate(0 194.80 225.50)" filter="url(#b15)"/>
<ellipse cx="193.68" cy="226.33" rx="1.48" ry="0.89" fill="#6fd8c0" opacity="0.2975" transform="rotate(0 193.68 226.33)" filter="url(#b08)"/>
<ellipse cx="195.20" cy="226.09" rx="1.17" ry="0.87" fill="#0a1a0c" opacity="0.255" transform="rotate(0 195.20 226.09)" filter="url(#b08)"/>
<ellipse cx="193.88" cy="226.33" rx="1.39" ry="1.03" fill="#6fd8c0" opacity="0.2975" transform="rotate(0 193.88 226.33)" filter="url(#b08)"/>
<ellipse cx="193.26" cy="226.51" rx="1.38" ry="0.89" fill="#0a1a0c" opacity="0.255" transform="rotate(0 193.26 226.51)" filter="url(#b08)"/>
<ellipse cx="195.10" cy="226.81" rx="1.45" ry="1.06" fill="#6fd8c0" opacity="0.2975" transform="rotate(0 195.10 226.81)" filter="url(#b08)"/>
<g filter="url(#b04)"><circle cx="194.6" cy="226.0" r="0.36" fill="#6fd8c0" opacity="0.22"/><circle cx="192.7" cy="226.6" r="0.41" fill="#6fd8c0" opacity="0.31"/><circle cx="194.2" cy="225.6" r="0.34" fill="#6fd8c0" opacity="0.18"/><circle cx="192.3" cy="226.3" r="0.54" fill="#6fd8c0" opacity="0.21"/><circle cx="195.4" cy="224.6" r="0.46" fill="#6fd8c0" opacity="0.18"/></g>
<ellipse cx="246.00" cy="225.50" rx="2.62" ry="2.10" fill="#2e9a4c" opacity="0.36" transform="rotate(0 246.00 225.50)" filter="url(#b15)"/>
<ellipse cx="244.72" cy="226.58" rx="1.06" ry="0.69" fill="#48c458" opacity="0.175" transform="rotate(0 244.72 226.58)" filter="url(#b08)"/>
<ellipse cx="246.18" cy="224.98" rx="1.01" ry="0.67" fill="#0a1a0c" opacity="0.15" transform="rotate(0 246.18 224.98)" filter="url(#b08)"/>
<ellipse cx="247.23" cy="226.09" rx="1.03" ry="0.89" fill="#48c458" opacity="0.175" transform="rotate(0 247.23 226.09)" filter="url(#b08)"/>
<ellipse cx="245.32" cy="224.48" rx="0.73" ry="0.57" fill="#0a1a0c" opacity="0.15" transform="rotate(0 245.32 224.48)" filter="url(#b08)"/>
<ellipse cx="244.86" cy="224.51" rx="0.90" ry="0.85" fill="#48c458" opacity="0.175" transform="rotate(0 244.86 224.51)" filter="url(#b08)"/>
<g filter="url(#b04)"><circle cx="245.8" cy="227.2" r="0.57" fill="#48c458" opacity="0.11"/><circle cx="246.5" cy="225.1" r="0.34" fill="#48c458" opacity="0.24"/><circle cx="244.8" cy="225.7" r="0.49" fill="#48c458" opacity="0.24"/></g>
<ellipse cx="244.70" cy="238.40" rx="4.20" ry="2.62" fill="#2e9a4c" opacity="0.504" transform="rotate(0 244.70 238.40)" filter="url(#b15)"/>
<ellipse cx="245.45" cy="238.11" rx="1.36" ry="0.70" fill="#48c458" opacity="0.24499999999999997" transform="rotate(0 245.45 238.11)" filter="url(#b08)"/>
<ellipse cx="246.75" cy="239.75" rx="1.18" ry="0.64" fill="#0a1a0c" opacity="0.21" transform="rotate(0 246.75 239.75)" filter="url(#b08)"/>
<ellipse cx="243.63" cy="237.99" rx="1.72" ry="1.08" fill="#48c458" opacity="0.24499999999999997" transform="rotate(0 243.63 237.99)" filter="url(#b08)"/>
<ellipse cx="246.18" cy="237.15" rx="1.63" ry="0.98" fill="#0a1a0c" opacity="0.21" transform="rotate(0 246.18 237.15)" filter="url(#b08)"/>
<ellipse cx="245.35" cy="239.73" rx="1.04" ry="0.70" fill="#48c458" opacity="0.24499999999999997" transform="rotate(0 245.35 239.73)" filter="url(#b08)"/>
<g filter="url(#b04)"><circle cx="246.0" cy="237.4" r="0.48" fill="#48c458" opacity="0.30"/><circle cx="241.7" cy="237.6" r="0.38" fill="#48c458" opacity="0.17"/><circle cx="244.6" cy="236.8" r="0.37" fill="#48c458" opacity="0.17"/><circle cx="246.4" cy="237.0" r="0.31" fill="#48c458" opacity="0.33"/><circle cx="242.0" cy="238.1" r="0.33" fill="#48c458" opacity="0.34"/></g>
<ellipse cx="222.20" cy="214.80" rx="2.20" ry="2.00" fill="#2b46b8" opacity="0.7" transform="rotate(0 222.20 214.80)" filter="url(#b08)"/>
<line x1="210.70" y1="223.90" x2="208.70" y2="230.90" stroke="#2f9f5a" stroke-width="0.8" opacity="0.36" filter="url(#b05)" stroke-linecap="round"/>
<line x1="224.70" y1="211.90" x2="231.70" y2="222.90" stroke="#2f9f5a" stroke-width="0.8" opacity="0.36" filter="url(#b05)" stroke-linecap="round"/>
<line x1="235.70" y1="205.90" x2="245.70" y2="212.90" stroke="#2f9f5a" stroke-width="0.8" opacity="0.36" filter="url(#b05)" stroke-linecap="round"/>
<line x1="195.70" y1="225.90" x2="203.70" y2="230.90" stroke="#2f9f5a" stroke-width="0.8" opacity="0.36" filter="url(#b05)" stroke-linecap="round"/>
<line x1="213.70" y1="202.90" x2="215.70" y2="192.90" stroke="#2f9f5a" stroke-width="0.8" opacity="0.36" filter="url(#b05)" stroke-linecap="round"/>
<line x1="241.70" y1="238.90" x2="247.70" y2="230.90" stroke="#2f9f5a" stroke-width="0.8" opacity="0.36" filter="url(#b05)" stroke-linecap="round"/>
<ellipse cx="258.30" cy="209.80" rx="3.36" ry="2.94" fill="#3fae98" opacity="0.648" transform="rotate(0 258.30 209.80)" filter="url(#b15)"/>
<ellipse cx="259.50" cy="210.20" rx="1.09" ry="0.89" fill="#6fd8c0" opacity="0.315" transform="rotate(0 259.50 210.20)" filter="url(#b08)"/>
<ellipse cx="259.44" cy="209.73" rx="1.20" ry="0.78" fill="#0a1a0c" opacity="0.27" transform="rotate(0 259.44 209.73)" filter="url(#b08)"/>
<ellipse cx="257.32" cy="208.43" rx="1.26" ry="1.01" fill="#6fd8c0" opacity="0.315" transform="rotate(0 257.32 208.43)" filter="url(#b08)"/>
<ellipse cx="257.05" cy="210.94" rx="0.97" ry="0.93" fill="#0a1a0c" opacity="0.27" transform="rotate(0 257.05 210.94)" filter="url(#b08)"/>
<ellipse cx="257.09" cy="209.10" rx="1.34" ry="0.89" fill="#6fd8c0" opacity="0.315" transform="rotate(0 257.09 209.10)" filter="url(#b08)"/>
<g filter="url(#b04)"><circle cx="256.3" cy="209.8" r="0.40" fill="#6fd8c0" opacity="0.42"/><circle cx="259.3" cy="208.3" r="0.44" fill="#6fd8c0" opacity="0.26"/><circle cx="256.8" cy="208.2" r="0.41" fill="#6fd8c0" opacity="0.45"/><circle cx="255.9" cy="208.7" r="0.57" fill="#6fd8c0" opacity="0.20"/><circle cx="259.7" cy="208.7" r="0.59" fill="#6fd8c0" opacity="0.18"/></g>
<ellipse cx="295.10" cy="208.90" rx="3.57" ry="2.94" fill="#3fae98" opacity="0.648" transform="rotate(0 295.10 208.90)" filter="url(#b15)"/>
<ellipse cx="296.25" cy="208.41" rx="0.95" ry="0.70" fill="#6fd8c0" opacity="0.315" transform="rotate(0 296.25 208.41)" filter="url(#b08)"/>
<ellipse cx="296.34" cy="208.98" rx="0.98" ry="0.94" fill="#0a1a0c" opacity="0.27" transform="rotate(0 296.34 208.98)" filter="url(#b08)"/>
<ellipse cx="296.64" cy="208.03" rx="1.24" ry="0.78" fill="#6fd8c0" opacity="0.315" transform="rotate(0 296.64 208.03)" filter="url(#b08)"/>
<ellipse cx="293.90" cy="209.73" rx="1.33" ry="0.81" fill="#0a1a0c" opacity="0.27" transform="rotate(0 293.90 209.73)" filter="url(#b08)"/>
<ellipse cx="293.53" cy="207.63" rx="1.26" ry="0.98" fill="#6fd8c0" opacity="0.315" transform="rotate(0 293.53 207.63)" filter="url(#b08)"/>
<g filter="url(#b04)"><circle cx="293.6" cy="207.3" r="0.48" fill="#6fd8c0" opacity="0.37"/><circle cx="297.1" cy="209.3" r="0.36" fill="#6fd8c0" opacity="0.20"/><circle cx="296.6" cy="208.4" r="0.52" fill="#6fd8c0" opacity="0.19"/><circle cx="297.1" cy="208.0" r="0.55" fill="#6fd8c0" opacity="0.41"/><circle cx="295.1" cy="206.3" r="0.57" fill="#6fd8c0" opacity="0.31"/></g>
<ellipse cx="301.00" cy="205.50" rx="2.62" ry="2.31" fill="#2e9a4c" opacity="0.576" transform="rotate(0 301.00 205.50)" filter="url(#b15)"/>
<ellipse cx="302.02" cy="204.93" rx="0.72" ry="0.92" fill="#48c458" opacity="0.27999999999999997" transform="rotate(0 302.02 204.93)" filter="url(#b08)"/>
<ellipse cx="300.63" cy="204.69" rx="0.81" ry="0.81" fill="#0a1a0c" opacity="0.24" transform="rotate(0 300.63 204.69)" filter="url(#b08)"/>
<ellipse cx="299.64" cy="205.55" rx="0.85" ry="0.78" fill="#48c458" opacity="0.27999999999999997" transform="rotate(0 299.64 205.55)" filter="url(#b08)"/>
<ellipse cx="299.96" cy="206.02" rx="1.03" ry="0.93" fill="#0a1a0c" opacity="0.24" transform="rotate(0 299.96 206.02)" filter="url(#b08)"/>
<ellipse cx="300.51" cy="206.01" rx="0.82" ry="0.88" fill="#48c458" opacity="0.27999999999999997" transform="rotate(0 300.51 206.01)" filter="url(#b08)"/>
<g filter="url(#b04)"><circle cx="303.2" cy="205.5" r="0.45" fill="#48c458" opacity="0.29"/><circle cx="301.2" cy="203.5" r="0.59" fill="#48c458" opacity="0.21"/><circle cx="299.8" cy="206.8" r="0.31" fill="#48c458" opacity="0.18"/></g>
<ellipse cx="286.50" cy="221.70" rx="3.15" ry="2.62" fill="#3fae98" opacity="0.648" transform="rotate(0 286.50 221.70)" filter="url(#b15)"/>
<ellipse cx="287.16" cy="220.86" rx="0.76" ry="0.92" fill="#6fd8c0" opacity="0.315" transform="rotate(0 287.16 220.86)" filter="url(#b08)"/>
<ellipse cx="286.75" cy="221.76" rx="1.17" ry="0.68" fill="#0a1a0c" opacity="0.27" transform="rotate(0 286.75 221.76)" filter="url(#b08)"/>
<ellipse cx="287.72" cy="222.30" rx="0.78" ry="0.69" fill="#6fd8c0" opacity="0.315" transform="rotate(0 287.72 222.30)" filter="url(#b08)"/>
<ellipse cx="286.48" cy="221.70" rx="0.92" ry="0.69" fill="#0a1a0c" opacity="0.27" transform="rotate(0 286.48 221.70)" filter="url(#b08)"/>
<ellipse cx="286.19" cy="220.70" rx="1.11" ry="1.06" fill="#6fd8c0" opacity="0.315" transform="rotate(0 286.19 220.70)" filter="url(#b08)"/>
<g filter="url(#b04)"><circle cx="284.5" cy="222.0" r="0.52" fill="#6fd8c0" opacity="0.22"/><circle cx="285.9" cy="221.3" r="0.55" fill="#6fd8c0" opacity="0.32"/><circle cx="285.9" cy="223.8" r="0.53" fill="#6fd8c0" opacity="0.27"/><circle cx="285.0" cy="220.9" r="0.43" fill="#6fd8c0" opacity="0.44"/></g>
<ellipse cx="269.40" cy="230.30" rx="2.31" ry="3.36" fill="#2e9a4c" opacity="0.648" transform="rotate(0 269.40 230.30)" filter="url(#b15)"/>
<ellipse cx="270.14" cy="231.75" rx="0.91" ry="1.34" fill="#48c458" opacity="0.315" transform="rotate(0 270.14 231.75)" filter="url(#b08)"/>
<ellipse cx="268.32" cy="230.36" rx="0.97" ry="1.40" fill="#0a1a0c" opacity="0.27" transform="rotate(0 268.32 230.36)" filter="url(#b08)"/>
<ellipse cx="268.79" cy="230.03" rx="0.83" ry="1.03" fill="#48c458" opacity="0.315" transform="rotate(0 268.79 230.03)" filter="url(#b08)"/>
<ellipse cx="269.47" cy="228.78" rx="0.74" ry="1.12" fill="#0a1a0c" opacity="0.27" transform="rotate(0 269.47 228.78)" filter="url(#b08)"/>
<ellipse cx="268.24" cy="229.03" rx="0.98" ry="1.30" fill="#48c458" opacity="0.315" transform="rotate(0 268.24 229.03)" filter="url(#b08)"/>
<g filter="url(#b04)"><circle cx="271.2" cy="231.1" r="0.54" fill="#48c458" opacity="0.42"/><circle cx="270.0" cy="228.9" r="0.50" fill="#48c458" opacity="0.25"/><circle cx="269.6" cy="232.9" r="0.49" fill="#48c458" opacity="0.25"/><circle cx="269.5" cy="229.9" r="0.59" fill="#48c458" opacity="0.26"/></g>
<ellipse cx="286.50" cy="191.80" rx="2.62" ry="2.10" fill="#2f6f9a" opacity="0.396" transform="rotate(0 286.50 191.80)" filter="url(#b15)"/>
<ellipse cx="285.96" cy="192.12" rx="0.69" ry="0.74" fill="#5fa0c0" opacity="0.1925" transform="rotate(0 285.96 192.12)" filter="url(#b08)"/>
<ellipse cx="287.75" cy="191.83" rx="0.76" ry="0.69" fill="#0a1a0c" opacity="0.165" transform="rotate(0 287.75 191.83)" filter="url(#b08)"/>
<ellipse cx="286.59" cy="191.03" rx="0.69" ry="0.55" fill="#5fa0c0" opacity="0.1925" transform="rotate(0 286.59 191.03)" filter="url(#b08)"/>
<ellipse cx="285.93" cy="191.59" rx="0.77" ry="0.60" fill="#0a1a0c" opacity="0.165" transform="rotate(0 285.93 191.59)" filter="url(#b08)"/>
<ellipse cx="285.37" cy="191.90" rx="1.04" ry="0.74" fill="#5fa0c0" opacity="0.1925" transform="rotate(0 285.37 191.90)" filter="url(#b08)"/>
<g filter="url(#b04)"><circle cx="286.8" cy="192.4" r="0.36" fill="#5fa0c0" opacity="0.23"/><circle cx="286.3" cy="192.0" r="0.48" fill="#5fa0c0" opacity="0.19"/><circle cx="285.6" cy="190.8" r="0.37" fill="#5fa0c0" opacity="0.19"/></g>
<ellipse cx="301.90" cy="195.20" rx="2.10" ry="2.10" fill="#2f6f9a" opacity="0.396" transform="rotate(0 301.90 195.20)" filter="url(#b15)"/>
<ellipse cx="301.64" cy="195.39" rx="0.50" ry="0.64" fill="#5fa0c0" opacity="0.1925" transform="rotate(0 301.64 195.39)" filter="url(#b08)"/>
<ellipse cx="302.70" cy="194.62" rx="0.72" ry="0.70" fill="#0a1a0c" opacity="0.165" transform="rotate(0 302.70 194.62)" filter="url(#b08)"/>
<ellipse cx="301.43" cy="196.27" rx="0.62" ry="0.81" fill="#5fa0c0" opacity="0.1925" transform="rotate(0 301.43 196.27)" filter="url(#b08)"/>
<ellipse cx="301.15" cy="194.25" rx="0.85" ry="0.68" fill="#0a1a0c" opacity="0.165" transform="rotate(0 301.15 194.25)" filter="url(#b08)"/>
<ellipse cx="300.94" cy="194.95" rx="0.68" ry="0.79" fill="#5fa0c0" opacity="0.1925" transform="rotate(0 300.94 194.95)" filter="url(#b08)"/>
<g filter="url(#b04)"><circle cx="300.4" cy="194.2" r="0.59" fill="#5fa0c0" opacity="0.23"/><circle cx="300.6" cy="194.6" r="0.41" fill="#5fa0c0" opacity="0.22"/></g>
<ellipse cx="277.20" cy="198.90" rx="2.10" ry="1.58" fill="#2e9a4c" opacity="0.288" transform="rotate(0 277.20 198.90)" filter="url(#b15)"/>
<ellipse cx="277.46" cy="199.48" rx="0.83" ry="0.53" fill="#4fa060" opacity="0.13999999999999999" transform="rotate(0 277.46 199.48)" filter="url(#b08)"/>
<ellipse cx="277.73" cy="199.30" rx="0.80" ry="0.52" fill="#0a1a0c" opacity="0.12" transform="rotate(0 277.73 199.30)" filter="url(#b08)"/>
<ellipse cx="277.83" cy="199.24" rx="0.87" ry="0.41" fill="#4fa060" opacity="0.13999999999999999" transform="rotate(0 277.83 199.24)" filter="url(#b08)"/>
<ellipse cx="278.02" cy="198.08" rx="0.81" ry="0.55" fill="#0a1a0c" opacity="0.12" transform="rotate(0 278.02 198.08)" filter="url(#b08)"/>
<ellipse cx="277.20" cy="199.66" rx="0.73" ry="0.50" fill="#4fa060" opacity="0.13999999999999999" transform="rotate(0 277.20 199.66)" filter="url(#b08)"/>
<g filter="url(#b04)"><circle cx="278.3" cy="200.0" r="0.48" fill="#4fa060" opacity="0.13"/><circle cx="277.0" cy="198.8" r="0.52" fill="#4fa060" opacity="0.12"/></g>
<line x1="269.20" y1="229.90" x2="276.20" y2="221.90" stroke="#2f9f5a" stroke-width="0.8" opacity="0.36" filter="url(#b05)" stroke-linecap="round"/>
<line x1="269.20" y1="229.90" x2="266.20" y2="240.90" stroke="#2f9f5a" stroke-width="0.8" opacity="0.36" filter="url(#b05)" stroke-linecap="round"/>
<line x1="286.20" y1="221.90" x2="292.20" y2="228.90" stroke="#2f9f5a" stroke-width="0.8" opacity="0.36" filter="url(#b05)" stroke-linecap="round"/>
<line x1="295.20" y1="208.90" x2="302.20" y2="216.90" stroke="#2f9f5a" stroke-width="0.8" opacity="0.36" filter="url(#b05)" stroke-linecap="round"/>
<ellipse cx="162.70" cy="265.00" rx="12.00" ry="3.50" fill="#2a4a30" opacity="0.55" transform="rotate(-8 162.70 265.00)" filter="url(#b15)"/>
<ellipse cx="153.70" cy="272.00" rx="6.00" ry="6.00" fill="#1f4a2a" opacity="0.5" transform="rotate(0 153.70 272.00)" filter="url(#b15)"/>
<ellipse cx="156.20" cy="279.50" rx="5.78" ry="5.25" fill="#2e9a4c" opacity="0.504" transform="rotate(0 156.20 279.50)" filter="url(#b15)"/>
<ellipse cx="155.54" cy="279.80" rx="1.80" ry="1.57" fill="#48c458" opacity="0.24499999999999997" transform="rotate(0 155.54 279.80)" filter="url(#b08)"/>
<ellipse cx="157.94" cy="281.42" rx="1.92" ry="1.69" fill="#0a1a0c" opacity="0.21" transform="rotate(0 157.94 281.42)" filter="url(#b08)"/>
<ellipse cx="154.29" cy="278.42" rx="1.53" ry="1.83" fill="#48c458" opacity="0.24499999999999997" transform="rotate(0 154.29 278.42)" filter="url(#b08)"/>
<ellipse cx="156.69" cy="277.23" rx="2.39" ry="1.57" fill="#0a1a0c" opacity="0.21" transform="rotate(0 156.69 277.23)" filter="url(#b08)"/>
<ellipse cx="158.28" cy="281.36" rx="2.43" ry="1.45" fill="#48c458" opacity="0.24499999999999997" transform="rotate(0 158.28 281.36)" filter="url(#b08)"/>
<g filter="url(#b04)"><circle cx="155.4" cy="283.4" r="0.30" fill="#48c458" opacity="0.15"/><circle cx="156.9" cy="279.5" r="0.58" fill="#48c458" opacity="0.30"/><circle cx="156.6" cy="284.2" r="0.46" fill="#48c458" opacity="0.25"/><circle cx="158.1" cy="278.5" r="0.41" fill="#48c458" opacity="0.26"/><circle cx="154.6" cy="283.8" r="0.50" fill="#48c458" opacity="0.25"/><circle cx="152.0" cy="278.3" r="0.42" fill="#48c458" opacity="0.26"/><circle cx="157.0" cy="283.1" r="0.59" fill="#48c458" opacity="0.24"/><circle cx="155.6" cy="280.7" r="0.60" fill="#48c458" opacity="0.21"/><circle cx="156.5" cy="282.5" r="0.35" fill="#48c458" opacity="0.21"/><circle cx="156.3" cy="275.8" r="0.57" fill="#48c458" opacity="0.28"/><circle cx="160.3" cy="278.7" r="0.35" fill="#48c458" opacity="0.20"/><circle cx="156.3" cy="279.5" r="0.36" fill="#48c458" opacity="0.18"/><circle cx="157.6" cy="280.5" r="0.41" fill="#48c458" opacity="0.35"/></g>
<ellipse cx="156.20" cy="266.00" rx="4.20" ry="2.80" fill="#2a38a8" opacity="0.9" transform="rotate(0 156.20 266.00)" filter="url(#b08)"/>
<ellipse cx="158.20" cy="280.00" rx="2.60" ry="3.00" fill="#2a38a8" opacity="0.9" transform="rotate(0 158.20 280.00)" filter="url(#b08)"/>
<ellipse cx="143.70" cy="276.00" rx="2.50" ry="1.50" fill="#3a4a3a" opacity="0.5" transform="rotate(0 143.70 276.00)" filter="url(#b1)"/>
<ellipse cx="181.70" cy="282.00" rx="2.50" ry="1.50" fill="#3a4a3a" opacity="0.5" transform="rotate(0 181.70 282.00)" filter="url(#b1)"/>
<ellipse cx="227.20" cy="259.50" rx="6.83" ry="5.78" fill="#3fb75a" opacity="0.72" transform="rotate(0 227.20 259.50)" filter="url(#b15)"/>
<ellipse cx="228.18" cy="256.73" rx="2.16" ry="2.24" fill="#48c458" opacity="0.35" transform="rotate(0 228.18 256.73)" filter="url(#b08)"/>
<ellipse cx="225.82" cy="260.65" rx="1.63" ry="1.71" fill="#0a1a0c" opacity="0.3" transform="rotate(0 225.82 260.65)" filter="url(#b08)"/>
<ellipse cx="229.65" cy="260.02" rx="2.49" ry="1.59" fill="#48c458" opacity="0.35" transform="rotate(0 229.65 260.02)" filter="url(#b08)"/>
<ellipse cx="227.18" cy="259.82" rx="1.97" ry="2.09" fill="#0a1a0c" opacity="0.3" transform="rotate(0 227.18 259.82)" filter="url(#b08)"/>
<ellipse cx="227.43" cy="262.51" rx="2.37" ry="1.83" fill="#48c458" opacity="0.35" transform="rotate(0 227.43 262.51)" filter="url(#b08)"/>
<g filter="url(#b04)"><circle cx="230.4" cy="255.4" r="0.33" fill="#48c458" opacity="0.25"/><circle cx="227.5" cy="262.9" r="0.48" fill="#48c458" opacity="0.44"/><circle cx="230.5" cy="257.6" r="0.51" fill="#48c458" opacity="0.31"/><circle cx="223.1" cy="257.1" r="0.33" fill="#48c458" opacity="0.47"/><circle cx="228.2" cy="257.9" r="0.43" fill="#48c458" opacity="0.32"/><circle cx="228.2" cy="264.3" r="0.43" fill="#48c458" opacity="0.39"/><circle cx="224.9" cy="263.7" r="0.54" fill="#48c458" opacity="0.29"/><circle cx="228.5" cy="264.3" r="0.45" fill="#48c458" opacity="0.48"/><circle cx="224.0" cy="258.3" r="0.52" fill="#48c458" opacity="0.27"/><circle cx="224.8" cy="263.4" r="0.45" fill="#48c458" opacity="0.44"/><circle cx="224.0" cy="256.1" r="0.41" fill="#48c458" opacity="0.26"/><circle cx="228.0" cy="255.5" r="0.46" fill="#48c458" opacity="0.32"/><circle cx="226.0" cy="255.0" r="0.34" fill="#48c458" opacity="0.45"/><circle cx="225.4" cy="256.8" r="0.36" fill="#48c458" opacity="0.29"/><circle cx="229.2" cy="257.8" r="0.35" fill="#48c458" opacity="0.41"/><circle cx="222.2" cy="257.1" r="0.55" fill="#48c458" opacity="0.24"/><circle cx="226.5" cy="263.0" r="0.54" fill="#48c458" opacity="0.25"/></g>
<ellipse cx="228.20" cy="259.50" rx="3.40" ry="2.80" fill="#2a6a9a" opacity="0.75" transform="rotate(0 228.20 259.50)" filter="url(#b08)"/>
<ellipse cx="206.70" cy="281.00" rx="8.40" ry="7.35" fill="#3fb75a" opacity="0.6839999999999999" transform="rotate(20 206.70 281.00)" filter="url(#b15)"/>
<ellipse cx="204.90" cy="282.17" rx="2.60" ry="3.09" fill="#48c458" opacity="0.33249999999999996" transform="rotate(20 204.90 282.17)" filter="url(#b08)"/>
<ellipse cx="203.10" cy="283.38" rx="2.81" ry="2.07" fill="#0a1a0c" opacity="0.285" transform="rotate(20 203.10 283.38)" filter="url(#b08)"/>
<ellipse cx="207.28" cy="278.19" rx="3.13" ry="2.12" fill="#48c458" opacity="0.33249999999999996" transform="rotate(20 207.28 278.19)" filter="url(#b08)"/>
<ellipse cx="209.77" cy="282.84" rx="2.59" ry="2.09" fill="#0a1a0c" opacity="0.285" transform="rotate(20 209.77 282.84)" filter="url(#b08)"/>
<ellipse cx="208.35" cy="279.25" rx="3.40" ry="1.92" fill="#48c458" opacity="0.33249999999999996" transform="rotate(20 208.35 279.25)" filter="url(#b08)"/>
<g filter="url(#b04)"><circle cx="206.7" cy="281.6" r="0.38" fill="#48c458" opacity="0.41"/><circle cx="204.3" cy="282.4" r="0.47" fill="#48c458" opacity="0.28"/><circle cx="207.0" cy="275.3" r="0.35" fill="#48c458" opacity="0.43"/><circle cx="203.4" cy="282.1" r="0.33" fill="#48c458" opacity="0.35"/><circle cx="204.7" cy="280.3" r="0.39" fill="#48c458" opacity="0.21"/><circle cx="205.2" cy="276.6" r="0.34" fill="#48c458" opacity="0.39"/><circle cx="204.0" cy="278.7" r="0.57" fill="#48c458" opacity="0.41"/><circle cx="202.5" cy="276.3" r="0.31" fill="#48c458" opacity="0.38"/><circle cx="209.7" cy="280.0" r="0.42" fill="#48c458" opacity="0.38"/><circle cx="210.7" cy="278.9" r="0.55" fill="#48c458" opacity="0.29"/><circle cx="210.0" cy="277.7" r="0.33" fill="#48c458" opacity="0.45"/><circle cx="209.1" cy="284.9" r="0.31" fill="#48c458" opacity="0.20"/><circle cx="203.2" cy="275.5" r="0.39" fill="#48c458" opacity="0.30"/><circle cx="201.0" cy="276.2" r="0.49" fill="#48c458" opacity="0.24"/><circle cx="211.2" cy="283.6" r="0.51" fill="#48c458" opacity="0.26"/><circle cx="204.9" cy="283.0" r="0.40" fill="#48c458" opacity="0.19"/><circle cx="210.2" cy="286.2" r="0.39" fill="#48c458" opacity="0.20"/><circle cx="211.3" cy="284.2" r="0.31" fill="#48c458" opacity="0.26"/><circle cx="199.8" cy="282.6" r="0.36" fill="#48c458" opacity="0.45"/><circle cx="212.1" cy="277.1" r="0.51" fill="#48c458" opacity="0.30"/><circle cx="208.7" cy="286.4" r="0.38" fill="#48c458" opacity="0.22"/><circle cx="213.4" cy="282.4" r="0.58" fill="#48c458" opacity="0.39"/><circle cx="208.6" cy="286.4" r="0.49" fill="#48c458" opacity="0.32"/><circle cx="199.4" cy="281.2" r="0.43" fill="#48c458" opacity="0.34"/><circle cx="208.2" cy="285.9" r="0.38" fill="#48c458" opacity="0.35"/><circle cx="212.8" cy="285.2" r="0.46" fill="#48c458" opacity="0.26"/></g>
<ellipse cx="216.70" cy="287.00" rx="9.45" ry="6.83" fill="#2e9a4c" opacity="0.648" transform="rotate(-10 216.70 287.00)" filter="url(#b15)"/>
<ellipse cx="212.23" cy="286.76" rx="2.99" ry="1.89" fill="#48c458" opacity="0.315" transform="rotate(-10 212.23 286.76)" filter="url(#b08)"/>
<ellipse cx="214.40" cy="284.77" rx="3.52" ry="2.50" fill="#0a1a0c" opacity="0.27" transform="rotate(-10 214.40 284.77)" filter="url(#b08)"/>
<ellipse cx="213.82" cy="285.63" rx="3.18" ry="2.20" fill="#48c458" opacity="0.315" transform="rotate(-10 213.82 285.63)" filter="url(#b08)"/>
<ellipse cx="220.76" cy="285.20" rx="2.79" ry="2.78" fill="#0a1a0c" opacity="0.27" transform="rotate(-10 220.76 285.20)" filter="url(#b08)"/>
<ellipse cx="213.29" cy="288.06" rx="2.85" ry="2.69" fill="#48c458" opacity="0.315" transform="rotate(-10 213.29 288.06)" filter="url(#b08)"/>
<g filter="url(#b04)"><circle cx="218.1" cy="290.0" r="0.35" fill="#48c458" opacity="0.36"/><circle cx="218.3" cy="286.2" r="0.53" fill="#48c458" opacity="0.40"/><circle cx="209.8" cy="285.6" r="0.41" fill="#48c458" opacity="0.24"/><circle cx="208.8" cy="285.6" r="0.36" fill="#48c458" opacity="0.37"/><circle cx="215.0" cy="282.4" r="0.40" fill="#48c458" opacity="0.31"/><circle cx="213.7" cy="283.4" r="0.32" fill="#48c458" opacity="0.18"/><circle cx="210.2" cy="290.9" r="0.59" fill="#48c458" opacity="0.33"/><circle cx="210.1" cy="288.0" r="0.43" fill="#48c458" opacity="0.23"/><circle cx="216.4" cy="280.9" r="0.58" fill="#48c458" opacity="0.35"/><circle cx="219.8" cy="291.9" r="0.50" fill="#48c458" opacity="0.25"/><circle cx="211.6" cy="283.4" r="0.31" fill="#48c458" opacity="0.39"/><circle cx="222.0" cy="283.5" r="0.36" fill="#48c458" opacity="0.35"/><circle cx="211.7" cy="291.4" r="0.55" fill="#48c458" opacity="0.38"/><circle cx="213.1" cy="283.7" r="0.55" fill="#48c458" opacity="0.27"/><circle cx="214.6" cy="288.0" r="0.41" fill="#48c458" opacity="0.40"/><circle cx="218.1" cy="288.4" r="0.55" fill="#48c458" opacity="0.37"/><circle cx="216.6" cy="287.0" r="0.35" fill="#48c458" opacity="0.26"/><circle cx="217.2" cy="281.7" r="0.51" fill="#48c458" opacity="0.22"/><circle cx="216.8" cy="292.9" r="0.33" fill="#48c458" opacity="0.19"/><circle cx="215.0" cy="283.4" r="0.52" fill="#48c458" opacity="0.18"/><circle cx="223.2" cy="290.3" r="0.54" fill="#48c458" opacity="0.29"/><circle cx="213.4" cy="289.6" r="0.45" fill="#48c458" opacity="0.29"/><circle cx="213.9" cy="286.7" r="0.50" fill="#48c458" opacity="0.40"/><circle cx="213.1" cy="286.9" r="0.47" fill="#48c458" opacity="0.27"/><circle cx="213.6" cy="287.0" r="0.59" fill="#48c458" opacity="0.43"/><circle cx="224.7" cy="287.1" r="0.54" fill="#48c458" opacity="0.20"/><circle cx="219.9" cy="287.8" r="0.39" fill="#48c458" opacity="0.33"/></g>
<ellipse cx="223.70" cy="280.00" rx="6.30" ry="5.25" fill="#2e9a4c" opacity="0.576" transform="rotate(0 223.70 280.00)" filter="url(#b15)"/>
<ellipse cx="226.69" cy="279.89" rx="2.28" ry="1.55" fill="#48c458" opacity="0.27999999999999997" transform="rotate(0 226.69 279.89)" filter="url(#b08)"/>
<ellipse cx="222.67" cy="282.12" rx="1.53" ry="1.44" fill="#0a1a0c" opacity="0.24" transform="rotate(0 222.67 282.12)" filter="url(#b08)"/>
<ellipse cx="224.88" cy="279.71" rx="1.60" ry="1.91" fill="#48c458" opacity="0.27999999999999997" transform="rotate(0 224.88 279.71)" filter="url(#b08)"/>
<ellipse cx="222.86" cy="280.44" rx="2.00" ry="1.78" fill="#0a1a0c" opacity="0.24" transform="rotate(0 222.86 280.44)" filter="url(#b08)"/>
<ellipse cx="224.13" cy="279.43" rx="1.64" ry="1.43" fill="#48c458" opacity="0.27999999999999997" transform="rotate(0 224.13 279.43)" filter="url(#b08)"/>
<g filter="url(#b04)"><circle cx="228.1" cy="280.5" r="0.33" fill="#48c458" opacity="0.37"/><circle cx="220.9" cy="276.2" r="0.46" fill="#48c458" opacity="0.22"/><circle cx="223.6" cy="280.5" r="0.37" fill="#48c458" opacity="0.30"/><circle cx="219.3" cy="280.1" r="0.48" fill="#48c458" opacity="0.18"/><circle cx="222.7" cy="275.9" r="0.43" fill="#48c458" opacity="0.37"/><circle cx="224.3" cy="282.0" r="0.53" fill="#48c458" opacity="0.19"/><circle cx="222.5" cy="276.9" r="0.59" fill="#48c458" opacity="0.30"/><circle cx="226.8" cy="276.5" r="0.53" fill="#48c458" opacity="0.17"/><circle cx="220.7" cy="278.8" r="0.30" fill="#48c458" opacity="0.30"/><circle cx="220.4" cy="278.1" r="0.51" fill="#48c458" opacity="0.26"/><circle cx="228.1" cy="281.2" r="0.56" fill="#48c458" opacity="0.30"/><circle cx="219.9" cy="282.3" r="0.40" fill="#48c458" opacity="0.34"/><circle cx="225.8" cy="283.1" r="0.34" fill="#48c458" opacity="0.25"/><circle cx="224.9" cy="276.2" r="0.46" fill="#48c458" opacity="0.35"/></g>
<ellipse cx="211.70" cy="294.00" rx="6.30" ry="3.15" fill="#2e9a4c" opacity="0.432" transform="rotate(0 211.70 294.00)" filter="url(#b15)"/>
<ellipse cx="209.15" cy="295.40" rx="2.31" ry="0.90" fill="#48c458" opacity="0.21" transform="rotate(0 209.15 295.40)" filter="url(#b08)"/>
<ellipse cx="209.67" cy="293.82" rx="2.51" ry="1.10" fill="#0a1a0c" opacity="0.18" transform="rotate(0 209.67 293.82)" filter="url(#b08)"/>
<ellipse cx="209.15" cy="292.42" rx="1.63" ry="1.23" fill="#48c458" opacity="0.21" transform="rotate(0 209.15 292.42)" filter="url(#b08)"/>
<ellipse cx="209.62" cy="294.18" rx="1.85" ry="1.16" fill="#0a1a0c" opacity="0.18" transform="rotate(0 209.62 294.18)" filter="url(#b08)"/>
<ellipse cx="210.91" cy="292.83" rx="2.55" ry="1.07" fill="#48c458" opacity="0.21" transform="rotate(0 210.91 292.83)" filter="url(#b08)"/>
<g filter="url(#b04)"><circle cx="213.9" cy="295.8" r="0.58" fill="#48c458" opacity="0.12"/><circle cx="209.9" cy="292.0" r="0.45" fill="#48c458" opacity="0.28"/><circle cx="208.1" cy="295.8" r="0.50" fill="#48c458" opacity="0.19"/><circle cx="211.4" cy="292.1" r="0.55" fill="#48c458" opacity="0.19"/><circle cx="216.0" cy="294.6" r="0.32" fill="#48c458" opacity="0.18"/><circle cx="208.5" cy="296.2" r="0.48" fill="#48c458" opacity="0.13"/><circle cx="207.9" cy="293.2" r="0.44" fill="#48c458" opacity="0.22"/><circle cx="210.4" cy="293.2" r="0.30" fill="#48c458" opacity="0.22"/><circle cx="211.2" cy="296.8" r="0.31" fill="#48c458" opacity="0.15"/></g>
<line x1="219.70" y1="279.00" x2="239.70" y2="276.00" stroke="#2e9a4c" stroke-width="1.2" opacity="0.42" filter="url(#b05)" stroke-linecap="round"/>
<line x1="231.70" y1="266.00" x2="237.70" y2="272.00" stroke="#2e9a4c" stroke-width="0.9" opacity="0.3" filter="url(#b05)" stroke-linecap="round"/>
<line x1="199.70" y1="274.00" x2="195.70" y2="268.00" stroke="#2e9a4c" stroke-width="0.9" opacity="0.3" filter="url(#b05)" stroke-linecap="round"/>
<ellipse cx="269.20" cy="270.50" rx="9.97" ry="2.94" fill="#2e9a4c" opacity="0.54" transform="rotate(-5 269.20 270.50)" filter="url(#b15)"/>
<ellipse cx="270.92" cy="269.65" rx="2.89" ry="0.98" fill="#48c458" opacity="0.26249999999999996" transform="rotate(-5 270.92 269.65)" filter="url(#b08)"/>
<ellipse cx="266.74" cy="270.93" rx="3.38" ry="1.24" fill="#0a1a0c" opacity="0.22499999999999998" transform="rotate(-5 266.74 270.93)" filter="url(#b08)"/>
<ellipse cx="274.20" cy="268.62" rx="3.44" ry="1.13" fill="#48c458" opacity="0.26249999999999996" transform="rotate(-5 274.20 268.62)" filter="url(#b08)"/>
<ellipse cx="273.15" cy="271.00" rx="3.58" ry="1.06" fill="#0a1a0c" opacity="0.22499999999999998" transform="rotate(-5 273.15 271.00)" filter="url(#b08)"/>
<ellipse cx="267.71" cy="269.95" rx="3.89" ry="1.19" fill="#48c458" opacity="0.26249999999999996" transform="rotate(-5 267.71 269.95)" filter="url(#b08)"/>
<g filter="url(#b04)"><circle cx="277.2" cy="270.8" r="0.39" fill="#48c458" opacity="0.32"/><circle cx="273.5" cy="270.2" r="0.49" fill="#48c458" opacity="0.23"/><circle cx="270.1" cy="269.9" r="0.32" fill="#48c458" opacity="0.23"/><circle cx="268.8" cy="269.8" r="0.37" fill="#48c458" opacity="0.20"/><circle cx="266.3" cy="268.8" r="0.30" fill="#48c458" opacity="0.35"/><circle cx="268.3" cy="270.3" r="0.47" fill="#48c458" opacity="0.22"/><circle cx="265.5" cy="269.8" r="0.52" fill="#48c458" opacity="0.27"/><circle cx="277.0" cy="269.0" r="0.58" fill="#48c458" opacity="0.28"/><circle cx="270.9" cy="273.0" r="0.41" fill="#48c458" opacity="0.32"/><circle cx="268.1" cy="272.6" r="0.32" fill="#48c458" opacity="0.26"/><circle cx="276.3" cy="268.7" r="0.38" fill="#48c458" opacity="0.16"/><circle cx="263.1" cy="269.8" r="0.51" fill="#48c458" opacity="0.20"/></g>
<ellipse cx="275.70" cy="268.70" rx="3.60" ry="3.00" fill="#2f5aa8" opacity="0.8" transform="rotate(0 275.70 268.70)" filter="url(#b08)"/>
<ellipse cx="284.00" cy="282.40" rx="5.78" ry="5.46" fill="#2e9a4c" opacity="0.54" transform="rotate(0 284.00 282.40)" filter="url(#b15)"/>
<ellipse cx="283.39" cy="280.69" rx="2.04" ry="2.20" fill="#48c458" opacity="0.26249999999999996" transform="rotate(0 283.39 280.69)" filter="url(#b08)"/>
<ellipse cx="284.90" cy="280.67" rx="2.18" ry="2.30" fill="#0a1a0c" opacity="0.22499999999999998" transform="rotate(0 284.90 280.67)" filter="url(#b08)"/>
<ellipse cx="284.61" cy="279.99" rx="2.27" ry="2.21" fill="#48c458" opacity="0.26249999999999996" transform="rotate(0 284.61 279.99)" filter="url(#b08)"/>
<ellipse cx="283.04" cy="280.32" rx="1.58" ry="1.86" fill="#0a1a0c" opacity="0.22499999999999998" transform="rotate(0 283.04 280.32)" filter="url(#b08)"/>
<ellipse cx="286.27" cy="283.20" rx="2.39" ry="1.52" fill="#48c458" opacity="0.26249999999999996" transform="rotate(0 286.27 283.20)" filter="url(#b08)"/>
<g filter="url(#b04)"><circle cx="282.2" cy="284.9" r="0.49" fill="#48c458" opacity="0.24"/><circle cx="285.9" cy="280.8" r="0.32" fill="#48c458" opacity="0.24"/><circle cx="279.3" cy="283.6" r="0.40" fill="#48c458" opacity="0.26"/><circle cx="285.0" cy="280.0" r="0.44" fill="#48c458" opacity="0.15"/><circle cx="288.4" cy="283.0" r="0.60" fill="#48c458" opacity="0.16"/><circle cx="285.2" cy="284.6" r="0.40" fill="#48c458" opacity="0.17"/><circle cx="280.4" cy="278.9" r="0.53" fill="#48c458" opacity="0.17"/><circle cx="287.3" cy="281.6" r="0.46" fill="#48c458" opacity="0.28"/><circle cx="284.6" cy="284.0" r="0.48" fill="#48c458" opacity="0.22"/><circle cx="286.5" cy="280.0" r="0.51" fill="#48c458" opacity="0.32"/><circle cx="286.9" cy="280.5" r="0.53" fill="#48c458" opacity="0.37"/><circle cx="283.5" cy="280.2" r="0.46" fill="#48c458" opacity="0.36"/><circle cx="283.7" cy="283.9" r="0.53" fill="#48c458" opacity="0.23"/></g>
<ellipse cx="284.00" cy="282.40" rx="3.20" ry="3.00" fill="#2b40a8" opacity="0.85" transform="rotate(0 284.00 282.40)" filter="url(#b08)"/>
<line x1="257.20" y1="272.00" x2="264.20" y2="271.00" stroke="#2e9a4c" stroke-width="1.0" opacity="0.3" filter="url(#b05)" stroke-linecap="round"/>
</g>
<text x="13.40" y="240.80" font-size="3.6" fill="#f0f0f0" font-weight="bold">20µm</text>
<rect x="13.40" y="241.60" width="8.00" height="0.90" fill="#e8e8e8"/>
<text x="13.40" y="299.90" font-size="3.6" fill="#f0f0f0" font-weight="bold">10µm</text>
<rect x="13.40" y="300.70" width="8.00" height="0.90" fill="#e8e8e8"/>
<text x="73.40" y="240.80" font-size="3.6" fill="#f0f0f0" font-weight="bold">20µm</text>
<rect x="73.40" y="241.60" width="8.00" height="0.90" fill="#e8e8e8"/>
<text x="73.40" y="299.90" font-size="3.6" fill="#f0f0f0" font-weight="bold">10µm</text>
<rect x="73.40" y="300.70" width="8.00" height="0.90" fill="#e8e8e8"/>
<text x="133.50" y="240.80" font-size="3.6" fill="#f0f0f0" font-weight="bold">20µm</text>
<rect x="133.50" y="241.60" width="8.00" height="0.90" fill="#e8e8e8"/>
<text x="133.50" y="299.90" font-size="3.6" fill="#f0f0f0" font-weight="bold">10µm</text>
<rect x="133.50" y="300.70" width="8.00" height="0.90" fill="#e8e8e8"/>
<text x="193.50" y="240.80" font-size="3.6" fill="#f0f0f0" font-weight="bold">20µm</text>
<rect x="193.50" y="241.60" width="8.00" height="0.90" fill="#e8e8e8"/>
<text x="193.50" y="299.90" font-size="3.6" fill="#f0f0f0" font-weight="bold">10µm</text>
<rect x="193.50" y="300.70" width="8.00" height="0.90" fill="#e8e8e8"/>
<text x="254.00" y="240.80" font-size="3.6" fill="#f0f0f0" font-weight="bold">20µm</text>
<rect x="254.00" y="241.60" width="8.00" height="0.90" fill="#e8e8e8"/>
<text x="254.00" y="299.90" font-size="3.6" fill="#f0f0f0" font-weight="bold">10µm</text>
<rect x="254.00" y="300.70" width="8.00" height="0.90" fill="#e8e8e8"/>
<rect x="354.80" y="233.38" width="12.30" height="47.12" fill="#2fac3e"/>
<rect x="368.80" y="227.63" width="12.10" height="52.87" fill="#cc0a2f"/>
<rect x="383.00" y="230.24" width="11.60" height="50.26" fill="#cc0a2f"/>
<rect x="396.70" y="232.51" width="11.30" height="47.99" fill="#cc0a2f"/>
<line x1="360.95" y1="234.26" x2="360.95" y2="232.34" stroke="#111" stroke-width="0.9"/>
<line x1="358.35" y1="232.34" x2="363.55" y2="232.34" stroke="#111" stroke-width="0.9"/>
<line x1="358.35" y1="234.26" x2="363.55" y2="234.26" stroke="#111" stroke-width="0.9"/>
<line x1="374.85" y1="228.15" x2="374.85" y2="226.93" stroke="#111" stroke-width="0.9"/>
<line x1="372.25" y1="226.93" x2="377.45" y2="226.93" stroke="#111" stroke-width="0.9"/>
<line x1="372.25" y1="228.15" x2="377.45" y2="228.15" stroke="#111" stroke-width="0.9"/>
<line x1="388.80" y1="230.94" x2="388.80" y2="229.37" stroke="#111" stroke-width="0.9"/>
<line x1="386.20" y1="229.37" x2="391.40" y2="229.37" stroke="#111" stroke-width="0.9"/>
<line x1="386.20" y1="230.94" x2="391.40" y2="230.94" stroke="#111" stroke-width="0.9"/>
<line x1="402.35" y1="234.08" x2="402.35" y2="230.94" stroke="#111" stroke-width="0.9"/>
<line x1="399.75" y1="230.94" x2="404.95" y2="230.94" stroke="#111" stroke-width="0.9"/>
<line x1="399.75" y1="234.08" x2="404.95" y2="234.08" stroke="#111" stroke-width="0.9"/>
<circle cx="356.95" cy="233.91" r="1.70" fill="#111"/>
<circle cx="360.95" cy="232.34" r="1.70" fill="#111"/>
<circle cx="364.95" cy="231.81" r="1.70" fill="#111"/>
<circle cx="370.35" cy="227.63" r="1.70" fill="#111"/>
<circle cx="373.35" cy="226.93" r="1.70" fill="#111"/>
<circle cx="376.35" cy="227.10" r="1.70" fill="#111"/>
<circle cx="379.35" cy="227.63" r="1.70" fill="#111"/>
<circle cx="384.80" cy="229.55" r="1.70" fill="#111"/>
<circle cx="388.80" cy="228.85" r="1.70" fill="#111"/>
<circle cx="392.80" cy="229.37" r="1.70" fill="#111"/>
<circle cx="398.35" cy="230.24" r="1.70" fill="#111"/>
<circle cx="399.35" cy="233.73" r="1.70" fill="#111"/>
<circle cx="403.35" cy="232.86" r="1.70" fill="#111"/>
<circle cx="406.85" cy="233.38" r="1.70" fill="#111"/>
<line x1="349.60" y1="208.60" x2="349.60" y2="281.00" stroke="#111" stroke-width="1.1"/>
<line x1="349.10" y1="280.50" x2="409.40" y2="280.50" stroke="#111" stroke-width="1.1"/>
<line x1="346.80" y1="280.50" x2="349.60" y2="280.50" stroke="#111" stroke-width="0.9"/>
<text x="343.60" y="282.73" font-size="6.20" text-anchor="end" fill="#333" stroke="#333" stroke-width="0.05">0</text>
<line x1="346.80" y1="263.05" x2="349.60" y2="263.05" stroke="#111" stroke-width="0.9"/>
<text x="343.60" y="265.28" font-size="6.20" text-anchor="end" fill="#333" stroke="#333" stroke-width="0.05">100</text>
<line x1="346.80" y1="245.60" x2="349.60" y2="245.60" stroke="#111" stroke-width="0.9"/>
<text x="343.60" y="247.83" font-size="6.20" text-anchor="end" fill="#333" stroke="#333" stroke-width="0.05">200</text>
<line x1="346.80" y1="228.15" x2="349.60" y2="228.15" stroke="#111" stroke-width="0.9"/>
<text x="343.60" y="230.38" font-size="6.20" text-anchor="end" fill="#333" stroke="#333" stroke-width="0.05">300</text>
<line x1="346.80" y1="210.70" x2="349.60" y2="210.70" stroke="#111" stroke-width="0.9"/>
<text x="343.60" y="212.93" font-size="6.20" text-anchor="end" fill="#333" stroke="#333" stroke-width="0.05">400</text>
<line x1="360.95" y1="280.50" x2="360.95" y2="282.90" stroke="#111" stroke-width="0.9"/>
<line x1="374.85" y1="280.50" x2="374.85" y2="282.90" stroke="#111" stroke-width="0.9"/>
<line x1="388.80" y1="280.50" x2="388.80" y2="282.90" stroke="#111" stroke-width="0.9"/>
<line x1="402.35" y1="280.50" x2="402.35" y2="282.90" stroke="#111" stroke-width="0.9"/>
<line x1="359.30" y1="223.20" x2="374.50" y2="223.20" stroke="#222" stroke-width="1.0"/>
<text x="366.90" y="223.20" font-size="8.60" text-anchor="middle" fill="#111" stroke="#111" stroke-width="0.35">**</text>
<line x1="375.20" y1="213.70" x2="391.40" y2="213.70" stroke="#222" stroke-width="1.0"/>
<text x="383.30" y="213.70" font-size="8.60" text-anchor="middle" fill="#111" stroke="#111" stroke-width="0.35">*</text>
<line x1="376.00" y1="203.10" x2="403.10" y2="203.10" stroke="#222" stroke-width="1.0"/>
<text x="389.55" y="203.10" font-size="8.60" text-anchor="middle" fill="#111" stroke="#111" stroke-width="0.35">**</text>
<text x="360.80" y="291.50" font-size="6.40" text-anchor="middle" fill="#333" stroke="#333" stroke-width="0.05">–</text>
<text x="374.50" y="291.50" font-size="6.40" text-anchor="middle" fill="#333" stroke="#333" stroke-width="0.05">–</text>
<text x="388.30" y="291.50" font-size="6.40" text-anchor="middle" fill="#333" stroke="#333" stroke-width="0.05">Pio</text>
<text x="402.40" y="291.50" font-size="6.40" text-anchor="middle" fill="#333" stroke="#333" stroke-width="0.05">IL-4</text>
<line x1="368.80" y1="295.10" x2="407.70" y2="295.10" stroke="#222" stroke-width="1.0"/>
<text x="388.25" y="302.70" font-size="6.40" text-anchor="middle" fill="#333" stroke="#333" stroke-width="0.05">Heme</text>
<text x="380.80" y="191.10" font-size="8.60" text-anchor="middle" fill="#222" textLength="30.00" lengthAdjust="spacingAndGlyphs" stroke="#222" stroke-width="0.05">Mt Area</text>
<text x="327.91" y="244.00" font-size="7.80" text-anchor="middle" fill="#222" stroke="#222" stroke-width="0.1" textLength="58.50" lengthAdjust="spacingAndGlyphs" transform="rotate(-90 327.91 244.00)">Area (square pixels)</text>
<rect x="456.10" y="236.84" width="11.40" height="43.66" fill="#2fac3e"/>
<rect x="469.20" y="259.02" width="11.70" height="21.48" fill="#cc0a2f"/>
<rect x="483.00" y="241.97" width="11.20" height="38.53" fill="#cc0a2f"/>
<rect x="496.30" y="237.95" width="11.40" height="42.55" fill="#cc0a2f"/>
<line x1="461.80" y1="245.16" x2="461.80" y2="228.53" stroke="#111" stroke-width="0.9"/>
<line x1="459.20" y1="228.53" x2="464.40" y2="228.53" stroke="#111" stroke-width="0.9"/>
<line x1="459.20" y1="245.16" x2="464.40" y2="245.16" stroke="#111" stroke-width="0.9"/>
<line x1="475.05" y1="261.10" x2="475.05" y2="256.94" stroke="#111" stroke-width="0.9"/>
<line x1="472.45" y1="256.94" x2="477.65" y2="256.94" stroke="#111" stroke-width="0.9"/>
<line x1="472.45" y1="261.10" x2="477.65" y2="261.10" stroke="#111" stroke-width="0.9"/>
<line x1="488.60" y1="250.29" x2="488.60" y2="233.65" stroke="#111" stroke-width="0.9"/>
<line x1="486.00" y1="233.65" x2="491.20" y2="233.65" stroke="#111" stroke-width="0.9"/>
<line x1="486.00" y1="250.29" x2="491.20" y2="250.29" stroke="#111" stroke-width="0.9"/>
<line x1="502.00" y1="246.54" x2="502.00" y2="229.22" stroke="#111" stroke-width="0.9"/>
<line x1="499.40" y1="229.22" x2="504.60" y2="229.22" stroke="#111" stroke-width="0.9"/>
<line x1="499.40" y1="246.54" x2="504.60" y2="246.54" stroke="#111" stroke-width="0.9"/>
<circle cx="461.80" cy="222.29" r="1.80" fill="#111"/>
<circle cx="461.80" cy="238.23" r="1.80" fill="#111"/>
<circle cx="461.80" cy="250.29" r="1.80" fill="#111"/>
<circle cx="471.05" cy="255.83" r="1.80" fill="#111"/>
<circle cx="475.05" cy="255.83" r="1.80" fill="#111"/>
<circle cx="479.05" cy="255.83" r="1.80" fill="#111"/>
<circle cx="475.05" cy="267.33" r="1.80" fill="#111"/>
<circle cx="488.60" cy="229.22" r="1.80" fill="#111"/>
<circle cx="488.60" cy="240.31" r="1.80" fill="#111"/>
<circle cx="488.60" cy="257.22" r="1.80" fill="#111"/>
<circle cx="502.00" cy="224.37" r="1.80" fill="#111"/>
<circle cx="502.00" cy="236.15" r="1.80" fill="#111"/>
<circle cx="502.00" cy="253.47" r="1.80" fill="#111"/>
<line x1="449.10" y1="209.00" x2="449.10" y2="281.00" stroke="#111" stroke-width="1.1"/>
<line x1="448.60" y1="280.50" x2="510.50" y2="280.50" stroke="#111" stroke-width="1.1"/>
<line x1="446.30" y1="280.50" x2="449.10" y2="280.50" stroke="#111" stroke-width="0.9"/>
<text x="443.10" y="282.73" font-size="6.20" text-anchor="end" fill="#333" stroke="#333" stroke-width="0.05">0</text>
<line x1="446.30" y1="266.64" x2="449.10" y2="266.64" stroke="#111" stroke-width="0.9"/>
<text x="443.10" y="268.87" font-size="6.20" text-anchor="end" fill="#333" stroke="#333" stroke-width="0.05">100</text>
<line x1="446.30" y1="252.78" x2="449.10" y2="252.78" stroke="#111" stroke-width="0.9"/>
<text x="443.10" y="255.01" font-size="6.20" text-anchor="end" fill="#333" stroke="#333" stroke-width="0.05">200</text>
<line x1="446.30" y1="238.92" x2="449.10" y2="238.92" stroke="#111" stroke-width="0.9"/>
<text x="443.10" y="241.15" font-size="6.20" text-anchor="end" fill="#333" stroke="#333" stroke-width="0.05">300</text>
<line x1="446.30" y1="225.06" x2="449.10" y2="225.06" stroke="#111" stroke-width="0.9"/>
<text x="443.10" y="227.29" font-size="6.20" text-anchor="end" fill="#333" stroke="#333" stroke-width="0.05">400</text>
<line x1="446.30" y1="211.20" x2="449.10" y2="211.20" stroke="#111" stroke-width="0.9"/>
<text x="443.10" y="213.43" font-size="6.20" text-anchor="end" fill="#333" stroke="#333" stroke-width="0.05">500</text>
<line x1="461.80" y1="280.50" x2="461.80" y2="282.90" stroke="#111" stroke-width="0.9"/>
<line x1="475.05" y1="280.50" x2="475.05" y2="282.90" stroke="#111" stroke-width="0.9"/>
<line x1="488.60" y1="280.50" x2="488.60" y2="282.90" stroke="#111" stroke-width="0.9"/>
<line x1="502.00" y1="280.50" x2="502.00" y2="282.90" stroke="#111" stroke-width="0.9"/>
<line x1="460.30" y1="214.30" x2="476.00" y2="214.30" stroke="#222" stroke-width="1.0"/>
<text x="468.15" y="212.56" font-size="6.00" text-anchor="middle" fill="#222" stroke="#222" stroke-width="0.05">0.08</text>
<line x1="473.50" y1="221.30" x2="501.00" y2="221.30" stroke="#222" stroke-width="1.0"/>
<text x="487.25" y="219.56" font-size="6.00" text-anchor="middle" fill="#222" stroke="#222" stroke-width="0.05">0.1</text>
<text x="460.80" y="291.70" font-size="6.40" text-anchor="middle" fill="#333" stroke="#333" stroke-width="0.05">–</text>
<text x="474.50" y="291.70" font-size="6.40" text-anchor="middle" fill="#333" stroke="#333" stroke-width="0.05">–</text>
<text x="488.70" y="291.70" font-size="6.40" text-anchor="middle" fill="#333" stroke="#333" stroke-width="0.05">Pio</text>
<text x="502.40" y="291.70" font-size="6.40" text-anchor="middle" fill="#333" stroke="#333" stroke-width="0.05">IL-4</text>
<line x1="469.20" y1="295.10" x2="508.40" y2="295.10" stroke="#222" stroke-width="1.0"/>
<text x="488.80" y="302.70" font-size="6.40" text-anchor="middle" fill="#333" stroke="#333" stroke-width="0.05">Heme</text>
<text x="480.20" y="191.10" font-size="8.60" text-anchor="middle" fill="#222" textLength="40.00" lengthAdjust="spacingAndGlyphs" stroke="#222" stroke-width="0.05">Mt Number</text>
<text x="428.31" y="244.50" font-size="7.80" text-anchor="middle" fill="#222" stroke="#222" stroke-width="0.1" textLength="66.40" lengthAdjust="spacingAndGlyphs" transform="rotate(-90 428.31 244.50)">Avg Mt number/image</text>
<rect x="176.50" y="360.90" width="13.20" height="51.60" fill="#2fac3e"/>
<rect x="191.30" y="379.99" width="12.70" height="32.51" fill="#cc0a2f"/>
<rect x="206.20" y="358.32" width="12.70" height="54.18" fill="#cc0a2f"/>
<line x1="183.10" y1="364.00" x2="183.10" y2="357.80" stroke="#111" stroke-width="0.9"/>
<line x1="180.50" y1="357.80" x2="185.70" y2="357.80" stroke="#111" stroke-width="0.9"/>
<line x1="180.50" y1="364.00" x2="185.70" y2="364.00" stroke="#111" stroke-width="0.9"/>
<line x1="197.65" y1="382.06" x2="197.65" y2="377.93" stroke="#111" stroke-width="0.9"/>
<line x1="195.05" y1="377.93" x2="200.25" y2="377.93" stroke="#111" stroke-width="0.9"/>
<line x1="195.05" y1="382.06" x2="200.25" y2="382.06" stroke="#111" stroke-width="0.9"/>
<line x1="212.55" y1="361.42" x2="212.55" y2="355.22" stroke="#111" stroke-width="0.9"/>
<line x1="209.95" y1="355.22" x2="215.15" y2="355.22" stroke="#111" stroke-width="0.9"/>
<line x1="209.95" y1="361.42" x2="215.15" y2="361.42" stroke="#111" stroke-width="0.9"/>
<circle cx="183.10" cy="345.94" r="2.00" fill="#111"/>
<circle cx="179.10" cy="357.29" r="2.00" fill="#111"/>
<circle cx="183.10" cy="356.26" r="2.00" fill="#111"/>
<circle cx="187.10" cy="356.77" r="2.00" fill="#111"/>
<circle cx="183.10" cy="361.93" r="2.00" fill="#111"/>
<circle cx="179.10" cy="365.03" r="2.00" fill="#111"/>
<circle cx="187.10" cy="368.12" r="2.00" fill="#111"/>
<circle cx="179.10" cy="371.74" r="2.00" fill="#111"/>
<circle cx="183.60" cy="370.19" r="2.00" fill="#111"/>
<circle cx="193.65" cy="372.25" r="2.00" fill="#111"/>
<circle cx="197.65" cy="373.28" r="2.00" fill="#111"/>
<circle cx="201.65" cy="374.83" r="2.00" fill="#111"/>
<circle cx="193.65" cy="378.44" r="2.00" fill="#111"/>
<circle cx="198.15" cy="380.51" r="2.00" fill="#111"/>
<circle cx="202.15" cy="382.57" r="2.00" fill="#111"/>
<circle cx="197.15" cy="385.67" r="2.00" fill="#111"/>
<circle cx="194.15" cy="381.54" r="2.00" fill="#111"/>
<circle cx="197.65" cy="387.73" r="2.00" fill="#111"/>
<circle cx="212.55" cy="341.29" r="2.00" fill="#111"/>
<circle cx="212.55" cy="350.58" r="2.00" fill="#111"/>
<circle cx="208.55" cy="356.77" r="2.00" fill="#111"/>
<circle cx="216.55" cy="356.77" r="2.00" fill="#111"/>
<circle cx="212.55" cy="360.90" r="2.00" fill="#111"/>
<circle cx="208.55" cy="363.48" r="2.00" fill="#111"/>
<circle cx="216.55" cy="365.03" r="2.00" fill="#111"/>
<circle cx="208.55" cy="369.16" r="2.00" fill="#111"/>
<circle cx="216.55" cy="369.16" r="2.00" fill="#111"/>
<line x1="169.10" y1="333.20" x2="169.10" y2="413.00" stroke="#111" stroke-width="1.1"/>
<line x1="168.60" y1="412.50" x2="219.90" y2="412.50" stroke="#111" stroke-width="1.1"/>
<line x1="166.30" y1="412.50" x2="169.10" y2="412.50" stroke="#111" stroke-width="0.9"/>
<text x="163.10" y="414.73" font-size="6.20" text-anchor="end" fill="#333" stroke="#333" stroke-width="0.05">0</text>
<line x1="166.30" y1="386.70" x2="169.10" y2="386.70" stroke="#111" stroke-width="0.9"/>
<text x="163.10" y="388.93" font-size="6.20" text-anchor="end" fill="#333" stroke="#333" stroke-width="0.05">50</text>
<line x1="166.30" y1="360.90" x2="169.10" y2="360.90" stroke="#111" stroke-width="0.9"/>
<text x="163.10" y="363.13" font-size="6.20" text-anchor="end" fill="#333" stroke="#333" stroke-width="0.05">100</text>
<line x1="166.30" y1="335.10" x2="169.10" y2="335.10" stroke="#111" stroke-width="0.9"/>
<text x="163.10" y="337.33" font-size="6.20" text-anchor="end" fill="#333" stroke="#333" stroke-width="0.05">150</text>
<line x1="183.10" y1="412.50" x2="183.10" y2="414.90" stroke="#111" stroke-width="0.9"/>
<line x1="197.65" y1="412.50" x2="197.65" y2="414.90" stroke="#111" stroke-width="0.9"/>
<line x1="212.55" y1="412.50" x2="212.55" y2="414.90" stroke="#111" stroke-width="0.9"/>
<line x1="184.00" y1="342.30" x2="198.80" y2="342.30" stroke="#222" stroke-width="1.0"/>
<text x="191.40" y="342.30" font-size="8.60" text-anchor="middle" fill="#111" stroke="#111" stroke-width="0.35">***</text>
<line x1="197.70" y1="333.80" x2="212.90" y2="333.80" stroke="#222" stroke-width="1.0"/>
<text x="205.30" y="333.80" font-size="8.60" text-anchor="middle" fill="#111" stroke="#111" stroke-width="0.35">***</text>
<text x="182.90" y="424.60" font-size="6.40" text-anchor="middle" fill="#333" stroke="#333" stroke-width="0.05">–</text>
<text x="197.70" y="424.60" font-size="6.40" text-anchor="middle" fill="#333" stroke="#333" stroke-width="0.05">–</text>
<text x="212.50" y="424.60" font-size="6.40" text-anchor="middle" fill="#333" stroke="#333" stroke-width="0.05">Pio</text>
<line x1="192.40" y1="426.90" x2="218.90" y2="426.90" stroke="#222" stroke-width="1.0"/>
<text x="205.65" y="434.50" font-size="6.40" text-anchor="middle" fill="#333" stroke="#333" stroke-width="0.05">Heme</text>
<text x="195.60" y="320.00" font-size="8.60" text-anchor="middle" fill="#222" textLength="32.00" lengthAdjust="spacingAndGlyphs" stroke="#222" stroke-width="0.05">Mt Mass</text>
<text x="148.81" y="372.40" font-size="7.80" text-anchor="middle" fill="#222" stroke="#222" stroke-width="0.1" textLength="43.00" lengthAdjust="spacingAndGlyphs" transform="rotate(-90 148.81 372.40)">MTG % change</text>
<rect x="267.00" y="359.50" width="13.10" height="52.60" fill="#2fac3e"/>
<rect x="281.80" y="350.03" width="12.70" height="62.07" fill="#cc0a2f"/>
<rect x="296.60" y="362.66" width="12.70" height="49.44" fill="#cc0a2f"/>
<line x1="273.55" y1="363.18" x2="273.55" y2="355.82" stroke="#111" stroke-width="0.9"/>
<line x1="270.95" y1="355.82" x2="276.15" y2="355.82" stroke="#111" stroke-width="0.9"/>
<line x1="270.95" y1="363.18" x2="276.15" y2="363.18" stroke="#111" stroke-width="0.9"/>
<line x1="288.15" y1="353.19" x2="288.15" y2="346.88" stroke="#111" stroke-width="0.9"/>
<line x1="285.55" y1="346.88" x2="290.75" y2="346.88" stroke="#111" stroke-width="0.9"/>
<line x1="285.55" y1="353.19" x2="290.75" y2="353.19" stroke="#111" stroke-width="0.9"/>
<line x1="302.95" y1="364.76" x2="302.95" y2="360.55" stroke="#111" stroke-width="0.9"/>
<line x1="300.35" y1="360.55" x2="305.55" y2="360.55" stroke="#111" stroke-width="0.9"/>
<line x1="300.35" y1="364.76" x2="305.55" y2="364.76" stroke="#111" stroke-width="0.9"/>
<circle cx="273.55" cy="342.14" r="2.00" fill="#111"/>
<circle cx="269.55" cy="347.93" r="2.00" fill="#111"/>
<circle cx="277.55" cy="348.98" r="2.00" fill="#111"/>
<circle cx="273.55" cy="354.24" r="2.00" fill="#111"/>
<circle cx="269.55" cy="359.50" r="2.00" fill="#111"/>
<circle cx="277.55" cy="362.13" r="2.00" fill="#111"/>
<circle cx="273.55" cy="364.76" r="2.00" fill="#111"/>
<circle cx="269.55" cy="367.39" r="2.00" fill="#111"/>
<circle cx="277.55" cy="370.02" r="2.00" fill="#111"/>
<circle cx="273.55" cy="372.65" r="2.00" fill="#111"/>
<circle cx="288.15" cy="338.46" r="2.00" fill="#111"/>
<circle cx="284.15" cy="341.09" r="2.00" fill="#111"/>
<circle cx="292.15" cy="343.72" r="2.00" fill="#111"/>
<circle cx="288.15" cy="345.30" r="2.00" fill="#111"/>
<circle cx="284.15" cy="347.93" r="2.00" fill="#111"/>
<circle cx="292.15" cy="350.03" r="2.00" fill="#111"/>
<circle cx="288.15" cy="351.61" r="2.00" fill="#111"/>
<circle cx="284.15" cy="354.24" r="2.00" fill="#111"/>
<circle cx="292.15" cy="356.87" r="2.00" fill="#111"/>
<circle cx="288.15" cy="359.50" r="2.00" fill="#111"/>
<circle cx="302.95" cy="350.03" r="2.00" fill="#111"/>
<circle cx="298.95" cy="353.19" r="2.00" fill="#111"/>
<circle cx="306.95" cy="356.87" r="2.00" fill="#111"/>
<circle cx="302.95" cy="359.50" r="2.00" fill="#111"/>
<circle cx="298.95" cy="361.08" r="2.00" fill="#111"/>
<circle cx="306.95" cy="362.13" r="2.00" fill="#111"/>
<circle cx="302.95" cy="363.71" r="2.00" fill="#111"/>
<circle cx="298.95" cy="365.81" r="2.00" fill="#111"/>
<circle cx="306.95" cy="367.39" r="2.00" fill="#111"/>
<circle cx="302.95" cy="370.02" r="2.00" fill="#111"/>
<line x1="260.70" y1="331.70" x2="260.70" y2="412.60" stroke="#111" stroke-width="1.1"/>
<line x1="260.20" y1="412.10" x2="310.00" y2="412.10" stroke="#111" stroke-width="1.1"/>
<line x1="257.90" y1="412.10" x2="260.70" y2="412.10" stroke="#111" stroke-width="0.9"/>
<text x="254.70" y="414.33" font-size="6.20" text-anchor="end" fill="#333" stroke="#333" stroke-width="0.05">0</text>
<line x1="257.90" y1="385.80" x2="260.70" y2="385.80" stroke="#111" stroke-width="0.9"/>
<text x="254.70" y="388.03" font-size="6.20" text-anchor="end" fill="#333" stroke="#333" stroke-width="0.05">50</text>
<line x1="257.90" y1="359.50" x2="260.70" y2="359.50" stroke="#111" stroke-width="0.9"/>
<text x="254.70" y="361.73" font-size="6.20" text-anchor="end" fill="#333" stroke="#333" stroke-width="0.05">100</text>
<line x1="257.90" y1="333.20" x2="260.70" y2="333.20" stroke="#111" stroke-width="0.9"/>
<text x="254.70" y="335.43" font-size="6.20" text-anchor="end" fill="#333" stroke="#333" stroke-width="0.05">150</text>
<line x1="273.55" y1="412.10" x2="273.55" y2="414.50" stroke="#111" stroke-width="0.9"/>
<line x1="288.15" y1="412.10" x2="288.15" y2="414.50" stroke="#111" stroke-width="0.9"/>
<line x1="302.95" y1="412.10" x2="302.95" y2="414.50" stroke="#111" stroke-width="0.9"/>
<line x1="270.20" y1="333.20" x2="286.70" y2="333.20" stroke="#222" stroke-width="1.0"/>
<text x="278.45" y="333.20" font-size="8.60" text-anchor="middle" fill="#111" stroke="#111" stroke-width="0.35">*</text>
<line x1="291.30" y1="329.60" x2="306.20" y2="329.60" stroke="#222" stroke-width="1.0"/>
<text x="298.75" y="329.60" font-size="8.60" text-anchor="middle" fill="#111" stroke="#111" stroke-width="0.35">**</text>
<text x="273.40" y="424.60" font-size="6.40" text-anchor="middle" fill="#333" stroke="#333" stroke-width="0.05">–</text>
<text x="288.20" y="424.60" font-size="6.40" text-anchor="middle" fill="#333" stroke="#333" stroke-width="0.05">–</text>
<text x="303.00" y="424.60" font-size="6.40" text-anchor="middle" fill="#333" stroke="#333" stroke-width="0.05">Pio</text>
<line x1="282.90" y1="426.90" x2="309.30" y2="426.90" stroke="#222" stroke-width="1.0"/>
<text x="296.10" y="434.50" font-size="6.40" text-anchor="middle" fill="#333" stroke="#333" stroke-width="0.05">Heme</text>
<text x="286.70" y="320.40" font-size="8.60" text-anchor="middle" fill="#222" textLength="25.00" lengthAdjust="spacingAndGlyphs" stroke="#222" stroke-width="0.05">Mt MP</text>
<text x="238.71" y="371.30" font-size="7.80" text-anchor="middle" fill="#222" stroke="#222" stroke-width="0.1" textLength="71.00" lengthAdjust="spacingAndGlyphs" transform="rotate(-90 238.71 371.30)">TMRM/MTG (% change)</text>
<rect x="354.80" y="380.50" width="13.10" height="31.60" fill="#2fac3e"/>
<rect x="369.60" y="359.33" width="13.10" height="52.77" fill="#cc0a2f"/>
<rect x="384.80" y="378.92" width="12.70" height="33.18" fill="#cc0a2f"/>
<line x1="361.35" y1="382.08" x2="361.35" y2="378.92" stroke="#111" stroke-width="0.9"/>
<line x1="358.75" y1="378.92" x2="363.95" y2="378.92" stroke="#111" stroke-width="0.9"/>
<line x1="358.75" y1="382.08" x2="363.95" y2="382.08" stroke="#111" stroke-width="0.9"/>
<line x1="376.15" y1="362.49" x2="376.15" y2="356.17" stroke="#111" stroke-width="0.9"/>
<line x1="373.55" y1="356.17" x2="378.75" y2="356.17" stroke="#111" stroke-width="0.9"/>
<line x1="373.55" y1="362.49" x2="378.75" y2="362.49" stroke="#111" stroke-width="0.9"/>
<line x1="391.15" y1="382.08" x2="391.15" y2="375.76" stroke="#111" stroke-width="0.9"/>
<line x1="388.55" y1="375.76" x2="393.75" y2="375.76" stroke="#111" stroke-width="0.9"/>
<line x1="388.55" y1="382.08" x2="393.75" y2="382.08" stroke="#111" stroke-width="0.9"/>
<circle cx="361.35" cy="372.60" r="2.00" fill="#111"/>
<circle cx="357.35" cy="374.18" r="2.00" fill="#111"/>
<circle cx="365.35" cy="375.76" r="2.00" fill="#111"/>
<circle cx="361.35" cy="377.34" r="2.00" fill="#111"/>
<circle cx="357.35" cy="380.50" r="2.00" fill="#111"/>
<circle cx="365.35" cy="382.08" r="2.00" fill="#111"/>
<circle cx="361.35" cy="383.66" r="2.00" fill="#111"/>
<circle cx="357.35" cy="385.24" r="2.00" fill="#111"/>
<circle cx="365.35" cy="386.19" r="2.00" fill="#111"/>
<circle cx="372.15" cy="347.32" r="2.00" fill="#111"/>
<circle cx="376.15" cy="348.90" r="2.00" fill="#111"/>
<circle cx="380.15" cy="349.85" r="2.00" fill="#111"/>
<circle cx="376.15" cy="353.64" r="2.00" fill="#111"/>
<circle cx="372.15" cy="358.38" r="2.00" fill="#111"/>
<circle cx="380.15" cy="361.54" r="2.00" fill="#111"/>
<circle cx="376.15" cy="366.28" r="2.00" fill="#111"/>
<circle cx="372.15" cy="371.02" r="2.00" fill="#111"/>
<circle cx="380.15" cy="373.55" r="2.00" fill="#111"/>
<circle cx="391.15" cy="366.28" r="2.00" fill="#111"/>
<circle cx="387.15" cy="374.18" r="2.00" fill="#111"/>
<circle cx="395.15" cy="372.60" r="2.00" fill="#111"/>
<circle cx="391.15" cy="377.34" r="2.00" fill="#111"/>
<circle cx="387.15" cy="380.50" r="2.00" fill="#111"/>
<circle cx="395.15" cy="383.66" r="2.00" fill="#111"/>
<circle cx="391.15" cy="385.24" r="2.00" fill="#111"/>
<circle cx="387.15" cy="388.40" r="2.00" fill="#111"/>
<circle cx="395.15" cy="387.45" r="2.00" fill="#111"/>
<line x1="348.80" y1="332.20" x2="348.80" y2="412.60" stroke="#111" stroke-width="1.1"/>
<line x1="348.30" y1="412.10" x2="398.10" y2="412.10" stroke="#111" stroke-width="1.1"/>
<line x1="346.00" y1="412.10" x2="348.80" y2="412.10" stroke="#111" stroke-width="0.9"/>
<text x="342.80" y="414.33" font-size="6.20" text-anchor="end" fill="#333" stroke="#333" stroke-width="0.05">0.0</text>
<line x1="346.00" y1="396.30" x2="348.80" y2="396.30" stroke="#111" stroke-width="0.9"/>
<text x="342.80" y="398.53" font-size="6.20" text-anchor="end" fill="#333" stroke="#333" stroke-width="0.05">0.5</text>
<line x1="346.00" y1="380.50" x2="348.80" y2="380.50" stroke="#111" stroke-width="0.9"/>
<text x="342.80" y="382.73" font-size="6.20" text-anchor="end" fill="#333" stroke="#333" stroke-width="0.05">1.0</text>
<line x1="346.00" y1="364.70" x2="348.80" y2="364.70" stroke="#111" stroke-width="0.9"/>
<text x="342.80" y="366.93" font-size="6.20" text-anchor="end" fill="#333" stroke="#333" stroke-width="0.05">1.5</text>
<line x1="346.00" y1="348.90" x2="348.80" y2="348.90" stroke="#111" stroke-width="0.9"/>
<text x="342.80" y="351.13" font-size="6.20" text-anchor="end" fill="#333" stroke="#333" stroke-width="0.05">2.0</text>
<line x1="346.00" y1="333.10" x2="348.80" y2="333.10" stroke="#111" stroke-width="0.9"/>
<text x="342.80" y="335.33" font-size="6.20" text-anchor="end" fill="#333" stroke="#333" stroke-width="0.05">2.5</text>
<line x1="361.35" y1="412.10" x2="361.35" y2="414.50" stroke="#111" stroke-width="0.9"/>
<line x1="376.15" y1="412.10" x2="376.15" y2="414.50" stroke="#111" stroke-width="0.9"/>
<line x1="391.15" y1="412.10" x2="391.15" y2="414.50" stroke="#111" stroke-width="0.9"/>
<line x1="361.10" y1="344.00" x2="376.30" y2="344.00" stroke="#222" stroke-width="1.0"/>
<text x="368.70" y="344.00" font-size="8.60" text-anchor="middle" fill="#111" stroke="#111" stroke-width="0.35">****</text>
<line x1="375.90" y1="333.20" x2="391.20" y2="333.20" stroke="#222" stroke-width="1.0"/>
<text x="383.55" y="333.20" font-size="8.60" text-anchor="middle" fill="#111" stroke="#111" stroke-width="0.35">***</text>
<text x="361.10" y="424.60" font-size="6.40" text-anchor="middle" fill="#333" stroke="#333" stroke-width="0.05">–</text>
<text x="375.90" y="424.60" font-size="6.40" text-anchor="middle" fill="#333" stroke="#333" stroke-width="0.05">–</text>
<text x="391.20" y="424.60" font-size="6.40" text-anchor="middle" fill="#333" stroke="#333" stroke-width="0.05">Pio</text>
<line x1="371.00" y1="426.90" x2="396.40" y2="426.90" stroke="#222" stroke-width="1.0"/>
<text x="383.70" y="434.50" font-size="6.40" text-anchor="middle" fill="#333" stroke="#333" stroke-width="0.05">Heme</text>
<text x="374.70" y="320.40" font-size="8.60" text-anchor="middle" fill="#222" textLength="28.00" lengthAdjust="spacingAndGlyphs" stroke="#222" stroke-width="0.05">Mt ROS</text>
<text x="328.61" y="369.20" font-size="7.80" text-anchor="middle" fill="#222" stroke="#222" stroke-width="0.1" textLength="76.00" lengthAdjust="spacingAndGlyphs" transform="rotate(-90 328.61 369.20)">Mitosox/MTG (fold change)</text>
<rect x="444.80" y="387.21" width="13.10" height="24.89" fill="#2fac3e"/>
<rect x="459.60" y="357.60" width="12.70" height="54.50" fill="#cc0a2f"/>
<rect x="474.20" y="381.97" width="12.90" height="30.13" fill="#cc0a2f"/>
<line x1="451.35" y1="389.04" x2="451.35" y2="384.59" stroke="#111" stroke-width="0.9"/>
<line x1="448.75" y1="384.59" x2="453.95" y2="384.59" stroke="#111" stroke-width="0.9"/>
<line x1="448.75" y1="389.04" x2="453.95" y2="389.04" stroke="#111" stroke-width="0.9"/>
<line x1="465.95" y1="363.63" x2="465.95" y2="351.84" stroke="#111" stroke-width="0.9"/>
<line x1="463.35" y1="351.84" x2="468.55" y2="351.84" stroke="#111" stroke-width="0.9"/>
<line x1="463.35" y1="363.63" x2="468.55" y2="363.63" stroke="#111" stroke-width="0.9"/>
<line x1="480.65" y1="384.59" x2="480.65" y2="378.04" stroke="#111" stroke-width="0.9"/>
<line x1="478.05" y1="378.04" x2="483.25" y2="378.04" stroke="#111" stroke-width="0.9"/>
<line x1="478.05" y1="384.59" x2="483.25" y2="384.59" stroke="#111" stroke-width="0.9"/>
<circle cx="451.35" cy="376.73" r="2.00" fill="#111"/>
<circle cx="447.35" cy="380.66" r="2.00" fill="#111"/>
<circle cx="455.35" cy="383.28" r="2.00" fill="#111"/>
<circle cx="451.35" cy="384.59" r="2.00" fill="#111"/>
<circle cx="447.35" cy="385.90" r="2.00" fill="#111"/>
<circle cx="455.35" cy="387.21" r="2.00" fill="#111"/>
<circle cx="451.35" cy="388.52" r="2.00" fill="#111"/>
<circle cx="447.35" cy="389.83" r="2.00" fill="#111"/>
<circle cx="455.35" cy="391.14" r="2.00" fill="#111"/>
<circle cx="461.95" cy="336.12" r="2.00" fill="#111"/>
<circle cx="469.95" cy="336.12" r="2.00" fill="#111"/>
<circle cx="465.95" cy="346.60" r="2.00" fill="#111"/>
<circle cx="469.95" cy="357.08" r="2.00" fill="#111"/>
<circle cx="461.95" cy="359.70" r="2.00" fill="#111"/>
<circle cx="469.95" cy="372.80" r="2.00" fill="#111"/>
<circle cx="463.95" cy="366.25" r="2.00" fill="#111"/>
<circle cx="465.95" cy="380.66" r="2.00" fill="#111"/>
<circle cx="480.65" cy="364.94" r="2.00" fill="#111"/>
<circle cx="480.65" cy="376.73" r="2.00" fill="#111"/>
<circle cx="476.65" cy="381.97" r="2.00" fill="#111"/>
<circle cx="484.65" cy="383.28" r="2.00" fill="#111"/>
<circle cx="476.65" cy="384.59" r="2.00" fill="#111"/>
<circle cx="480.65" cy="385.90" r="2.00" fill="#111"/>
<circle cx="484.65" cy="387.21" r="2.00" fill="#111"/>
<line x1="438.40" y1="331.70" x2="438.40" y2="412.60" stroke="#111" stroke-width="1.1"/>
<line x1="437.90" y1="412.10" x2="487.90" y2="412.10" stroke="#111" stroke-width="1.1"/>
<line x1="435.60" y1="412.10" x2="438.40" y2="412.10" stroke="#111" stroke-width="0.9"/>
<text x="432.40" y="414.33" font-size="6.20" text-anchor="end" fill="#333" stroke="#333" stroke-width="0.05">0</text>
<line x1="435.60" y1="385.90" x2="438.40" y2="385.90" stroke="#111" stroke-width="0.9"/>
<text x="432.40" y="388.13" font-size="6.20" text-anchor="end" fill="#333" stroke="#333" stroke-width="0.05">100</text>
<line x1="435.60" y1="359.70" x2="438.40" y2="359.70" stroke="#111" stroke-width="0.9"/>
<text x="432.40" y="361.93" font-size="6.20" text-anchor="end" fill="#333" stroke="#333" stroke-width="0.05">200</text>
<line x1="435.60" y1="333.50" x2="438.40" y2="333.50" stroke="#111" stroke-width="0.9"/>
<text x="432.40" y="335.73" font-size="6.20" text-anchor="end" fill="#333" stroke="#333" stroke-width="0.05">300</text>
<line x1="451.35" y1="412.10" x2="451.35" y2="414.50" stroke="#111" stroke-width="0.9"/>
<line x1="465.95" y1="412.10" x2="465.95" y2="414.50" stroke="#111" stroke-width="0.9"/>
<line x1="480.65" y1="412.10" x2="480.65" y2="414.50" stroke="#111" stroke-width="0.9"/>
<line x1="449.40" y1="333.20" x2="465.30" y2="333.20" stroke="#222" stroke-width="1.0"/>
<text x="457.35" y="333.20" font-size="8.60" text-anchor="middle" fill="#111" stroke="#111" stroke-width="0.35">***</text>
<line x1="471.00" y1="329.60" x2="486.00" y2="329.60" stroke="#222" stroke-width="1.0"/>
<text x="478.50" y="329.60" font-size="8.60" text-anchor="middle" fill="#111" stroke="#111" stroke-width="0.35">***</text>
<text x="451.10" y="424.60" font-size="6.40" text-anchor="middle" fill="#333" stroke="#333" stroke-width="0.05">–</text>
<text x="466.30" y="424.60" font-size="6.40" text-anchor="middle" fill="#333" stroke="#333" stroke-width="0.05">–</text>
<text x="481.20" y="424.60" font-size="6.40" text-anchor="middle" fill="#333" stroke="#333" stroke-width="0.05">Pio</text>
<line x1="461.00" y1="426.90" x2="487.10" y2="426.90" stroke="#222" stroke-width="1.0"/>
<text x="474.05" y="434.50" font-size="6.40" text-anchor="middle" fill="#333" stroke="#333" stroke-width="0.05">Heme</text>
<text x="464.20" y="320.40" font-size="8.60" text-anchor="middle" fill="#222" textLength="42.00" lengthAdjust="spacingAndGlyphs" stroke="#222" stroke-width="0.05">Mt Calcium</text>
<text x="417.21" y="371.00" font-size="7.80" text-anchor="middle" fill="#222" stroke="#222" stroke-width="0.1" textLength="67.50" lengthAdjust="spacingAndGlyphs" transform="rotate(-90 417.21 371.00)">Rhod/MTG (% change)</text>
<line x1="21.00" y1="433.80" x2="21.00" y2="328.50" stroke="#111" stroke-width="0.9"/>
<path d="M21,325.3 L19.5,329.5 L22.5,329.5 Z" fill="#111"/>
<line x1="20.50" y1="433.80" x2="129.50" y2="433.80" stroke="#111" stroke-width="0.9"/>
<path d="M132.5,433.8 L128.5,432.3 L128.5,435.3 Z" fill="#111"/>
<path d="M28.00,426.60 L28.00,426.60 L28.25,426.60 L28.50,426.60 L28.75,426.60 L29.00,426.60 L29.25,426.60 L29.50,426.60 L29.75,426.60 L30.00,426.60 L30.25,426.60 L30.50,426.60 L30.75,426.60 L31.00,426.60 L31.25,426.60 L31.50,426.60 L31.75,426.60 L32.00,426.60 L32.25,426.60 L32.50,426.60 L32.75,426.60 L33.00,426.60 L33.25,426.60 L33.50,426.60 L33.75,426.60 L34.00,426.60 L34.25,426.60 L34.50,426.60 L34.75,426.60 L35.00,426.60 L35.25,426.60 L35.50,426.60 L35.75,426.60 L36.00,426.60 L36.25,426.60 L36.50,426.60 L36.75,426.60 L37.00,426.60 L37.25,426.60 L37.50,426.60 L37.75,426.60 L38.00,426.60 L38.25,426.55 L38.50,426.50 L38.75,426.45 L39.00,426.40 L39.25,426.35 L39.50,426.30 L39.75,426.25 L40.00,426.20 L40.25,426.15 L40.50,426.10 L40.75,426.05 L41.00,426.00 L41.25,425.95 L41.50,425.90 L41.75,425.85 L42.00,425.80 L42.25,425.75 L42.50,425.70 L42.75,425.65 L43.00,425.60 L43.25,425.55 L43.50,425.50 L43.75,425.45 L44.00,425.40 L44.25,425.35 L44.50,425.30 L44.75,425.25 L45.00,425.20 L45.25,425.15 L45.50,425.10 L45.75,425.05 L46.00,425.00 L46.25,424.91 L46.50,424.81 L46.75,424.72 L47.00,424.62 L47.25,424.53 L47.50,424.44 L47.75,424.34 L48.00,424.25 L48.25,424.16 L48.50,424.06 L48.75,423.97 L49.00,423.88 L49.25,423.78 L49.50,423.69 L49.75,423.59 L50.00,423.50 L50.25,423.38 L50.50,423.25 L50.75,423.12 L51.00,423.00 L51.25,422.88 L51.50,422.75 L51.75,422.62 L52.00,422.50 L52.25,422.38 L52.50,422.25 L52.75,422.12 L53.00,422.00 L53.25,421.88 L53.50,421.75 L53.75,421.62 L54.00,421.50 L54.25,421.62 L54.50,421.75 L54.75,421.88 L55.00,422.00 L55.25,422.12 L55.50,422.25 L55.75,422.38 L56.00,422.50 L56.25,422.62 L56.50,422.75 L56.75,422.88 L57.00,423.00 L57.25,423.05 L57.50,423.10 L57.75,423.15 L58.00,423.20 L58.25,423.25 L58.50,423.30 L58.75,423.35 L59.00,423.40 L59.25,423.45 L59.50,423.50 L59.75,423.55 L60.00,423.60 L60.25,423.65 L60.50,423.70 L60.75,423.75 L61.00,423.80 L61.25,423.85 L61.50,423.90 L61.75,423.95 L62.00,424.00 L62.25,423.81 L62.50,423.62 L62.75,423.44 L63.00,423.25 L63.25,423.06 L63.50,422.88 L63.75,422.69 L64.00,422.50 L64.25,422.31 L64.50,422.12 L64.75,421.94 L65.00,421.75 L65.25,421.56 L65.50,421.38 L65.75,421.19 L66.00,421.00 L66.25,420.58 L66.50,420.17 L66.75,419.75 L67.00,419.33 L67.25,418.92 L67.50,418.50 L67.75,418.08 L68.00,417.67 L68.25,417.25 L68.50,416.83 L68.75,416.42 L69.00,416.00 L69.25,415.50 L69.50,415.00 L69.75,414.50 L70.00,414.00 L70.25,413.50 L70.50,413.00 L70.75,412.50 L71.00,412.00 L71.25,411.00 L71.50,410.00 L71.75,409.00 L72.00,408.00 L72.25,407.00 L72.50,406.00 L72.75,405.00 L73.00,404.00 L73.25,402.75 L73.50,401.50 L73.75,400.25 L74.00,399.00 L74.25,397.75 L74.50,396.50 L74.75,395.25 L75.00,394.00 L75.25,392.75 L75.50,391.50 L75.75,390.25 L76.00,389.00 L76.25,386.67 L76.50,384.33 L76.75,382.00 L77.00,379.67 L77.25,377.33 L77.50,375.00 L77.75,372.05 L78.00,369.09 L78.25,366.14 L78.50,363.18 L78.75,360.55 L79.00,358.14 L79.25,355.73 L79.50,353.32 L79.75,350.91 L80.00,348.50 L80.25,347.75 L80.50,347.00 L80.75,346.25 L81.00,345.50 L81.25,344.75 L81.50,344.00 L81.75,343.90 L82.00,343.79 L82.25,343.69 L82.50,343.58 L82.75,343.59 L83.00,344.06 L83.25,344.53 L83.50,345.00 L83.75,346.75 L84.00,348.50 L84.25,353.32 L84.50,358.14 L84.75,363.12 L85.00,368.75 L85.25,374.38 L85.50,380.00 L85.75,385.00 L86.00,390.00 L86.25,395.00 L86.50,400.00 L86.75,404.50 L87.00,409.00 L87.25,413.50 L87.50,418.00 L87.75,420.15 L88.00,422.30 L88.25,424.45 L88.50,426.60 L88.75,426.60 L89.00,426.60 L89.25,426.60 L89.50,426.60 L89.75,426.60 L90.00,426.60 L90.25,426.60 L90.50,426.60 L90.75,426.60 L91.00,426.60 L91.25,426.60 L91.50,426.60 L91.75,426.60 L92.00,426.60 L92.25,426.60 L92.50,426.60 L92.75,426.60 L93.00,426.60 L93.25,426.60 L93.50,426.60 L93.75,426.60 L94.00,426.60 L94.25,426.60 L94.50,426.60 L94.75,426.60 L95.00,426.60 L95.25,426.60 L95.50,426.60 L95.75,426.60 L96.00,426.60 L96.25,426.60 L96.50,426.60 L96.75,426.60 L97.00,426.60 L97.25,426.60 L97.50,426.60 L97.75,426.60 L98.00,426.60 L98.25,426.60 L98.50,426.60 L98.75,426.60 L99.00,426.60 L99.25,426.60 L99.50,426.60 L99.75,426.60 L100.00,426.60 L100.25,426.60 L100.50,426.60 L100.75,426.60 L101.00,426.60 L101.25,426.60 L101.50,426.60 L101.75,426.60 L102.00,426.60 L102.25,426.60 L102.50,426.60 L102.75,426.60 L103.00,426.60 L103.25,426.60 L103.50,426.60 L103.75,426.60 L104.00,426.60 L104.25,426.60 L104.50,426.60 L104.75,426.60 L105.00,426.60 L105.25,426.60 L105.50,426.60 L105.75,426.60 L106.00,426.60 L106.25,426.60 L106.50,426.60 L106.75,426.60 L107.00,426.60 L107.25,426.60 L107.50,426.60 L107.75,426.60 L107.75,426.60 Z" fill="#e2604c"/>
<path d="M28.00,426.60 L28.00,426.60 L28.25,426.60 L28.50,426.60 L28.75,426.60 L29.00,426.60 L29.25,426.60 L29.50,426.60 L29.75,426.60 L30.00,426.60 L30.25,426.60 L30.50,426.60 L30.75,426.60 L31.00,426.60 L31.25,426.60 L31.50,426.60 L31.75,426.60 L32.00,426.60 L32.25,426.60 L32.50,426.60 L32.75,426.60 L33.00,426.60 L33.25,426.60 L33.50,426.60 L33.75,426.60 L34.00,426.60 L34.25,426.60 L34.50,426.60 L34.75,426.60 L35.00,426.60 L35.25,426.60 L35.50,426.60 L35.75,426.60 L36.00,426.60 L36.25,426.60 L36.50,426.60 L36.75,426.60 L37.00,426.60 L37.25,426.60 L37.50,426.60 L37.75,426.60 L38.00,426.60 L38.25,426.53 L38.50,426.47 L38.75,426.40 L39.00,426.34 L39.25,426.27 L39.50,426.21 L39.75,426.14 L40.00,426.08 L40.25,426.01 L40.50,425.94 L40.75,425.88 L41.00,425.81 L41.25,425.75 L41.50,425.68 L41.75,425.62 L42.00,425.55 L42.25,425.48 L42.50,425.42 L42.75,425.35 L43.00,425.29 L43.25,425.22 L43.50,425.16 L43.75,425.09 L44.00,425.02 L44.25,424.96 L44.50,424.89 L44.75,424.83 L45.00,424.76 L45.25,424.70 L45.50,424.63 L45.75,424.57 L46.00,424.50 L46.25,424.34 L46.50,424.19 L46.75,424.03 L47.00,423.88 L47.25,423.72 L47.50,423.56 L47.75,423.41 L48.00,423.25 L48.25,423.09 L48.50,422.94 L48.75,422.78 L49.00,422.62 L49.25,422.47 L49.50,422.31 L49.75,422.16 L50.00,422.00 L50.25,421.88 L50.50,421.75 L50.75,421.62 L51.00,421.50 L51.25,421.38 L51.50,421.25 L51.75,421.12 L52.00,421.00 L52.25,420.88 L52.50,420.75 L52.75,420.62 L53.00,420.50 L53.25,420.67 L53.50,420.83 L53.75,421.00 L54.00,421.17 L54.25,421.33 L54.50,421.50 L54.75,421.67 L55.00,421.83 L55.25,422.00 L55.50,422.17 L55.75,422.33 L56.00,422.50 L56.25,422.59 L56.50,422.69 L56.75,422.78 L57.00,422.88 L57.25,422.97 L57.50,423.06 L57.75,423.16 L58.00,423.25 L58.25,423.34 L58.50,423.44 L58.75,423.53 L59.00,423.62 L59.25,423.72 L59.50,423.81 L59.75,423.91 L60.00,424.00 L60.25,423.96 L60.50,423.92 L60.75,423.88 L61.00,423.83 L61.25,423.79 L61.50,423.75 L61.75,423.71 L62.00,423.67 L62.25,423.62 L62.50,423.58 L62.75,423.54 L63.00,423.50 L63.25,423.46 L63.50,423.42 L63.75,423.38 L64.00,423.33 L64.25,423.29 L64.50,423.25 L64.75,423.21 L65.00,423.17 L65.25,423.12 L65.50,423.08 L65.75,423.04 L66.00,423.00 L66.25,422.81 L66.50,422.62 L66.75,422.44 L67.00,422.25 L67.25,422.06 L67.50,421.88 L67.75,421.69 L68.00,421.50 L68.25,421.31 L68.50,421.12 L68.75,420.94 L69.00,420.75 L69.25,420.56 L69.50,420.38 L69.75,420.19 L70.00,420.00 L70.25,419.56 L70.50,419.12 L70.75,418.69 L71.00,418.25 L71.25,417.81 L71.50,417.38 L71.75,416.94 L72.00,416.50 L72.25,416.06 L72.50,415.62 L72.75,415.19 L73.00,414.75 L73.25,414.31 L73.50,413.88 L73.75,413.44 L74.00,413.00 L74.25,412.25 L74.50,411.50 L74.75,410.75 L75.00,410.00 L75.25,409.25 L75.50,408.50 L75.75,407.75 L76.00,407.00 L76.25,406.25 L76.50,405.50 L76.75,404.75 L77.00,403.96 L77.25,402.97 L77.50,401.98 L77.75,400.99 L78.00,400.00 L78.25,398.75 L78.50,397.50 L78.75,396.25 L79.00,395.00 L79.25,393.75 L79.50,392.50 L79.75,391.25 L80.00,390.00 L80.25,389.04 L80.50,388.07 L80.75,387.11 L81.00,386.15 L81.25,385.19 L81.50,384.23 L81.75,383.26 L82.00,382.30 L82.25,381.20 L82.50,380.00 L82.75,379.00 L83.00,378.00 L83.25,377.00 L83.50,376.00 L83.75,375.00 L84.00,374.00 L84.25,373.00 L84.50,372.00 L84.75,371.00 L85.00,370.00 L85.25,369.12 L85.50,368.25 L85.75,367.38 L86.00,366.43 L86.25,365.48 L86.50,364.54 L86.75,363.59 L87.00,363.00 L87.25,362.62 L87.50,362.25 L87.75,361.88 L88.00,361.50 L88.25,361.12 L88.50,360.75 L88.75,360.38 L89.00,360.00 L89.25,359.27 L89.50,358.54 L89.75,357.81 L90.00,357.08 L90.25,356.72 L90.50,357.81 L90.75,358.91 L91.00,360.00 L91.25,361.00 L91.50,362.00 L91.75,363.00 L92.00,364.00 L92.25,365.00 L92.50,366.00 L92.75,366.88 L93.00,367.76 L93.25,368.65 L93.50,369.53 L93.75,370.41 L94.00,371.29 L94.25,372.30 L94.50,373.83 L94.75,375.35 L95.00,376.87 L95.25,378.39 L95.50,379.91 L95.75,381.43 L96.00,382.96 L96.25,384.48 L96.50,386.00 L96.75,387.75 L97.00,389.50 L97.25,391.07 L97.50,392.56 L97.75,394.04 L98.00,395.52 L98.25,397.00 L98.50,398.48 L98.75,399.96 L99.00,401.44 L99.25,402.93 L99.50,404.41 L99.75,405.77 L100.00,407.04 L100.25,408.32 L100.50,409.60 L100.75,410.88 L101.00,412.16 L101.25,413.43 L101.50,414.71 L101.75,415.99 L102.00,417.27 L102.25,418.54 L102.50,419.38 L102.75,420.10 L103.00,420.82 L103.25,421.54 L103.50,422.27 L103.75,422.99 L104.00,423.71 L104.25,424.43 L104.50,425.16 L104.75,425.88 L105.00,426.60 L105.25,426.60 L105.50,426.60 L105.75,426.60 L106.00,426.60 L106.25,426.60 L106.50,426.60 L106.75,426.60 L107.00,426.60 L107.25,426.60 L107.50,426.60 L107.75,426.60 L107.75,426.60 Z" fill="#3f8f6a"/>
<path d="M28.00,426.60 L28.00,426.60 L28.25,426.60 L28.50,426.60 L28.75,426.60 L29.00,426.60 L29.25,426.60 L29.50,426.60 L29.75,426.60 L30.00,426.60 L30.25,426.60 L30.50,426.60 L30.75,426.60 L31.00,426.60 L31.25,426.60 L31.50,426.60 L31.75,426.60 L32.00,426.60 L32.25,426.60 L32.50,426.60 L32.75,426.60 L33.00,426.60 L33.25,426.60 L33.50,426.60 L33.75,426.60 L34.00,426.60 L34.25,426.60 L34.50,426.60 L34.75,426.60 L35.00,426.60 L35.25,426.60 L35.50,426.60 L35.75,426.60 L36.00,426.60 L36.25,426.60 L36.50,426.60 L36.75,426.60 L37.00,426.60 L37.25,426.60 L37.50,426.60 L37.75,426.60 L38.00,426.60 L38.25,426.59 L38.50,426.59 L38.75,426.58 L39.00,426.57 L39.25,426.57 L39.50,426.56 L39.75,426.55 L40.00,426.55 L40.25,426.54 L40.50,426.53 L40.75,426.53 L41.00,426.52 L41.25,426.51 L41.50,426.50 L41.75,426.50 L42.00,426.49 L42.25,426.48 L42.50,426.48 L42.75,426.47 L43.00,426.46 L43.25,426.46 L43.50,426.45 L43.75,426.44 L44.00,426.44 L44.25,426.43 L44.50,426.42 L44.75,426.42 L45.00,426.41 L45.25,426.40 L45.50,426.40 L45.75,426.39 L46.00,426.38 L46.25,426.38 L46.50,426.37 L46.75,426.36 L47.00,426.35 L47.25,426.35 L47.50,426.34 L47.75,426.33 L48.00,426.33 L48.25,426.32 L48.50,426.31 L48.75,426.31 L49.00,426.30 L49.25,426.29 L49.50,426.29 L49.75,426.28 L50.00,426.27 L50.25,426.27 L50.50,426.26 L50.75,426.25 L51.00,426.25 L51.25,426.24 L51.50,426.23 L51.75,426.23 L52.00,426.22 L52.25,426.21 L52.50,426.20 L52.75,426.20 L53.00,426.19 L53.25,426.18 L53.50,426.18 L53.75,426.17 L54.00,426.16 L54.25,426.16 L54.50,426.15 L54.75,426.14 L55.00,426.14 L55.25,426.13 L55.50,426.12 L55.75,426.12 L56.00,426.11 L56.25,426.10 L56.50,426.10 L56.75,426.09 L57.00,426.08 L57.25,426.07 L57.50,426.07 L57.75,426.06 L58.00,426.05 L58.25,426.05 L58.50,426.04 L58.75,426.03 L59.00,426.03 L59.25,426.02 L59.50,426.01 L59.75,426.01 L60.00,426.00 L60.25,425.94 L60.50,425.88 L60.75,425.81 L61.00,425.75 L61.25,425.69 L61.50,425.62 L61.75,425.56 L62.00,425.50 L62.25,425.44 L62.50,425.38 L62.75,425.31 L63.00,425.25 L63.25,425.19 L63.50,425.12 L63.75,425.06 L64.00,425.00 L64.25,424.94 L64.50,424.88 L64.75,424.81 L65.00,424.75 L65.25,424.69 L65.50,424.62 L65.75,424.56 L66.00,424.50 L66.25,424.44 L66.50,424.38 L66.75,424.31 L67.00,424.25 L67.25,424.19 L67.50,424.12 L67.75,424.06 L68.00,424.00 L68.25,423.69 L68.50,423.38 L68.75,423.06 L69.00,422.75 L69.25,422.44 L69.50,422.12 L69.75,421.81 L70.00,421.50 L70.25,421.19 L70.50,420.88 L70.75,420.56 L71.00,420.25 L71.25,419.94 L71.50,419.62 L71.75,419.31 L72.00,419.00 L72.25,418.37 L72.50,417.74 L72.75,417.11 L73.00,416.48 L73.25,415.86 L73.50,415.23 L73.75,414.60 L74.00,413.97 L74.25,413.34 L74.50,412.71 L74.75,412.08 L75.00,411.45 L75.25,410.83 L75.50,409.91 L75.75,408.92 L76.00,407.93 L76.25,406.94 L76.50,405.94 L76.75,404.95 L77.00,403.96 L77.25,402.97 L77.50,401.98 L77.75,400.99 L78.00,400.00 L78.25,398.75 L78.50,397.50 L78.75,396.25 L79.00,395.00 L79.25,393.75 L79.50,392.50 L79.75,391.25 L80.00,390.00 L80.25,389.04 L80.50,388.07 L80.75,387.11 L81.00,386.15 L81.25,385.19 L81.50,384.23 L81.75,383.26 L82.00,382.30 L82.25,381.26 L82.50,380.23 L82.75,379.19 L83.00,378.15 L83.25,377.11 L83.50,376.07 L83.75,375.04 L84.00,374.00 L84.25,373.05 L84.50,372.11 L84.75,371.16 L85.00,370.21 L85.25,369.27 L85.50,368.32 L85.75,367.38 L86.00,366.43 L86.25,365.48 L86.50,364.54 L86.75,363.59 L87.00,363.31 L87.25,363.21 L87.50,363.10 L87.75,362.99 L88.00,362.89 L88.25,362.78 L88.50,362.67 L88.75,362.56 L89.00,362.40 L89.25,362.15 L89.50,361.90 L89.75,361.65 L90.00,361.40 L90.25,361.15 L90.50,361.25 L90.75,361.88 L91.00,362.50 L91.25,363.12 L91.50,363.75 L91.75,364.38 L92.00,365.00 L92.25,365.89 L92.50,366.77 L92.75,367.66 L93.00,368.55 L93.25,369.43 L93.50,370.32 L93.75,371.20 L94.00,372.09 L94.25,373.10 L94.50,374.60 L94.75,376.10 L95.00,377.60 L95.25,379.10 L95.50,380.60 L95.75,382.10 L96.00,383.60 L96.25,385.10 L96.50,386.60 L96.75,388.10 L97.00,389.59 L97.25,391.07 L97.50,392.56 L97.75,394.04 L98.00,395.52 L98.25,397.00 L98.50,398.48 L98.75,399.96 L99.00,401.44 L99.25,402.93 L99.50,404.41 L99.75,405.77 L100.00,407.04 L100.25,408.32 L100.50,409.60 L100.75,410.88 L101.00,412.16 L101.25,413.43 L101.50,414.71 L101.75,415.99 L102.00,417.27 L102.25,418.54 L102.50,419.38 L102.75,420.10 L103.00,420.82 L103.25,421.54 L103.50,422.27 L103.75,422.99 L104.00,423.71 L104.25,424.43 L104.50,425.16 L104.75,425.88 L105.00,426.60 L105.25,426.60 L105.50,426.60 L105.75,426.60 L106.00,426.60 L106.25,426.60 L106.50,426.60 L106.75,426.60 L107.00,426.60 L107.25,426.60 L107.50,426.60 L107.75,426.60 L107.75,426.60 Z" fill="#3a8290"/>
<path d="M28.00,426.60 L28.00,426.60 L28.25,426.60 L28.50,426.60 L28.75,426.60 L29.00,426.60 L29.25,426.60 L29.50,426.60 L29.75,426.60 L30.00,426.60 L30.25,426.60 L30.50,426.60 L30.75,426.60 L31.00,426.60 L31.25,426.60 L31.50,426.60 L31.75,426.60 L32.00,426.60 L32.25,426.60 L32.50,426.60 L32.75,426.60 L33.00,426.60 L33.25,426.60 L33.50,426.60 L33.75,426.60 L34.00,426.60 L34.25,426.60 L34.50,426.60 L34.75,426.60 L35.00,426.60 L35.25,426.60 L35.50,426.60 L35.75,426.60 L36.00,426.60 L36.25,426.60 L36.50,426.60 L36.75,426.60 L37.00,426.60 L37.25,426.60 L37.50,426.60 L37.75,426.60 L38.00,426.60 L38.25,426.59 L38.50,426.59 L38.75,426.58 L39.00,426.57 L39.25,426.57 L39.50,426.56 L39.75,426.55 L40.00,426.55 L40.25,426.54 L40.50,426.53 L40.75,426.53 L41.00,426.52 L41.25,426.51 L41.50,426.50 L41.75,426.50 L42.00,426.49 L42.25,426.48 L42.50,426.48 L42.75,426.47 L43.00,426.46 L43.25,426.46 L43.50,426.45 L43.75,426.44 L44.00,426.44 L44.25,426.43 L44.50,426.42 L44.75,426.42 L45.00,426.41 L45.25,426.40 L45.50,426.40 L45.75,426.39 L46.00,426.38 L46.25,426.38 L46.50,426.37 L46.75,426.36 L47.00,426.35 L47.25,426.35 L47.50,426.34 L47.75,426.33 L48.00,426.33 L48.25,426.32 L48.50,426.31 L48.75,426.31 L49.00,426.30 L49.25,426.29 L49.50,426.29 L49.75,426.28 L50.00,426.27 L50.25,426.27 L50.50,426.26 L50.75,426.25 L51.00,426.25 L51.25,426.24 L51.50,426.23 L51.75,426.23 L52.00,426.22 L52.25,426.21 L52.50,426.20 L52.75,426.20 L53.00,426.19 L53.25,426.18 L53.50,426.18 L53.75,426.17 L54.00,426.16 L54.25,426.16 L54.50,426.15 L54.75,426.14 L55.00,426.14 L55.25,426.13 L55.50,426.12 L55.75,426.12 L56.00,426.11 L56.25,426.10 L56.50,426.10 L56.75,426.09 L57.00,426.08 L57.25,426.07 L57.50,426.07 L57.75,426.06 L58.00,426.05 L58.25,426.05 L58.50,426.04 L58.75,426.03 L59.00,426.03 L59.25,426.02 L59.50,426.01 L59.75,426.01 L60.00,426.00 L60.25,425.94 L60.50,425.88 L60.75,425.81 L61.00,425.75 L61.25,425.69 L61.50,425.62 L61.75,425.56 L62.00,425.50 L62.25,425.44 L62.50,425.38 L62.75,425.31 L63.00,425.25 L63.25,425.19 L63.50,425.12 L63.75,425.06 L64.00,425.00 L64.25,424.94 L64.50,424.88 L64.75,424.81 L65.00,424.75 L65.25,424.69 L65.50,424.62 L65.75,424.56 L66.00,424.50 L66.25,424.44 L66.50,424.38 L66.75,424.31 L67.00,424.25 L67.25,424.19 L67.50,424.12 L67.75,424.06 L68.00,424.00 L68.25,423.69 L68.50,423.38 L68.75,423.06 L69.00,422.75 L69.25,422.44 L69.50,422.12 L69.75,421.81 L70.00,421.50 L70.25,421.19 L70.50,420.88 L70.75,420.56 L71.00,420.25 L71.25,419.94 L71.50,419.62 L71.75,419.31 L72.00,419.00 L72.25,418.37 L72.50,417.74 L72.75,417.11 L73.00,416.48 L73.25,415.86 L73.50,415.23 L73.75,414.60 L74.00,413.97 L74.25,413.34 L74.50,412.71 L74.75,412.08 L75.00,411.45 L75.25,410.83 L75.50,409.91 L75.75,408.92 L76.00,407.93 L76.25,406.94 L76.50,405.94 L76.75,404.95 L77.00,403.96 L77.25,402.97 L77.50,401.98 L77.75,400.99 L78.00,400.00 L78.25,398.75 L78.50,397.50 L78.75,396.25 L79.00,395.00 L79.25,393.75 L79.50,392.50 L79.75,391.25 L80.00,390.00 L80.25,389.04 L80.50,388.07 L80.75,387.11 L81.00,386.15 L81.25,385.19 L81.50,384.23 L81.75,383.26 L82.00,382.30 L82.25,381.26 L82.50,380.23 L82.75,379.19 L83.00,378.15 L83.25,377.11 L83.50,376.07 L83.75,375.04 L84.00,374.00 L84.25,373.05 L84.50,372.11 L84.75,371.16 L85.00,370.21 L85.25,374.38 L85.50,380.00 L85.75,385.00 L86.00,390.00 L86.25,395.00 L86.50,400.00 L86.75,404.50 L87.00,409.00 L87.25,413.50 L87.50,418.00 L87.75,420.15 L88.00,422.30 L88.25,424.45 L88.50,426.60 L88.75,426.60 L89.00,426.60 L89.25,426.60 L89.50,426.60 L89.75,426.60 L90.00,426.60 L90.25,426.60 L90.50,426.60 L90.75,426.60 L91.00,426.60 L91.25,426.60 L91.50,426.60 L91.75,426.60 L92.00,426.60 L92.25,426.60 L92.50,426.60 L92.75,426.60 L93.00,426.60 L93.25,426.60 L93.50,426.60 L93.75,426.60 L94.00,426.60 L94.25,426.60 L94.50,426.60 L94.75,426.60 L95.00,426.60 L95.25,426.60 L95.50,426.60 L95.75,426.60 L96.00,426.60 L96.25,426.60 L96.50,426.60 L96.75,426.60 L97.00,426.60 L97.25,426.60 L97.50,426.60 L97.75,426.60 L98.00,426.60 L98.25,426.60 L98.50,426.60 L98.75,426.60 L99.00,426.60 L99.25,426.60 L99.50,426.60 L99.75,426.60 L100.00,426.60 L100.25,426.60 L100.50,426.60 L100.75,426.60 L101.00,426.60 L101.25,426.60 L101.50,426.60 L101.75,426.60 L102.00,426.60 L102.25,426.60 L102.50,426.60 L102.75,426.60 L103.00,426.60 L103.25,426.60 L103.50,426.60 L103.75,426.60 L104.00,426.60 L104.25,426.60 L104.50,426.60 L104.75,426.60 L105.00,426.60 L105.25,426.60 L105.50,426.60 L105.75,426.60 L106.00,426.60 L106.25,426.60 L106.50,426.60 L106.75,426.60 L107.00,426.60 L107.25,426.60 L107.50,426.60 L107.75,426.60 L107.75,426.60 Z" fill="#87597a"/>
<path d="M28.00,426.60 L28.25,426.60 L28.50,426.60 L28.75,426.60 L29.00,426.60 L29.25,426.60 L29.50,426.60 L29.75,426.60 L30.00,426.60 L30.25,426.60 L30.50,426.60 L30.75,426.60 L31.00,426.60 L31.25,426.60 L31.50,426.60 L31.75,426.60 L32.00,426.60 L32.25,426.60 L32.50,426.60 L32.75,426.60 L33.00,426.60 L33.25,426.60 L33.50,426.60 L33.75,426.60 L34.00,426.60 L34.25,426.60 L34.50,426.60 L34.75,426.60 L35.00,426.60 L35.25,426.60 L35.50,426.60 L35.75,426.60 L36.00,426.60 L36.25,426.60 L36.50,426.60 L36.75,426.60 L37.00,426.60 L37.25,426.60 L37.50,426.60 L37.75,426.60 L38.00,426.60 L38.25,426.53 L38.50,426.47 L38.75,426.40 L39.00,426.34 L39.25,426.27 L39.50,426.21 L39.75,426.14 L40.00,426.08 L40.25,426.01 L40.50,425.94 L40.75,425.88 L41.00,425.81 L41.25,425.75 L41.50,425.68 L41.75,425.62 L42.00,425.55 L42.25,425.48 L42.50,425.42 L42.75,425.35 L43.00,425.29 L43.25,425.22 L43.50,425.16 L43.75,425.09 L44.00,425.02 L44.25,424.96 L44.50,424.89 L44.75,424.83 L45.00,424.76 L45.25,424.70 L45.50,424.63 L45.75,424.57 L46.00,424.50 L46.25,424.34 L46.50,424.19 L46.75,424.03 L47.00,423.88 L47.25,423.72 L47.50,423.56 L47.75,423.41 L48.00,423.25 L48.25,423.09 L48.50,422.94 L48.75,422.78 L49.00,422.62 L49.25,422.47 L49.50,422.31 L49.75,422.16 L50.00,422.00 L50.25,421.88 L50.50,421.75 L50.75,421.62 L51.00,421.50 L51.25,421.38 L51.50,421.25 L51.75,421.12 L52.00,421.00 L52.25,420.88 L52.50,420.75 L52.75,420.62 L53.00,420.50 L53.25,420.67 L53.50,420.83 L53.75,421.00 L54.00,421.17 L54.25,421.33 L54.50,421.50 L54.75,421.67 L55.00,421.83 L55.25,422.00 L55.50,422.17 L55.75,422.33 L56.00,422.50 L56.25,422.59 L56.50,422.69 L56.75,422.78 L57.00,422.88 L57.25,422.97 L57.50,423.06 L57.75,423.16 L58.00,423.25 L58.25,423.34 L58.50,423.44 L58.75,423.53 L59.00,423.62 L59.25,423.72 L59.50,423.81 L59.75,423.91 L60.00,424.00 L60.25,423.96 L60.50,423.92 L60.75,423.88 L61.00,423.83 L61.25,423.79 L61.50,423.75 L61.75,423.71 L62.00,423.67 L62.25,423.62 L62.50,423.58 L62.75,423.54 L63.00,423.50 L63.25,423.46 L63.50,423.42 L63.75,423.38 L64.00,423.33 L64.25,423.29 L64.50,423.25 L64.75,423.21 L65.00,423.17 L65.25,423.12 L65.50,423.08 L65.75,423.04 L66.00,423.00 L66.25,422.81 L66.50,422.62 L66.75,422.44 L67.00,422.25 L67.25,422.06 L67.50,421.88 L67.75,421.69 L68.00,421.50 L68.25,421.31 L68.50,421.12 L68.75,420.94 L69.00,420.75 L69.25,420.56 L69.50,420.38 L69.75,420.19 L70.00,420.00 L70.25,419.56 L70.50,419.12 L70.75,418.69 L71.00,418.25 L71.25,417.81 L71.50,417.38 L71.75,416.94 L72.00,416.50 L72.25,416.06 L72.50,415.62 L72.75,415.19 L73.00,414.75 L73.25,414.31 L73.50,413.88 L73.75,413.44 L74.00,413.00 L74.25,412.25 L74.50,411.50 L74.75,410.75 L75.00,410.00 L75.25,409.25 L75.50,408.50 L75.75,407.75 L76.00,407.00 L76.25,406.25 L76.50,405.50 L76.75,404.75 L77.00,404.00 L77.25,403.00 L77.50,402.00 L77.75,401.00 L78.00,400.00 L78.25,399.00 L78.50,398.00 L78.75,397.00 L79.00,396.00 L79.25,395.00 L79.50,394.00 L79.75,393.00 L80.00,392.00 L80.25,390.80 L80.50,389.60 L80.75,388.40 L81.00,387.20 L81.25,386.00 L81.50,384.80 L81.75,383.60 L82.00,382.40 L82.25,381.20 L82.50,380.00 L82.75,379.00 L83.00,378.00 L83.25,377.00 L83.50,376.00 L83.75,375.00 L84.00,374.00 L84.25,373.00 L84.50,372.00 L84.75,371.00 L85.00,370.00 L85.25,369.12 L85.50,368.25 L85.75,367.38 L86.00,366.50 L86.25,365.62 L86.50,364.75 L86.75,363.88 L87.00,363.00 L87.25,362.62 L87.50,362.25 L87.75,361.88 L88.00,361.50 L88.25,361.12 L88.50,360.75 L88.75,360.38 L89.00,360.00 L89.25,359.27 L89.50,358.54 L89.75,357.81 L90.00,357.08 L90.25,356.72 L90.50,357.81 L90.75,358.91 L91.00,360.00 L91.25,361.00 L91.50,362.00 L91.75,363.00 L92.00,364.00 L92.25,365.00 L92.50,366.00 L92.75,366.88 L93.00,367.76 L93.25,368.65 L93.50,369.53 L93.75,370.41 L94.00,371.29 L94.25,372.30 L94.50,373.83 L94.75,375.35 L95.00,376.87 L95.25,378.39 L95.50,379.91 L95.75,381.43 L96.00,382.96 L96.25,384.48 L96.50,386.00 L96.75,387.75 L97.00,389.50 L97.25,391.25 L97.50,393.00 L97.75,394.75 L98.00,396.50 L98.25,398.25 L98.50,400.00 L98.75,401.75 L99.00,403.50 L99.25,405.25 L99.50,407.00 L99.75,408.75 L100.00,410.50 L100.25,412.25 L100.50,414.00 L100.75,415.57 L101.00,417.15 L101.25,418.73 L101.50,420.30 L101.75,421.88 L102.00,423.45 L102.25,425.03 L102.50,426.60 L102.75,426.60 L103.00,426.60 L103.25,426.60 L103.50,426.60 L103.75,426.60 L104.00,426.60 L104.25,426.60 L104.50,426.60 L104.75,426.60 L105.00,426.60 L105.25,426.60 L105.50,426.60 L105.75,426.60 L106.00,426.60 L106.25,426.60 L106.50,426.60 L106.75,426.60 L107.00,426.60 L107.25,426.60 L107.50,426.60 L107.75,426.60" fill="none" stroke="#3aae44" stroke-width="0.9"/>
<path d="M28.00,426.60 L28.25,426.60 L28.50,426.60 L28.75,426.60 L29.00,426.60 L29.25,426.60 L29.50,426.60 L29.75,426.60 L30.00,426.60 L30.25,426.60 L30.50,426.60 L30.75,426.60 L31.00,426.60 L31.25,426.60 L31.50,426.60 L31.75,426.60 L32.00,426.60 L32.25,426.60 L32.50,426.60 L32.75,426.60 L33.00,426.60 L33.25,426.60 L33.50,426.60 L33.75,426.60 L34.00,426.60 L34.25,426.60 L34.50,426.60 L34.75,426.60 L35.00,426.60 L35.25,426.60 L35.50,426.60 L35.75,426.60 L36.00,426.60 L36.25,426.60 L36.50,426.60 L36.75,426.60 L37.00,426.60 L37.25,426.60 L37.50,426.60 L37.75,426.60 L38.00,426.60 L38.25,426.59 L38.50,426.59 L38.75,426.58 L39.00,426.57 L39.25,426.57 L39.50,426.56 L39.75,426.55 L40.00,426.55 L40.25,426.54 L40.50,426.53 L40.75,426.53 L41.00,426.52 L41.25,426.51 L41.50,426.50 L41.75,426.50 L42.00,426.49 L42.25,426.48 L42.50,426.48 L42.75,426.47 L43.00,426.46 L43.25,426.46 L43.50,426.45 L43.75,426.44 L44.00,426.44 L44.25,426.43 L44.50,426.42 L44.75,426.42 L45.00,426.41 L45.25,426.40 L45.50,426.40 L45.75,426.39 L46.00,426.38 L46.25,426.38 L46.50,426.37 L46.75,426.36 L47.00,426.35 L47.25,426.35 L47.50,426.34 L47.75,426.33 L48.00,426.33 L48.25,426.32 L48.50,426.31 L48.75,426.31 L49.00,426.30 L49.25,426.29 L49.50,426.29 L49.75,426.28 L50.00,426.27 L50.25,426.27 L50.50,426.26 L50.75,426.25 L51.00,426.25 L51.25,426.24 L51.50,426.23 L51.75,426.23 L52.00,426.22 L52.25,426.21 L52.50,426.20 L52.75,426.20 L53.00,426.19 L53.25,426.18 L53.50,426.18 L53.75,426.17 L54.00,426.16 L54.25,426.16 L54.50,426.15 L54.75,426.14 L55.00,426.14 L55.25,426.13 L55.50,426.12 L55.75,426.12 L56.00,426.11 L56.25,426.10 L56.50,426.10 L56.75,426.09 L57.00,426.08 L57.25,426.07 L57.50,426.07 L57.75,426.06 L58.00,426.05 L58.25,426.05 L58.50,426.04 L58.75,426.03 L59.00,426.03 L59.25,426.02 L59.50,426.01 L59.75,426.01 L60.00,426.00 L60.25,425.94 L60.50,425.88 L60.75,425.81 L61.00,425.75 L61.25,425.69 L61.50,425.62 L61.75,425.56 L62.00,425.50 L62.25,425.44 L62.50,425.38 L62.75,425.31 L63.00,425.25 L63.25,425.19 L63.50,425.12 L63.75,425.06 L64.00,425.00 L64.25,424.94 L64.50,424.88 L64.75,424.81 L65.00,424.75 L65.25,424.69 L65.50,424.62 L65.75,424.56 L66.00,424.50 L66.25,424.44 L66.50,424.38 L66.75,424.31 L67.00,424.25 L67.25,424.19 L67.50,424.12 L67.75,424.06 L68.00,424.00 L68.25,423.69 L68.50,423.38 L68.75,423.06 L69.00,422.75 L69.25,422.44 L69.50,422.12 L69.75,421.81 L70.00,421.50 L70.25,421.19 L70.50,420.88 L70.75,420.56 L71.00,420.25 L71.25,419.94 L71.50,419.62 L71.75,419.31 L72.00,419.00 L72.25,418.37 L72.50,417.74 L72.75,417.11 L73.00,416.48 L73.25,415.86 L73.50,415.23 L73.75,414.60 L74.00,413.97 L74.25,413.34 L74.50,412.71 L74.75,412.08 L75.00,411.45 L75.25,410.83 L75.50,409.91 L75.75,408.92 L76.00,407.93 L76.25,406.94 L76.50,405.94 L76.75,404.95 L77.00,403.96 L77.25,402.97 L77.50,401.98 L77.75,400.99 L78.00,400.00 L78.25,398.75 L78.50,397.50 L78.75,396.25 L79.00,395.00 L79.25,393.75 L79.50,392.50 L79.75,391.25 L80.00,390.00 L80.25,389.04 L80.50,388.07 L80.75,387.11 L81.00,386.15 L81.25,385.19 L81.50,384.23 L81.75,383.26 L82.00,382.30 L82.25,381.26 L82.50,380.23 L82.75,379.19 L83.00,378.15 L83.25,377.11 L83.50,376.07 L83.75,375.04 L84.00,374.00 L84.25,373.05 L84.50,372.11 L84.75,371.16 L85.00,370.21 L85.25,369.27 L85.50,368.32 L85.75,367.38 L86.00,366.43 L86.25,365.48 L86.50,364.54 L86.75,363.59 L87.00,363.31 L87.25,363.21 L87.50,363.10 L87.75,362.99 L88.00,362.89 L88.25,362.78 L88.50,362.67 L88.75,362.56 L89.00,362.40 L89.25,362.15 L89.50,361.90 L89.75,361.65 L90.00,361.40 L90.25,361.15 L90.50,361.25 L90.75,361.88 L91.00,362.50 L91.25,363.12 L91.50,363.75 L91.75,364.38 L92.00,365.00 L92.25,365.89 L92.50,366.77 L92.75,367.66 L93.00,368.55 L93.25,369.43 L93.50,370.32 L93.75,371.20 L94.00,372.09 L94.25,373.10 L94.50,374.60 L94.75,376.10 L95.00,377.60 L95.25,379.10 L95.50,380.60 L95.75,382.10 L96.00,383.60 L96.25,385.10 L96.50,386.60 L96.75,388.10 L97.00,389.59 L97.25,391.07 L97.50,392.56 L97.75,394.04 L98.00,395.52 L98.25,397.00 L98.50,398.48 L98.75,399.96 L99.00,401.44 L99.25,402.93 L99.50,404.41 L99.75,405.77 L100.00,407.04 L100.25,408.32 L100.50,409.60 L100.75,410.88 L101.00,412.16 L101.25,413.43 L101.50,414.71 L101.75,415.99 L102.00,417.27 L102.25,418.54 L102.50,419.38 L102.75,420.10 L103.00,420.82 L103.25,421.54 L103.50,422.27 L103.75,422.99 L104.00,423.71 L104.25,424.43 L104.50,425.16 L104.75,425.88 L105.00,426.60 L105.25,426.60 L105.50,426.60 L105.75,426.60 L106.00,426.60 L106.25,426.60 L106.50,426.60 L106.75,426.60 L107.00,426.60 L107.25,426.60 L107.50,426.60 L107.75,426.60" fill="none" stroke="#1d4d7a" stroke-width="0.9"/>
<path d="M28.00,426.60 L28.25,426.60 L28.50,426.60 L28.75,426.60 L29.00,426.60 L29.25,426.60 L29.50,426.60 L29.75,426.60 L30.00,426.60 L30.25,426.60 L30.50,426.60 L30.75,426.60 L31.00,426.60 L31.25,426.60 L31.50,426.60 L31.75,426.60 L32.00,426.60 L32.25,426.60 L32.50,426.60 L32.75,426.60 L33.00,426.60 L33.25,426.60 L33.50,426.60 L33.75,426.60 L34.00,426.60 L34.25,426.60 L34.50,426.60 L34.75,426.60 L35.00,426.60 L35.25,426.60 L35.50,426.60 L35.75,426.60 L36.00,426.60 L36.25,426.60 L36.50,426.60 L36.75,426.60 L37.00,426.60 L37.25,426.60 L37.50,426.60 L37.75,426.60 L38.00,426.60 L38.25,426.55 L38.50,426.50 L38.75,426.45 L39.00,426.40 L39.25,426.35 L39.50,426.30 L39.75,426.25 L40.00,426.20 L40.25,426.15 L40.50,426.10 L40.75,426.05 L41.00,426.00 L41.25,425.95 L41.50,425.90 L41.75,425.85 L42.00,425.80 L42.25,425.75 L42.50,425.70 L42.75,425.65 L43.00,425.60 L43.25,425.55 L43.50,425.50 L43.75,425.45 L44.00,425.40 L44.25,425.35 L44.50,425.30 L44.75,425.25 L45.00,425.20 L45.25,425.15 L45.50,425.10 L45.75,425.05 L46.00,425.00 L46.25,424.91 L46.50,424.81 L46.75,424.72 L47.00,424.62 L47.25,424.53 L47.50,424.44 L47.75,424.34 L48.00,424.25 L48.25,424.16 L48.50,424.06 L48.75,423.97 L49.00,423.88 L49.25,423.78 L49.50,423.69 L49.75,423.59 L50.00,423.50 L50.25,423.38 L50.50,423.25 L50.75,423.12 L51.00,423.00 L51.25,422.88 L51.50,422.75 L51.75,422.62 L52.00,422.50 L52.25,422.38 L52.50,422.25 L52.75,422.12 L53.00,422.00 L53.25,421.88 L53.50,421.75 L53.75,421.62 L54.00,421.50 L54.25,421.62 L54.50,421.75 L54.75,421.88 L55.00,422.00 L55.25,422.12 L55.50,422.25 L55.75,422.38 L56.00,422.50 L56.25,422.62 L56.50,422.75 L56.75,422.88 L57.00,423.00 L57.25,423.05 L57.50,423.10 L57.75,423.15 L58.00,423.20 L58.25,423.25 L58.50,423.30 L58.75,423.35 L59.00,423.40 L59.25,423.45 L59.50,423.50 L59.75,423.55 L60.00,423.60 L60.25,423.65 L60.50,423.70 L60.75,423.75 L61.00,423.80 L61.25,423.85 L61.50,423.90 L61.75,423.95 L62.00,424.00 L62.25,423.81 L62.50,423.62 L62.75,423.44 L63.00,423.25 L63.25,423.06 L63.50,422.88 L63.75,422.69 L64.00,422.50 L64.25,422.31 L64.50,422.12 L64.75,421.94 L65.00,421.75 L65.25,421.56 L65.50,421.38 L65.75,421.19 L66.00,421.00 L66.25,420.58 L66.50,420.17 L66.75,419.75 L67.00,419.33 L67.25,418.92 L67.50,418.50 L67.75,418.08 L68.00,417.67 L68.25,417.25 L68.50,416.83 L68.75,416.42 L69.00,416.00 L69.25,415.50 L69.50,415.00 L69.75,414.50 L70.00,414.00 L70.25,413.50 L70.50,413.00 L70.75,412.50 L71.00,412.00 L71.25,411.00 L71.50,410.00 L71.75,409.00 L72.00,408.00 L72.25,407.00 L72.50,406.00 L72.75,405.00 L73.00,404.00 L73.25,402.75 L73.50,401.50 L73.75,400.25 L74.00,399.00 L74.25,397.75 L74.50,396.50 L74.75,395.25 L75.00,394.00 L75.25,392.75 L75.50,391.50 L75.75,390.25 L76.00,389.00 L76.25,386.67 L76.50,384.33 L76.75,382.00 L77.00,379.67 L77.25,377.33 L77.50,375.00 L77.75,372.05 L78.00,369.09 L78.25,366.14 L78.50,363.18 L78.75,360.55 L79.00,358.14 L79.25,355.73 L79.50,353.32 L79.75,350.91 L80.00,348.50 L80.25,347.75 L80.50,347.00 L80.75,346.25 L81.00,345.50 L81.25,344.75 L81.50,344.00 L81.75,343.90 L82.00,343.79 L82.25,343.69 L82.50,343.58 L82.75,343.59 L83.00,344.06 L83.25,344.53 L83.50,345.00 L83.75,346.75 L84.00,348.50 L84.25,353.32 L84.50,358.14 L84.75,363.12 L85.00,368.75 L85.25,374.38 L85.50,380.00 L85.75,385.00 L86.00,390.00 L86.25,395.00 L86.50,400.00 L86.75,404.50 L87.00,409.00 L87.25,413.50 L87.50,418.00 L87.75,420.15 L88.00,422.30 L88.25,424.45 L88.50,426.60 L88.75,426.60 L89.00,426.60 L89.25,426.60 L89.50,426.60 L89.75,426.60 L90.00,426.60 L90.25,426.60 L90.50,426.60 L90.75,426.60 L91.00,426.60 L91.25,426.60 L91.50,426.60 L91.75,426.60 L92.00,426.60 L92.25,426.60 L92.50,426.60 L92.75,426.60 L93.00,426.60 L93.25,426.60 L93.50,426.60 L93.75,426.60 L94.00,426.60 L94.25,426.60 L94.50,426.60 L94.75,426.60 L95.00,426.60 L95.25,426.60 L95.50,426.60 L95.75,426.60 L96.00,426.60 L96.25,426.60 L96.50,426.60 L96.75,426.60 L97.00,426.60 L97.25,426.60 L97.50,426.60 L97.75,426.60 L98.00,426.60 L98.25,426.60 L98.50,426.60 L98.75,426.60 L99.00,426.60 L99.25,426.60 L99.50,426.60 L99.75,426.60 L100.00,426.60 L100.25,426.60 L100.50,426.60 L100.75,426.60 L101.00,426.60 L101.25,426.60 L101.50,426.60 L101.75,426.60 L102.00,426.60 L102.25,426.60 L102.50,426.60 L102.75,426.60 L103.00,426.60 L103.25,426.60 L103.50,426.60 L103.75,426.60 L104.00,426.60 L104.25,426.60 L104.50,426.60 L104.75,426.60 L105.00,426.60 L105.25,426.60 L105.50,426.60 L105.75,426.60 L106.00,426.60 L106.25,426.60 L106.50,426.60 L106.75,426.60 L107.00,426.60 L107.25,426.60 L107.50,426.60 L107.75,426.60" fill="none" stroke="#d0102c" stroke-width="0.9"/>
<path d="M28.30,426.60 L28.55,425.53 L28.80,424.45 L29.05,423.38 L29.30,422.30 L29.55,421.23 L29.80,420.16 L30.05,419.08 L30.30,418.01 L30.55,416.93 L30.80,415.86 L31.05,414.82 L31.30,413.90 L31.55,412.98 L31.80,412.07 L32.05,411.15 L32.30,410.23 L32.55,409.32 L32.80,408.40 L33.05,407.48 L33.30,406.57 L33.55,405.65 L33.80,404.73 L34.05,403.88 L34.30,403.30 L34.55,402.72 L34.80,402.13 L35.05,401.55 L35.30,400.97 L35.55,400.38 L35.80,399.80 L36.05,399.22 L36.30,398.63 L36.55,398.05 L36.80,397.47 L37.05,396.95 L37.30,396.70 L37.55,396.45 L37.80,396.20 L38.05,395.95 L38.30,395.70 L38.55,395.45 L38.80,395.20 L39.05,394.95 L39.30,394.70 L39.55,394.45 L39.80,394.20 L40.05,393.98 L40.30,393.90 L40.55,393.82 L40.80,393.73 L41.05,393.65 L41.30,393.57 L41.55,393.48 L41.80,393.40 L42.05,393.32 L42.30,393.23 L42.55,393.15 L42.80,393.07 L43.05,392.98 L43.30,392.85 L43.55,392.73 L43.80,392.60 L44.05,392.48 L44.30,392.35 L44.55,392.23 L44.80,392.10 L45.05,391.98 L45.30,391.85 L45.55,391.73 L45.80,391.60 L46.05,391.54 L46.30,391.73 L46.55,391.91 L46.80,392.10 L47.05,392.29 L47.30,392.48 L47.55,392.66 L47.80,392.85 L48.05,393.05 L48.30,393.30 L48.55,393.55 L48.80,393.80 L49.05,394.05 L49.30,394.30 L49.55,394.55 L49.80,394.80 L50.05,394.93 L50.30,394.55 L50.55,394.18 L50.80,393.80 L51.05,393.43 L51.30,393.05 L51.55,392.68 L51.80,392.30 L52.05,391.85 L52.30,391.10 L52.55,390.35 L52.80,389.60 L53.05,388.85 L53.30,388.10 L53.55,387.35 L53.80,386.60 L54.05,385.95 L54.30,385.70 L54.55,385.45 L54.80,385.20 L55.05,384.95 L55.30,384.70 L55.55,384.45 L55.80,384.20 L56.05,383.90 L56.30,383.40 L56.55,382.90 L56.80,382.40 L57.05,381.90 L57.30,381.40 L57.55,380.90 L57.80,380.40 L58.05,379.85 L58.30,379.10 L58.55,378.35 L58.80,377.60 L59.05,376.85 L59.30,376.10 L59.55,375.35 L59.80,374.60 L60.05,373.80 L60.30,372.80 L60.55,371.80 L60.80,370.80 L61.05,369.80 L61.30,368.80 L61.55,367.80 L61.80,366.80 L62.05,365.93 L62.30,365.60 L62.55,365.26 L62.80,364.92 L63.05,364.59 L63.30,364.25 L63.55,363.91 L63.80,363.58 L64.05,363.24 L64.30,362.90 L64.55,362.57 L64.80,363.29 L65.05,364.27 L65.30,365.25 L65.55,366.23 L65.80,367.21 L66.05,368.47 L66.30,370.80 L66.55,373.13 L66.80,375.47 L67.05,377.80 L67.30,380.13 L67.55,382.53 L67.80,385.20 L68.05,387.87 L68.30,390.53 L68.55,393.20 L68.80,395.87 L69.05,398.40 L69.30,400.40 L69.55,402.40 L69.80,404.40 L70.05,406.40 L70.30,408.40 L70.55,410.33 L70.80,412.00 L71.05,413.67 L71.30,415.33 L71.55,417.00 L71.80,418.67 L72.05,420.16 L72.30,420.99 L72.55,421.81 L72.80,422.64 L73.05,423.46 L73.30,424.29 L73.55,425.12 L73.80,425.94" fill="none" stroke="#333" stroke-width="1.0" stroke-dasharray="1 0.9"/>
<rect x="26.4" y="327" width="102.3" height="100.9" fill="none" stroke="#111" stroke-width="0.9"/>
<line x1="30.00" y1="427.90" x2="30.00" y2="426.20" stroke="#111" stroke-width="0.6"/>
<line x1="38.00" y1="427.90" x2="38.00" y2="426.20" stroke="#111" stroke-width="0.6"/>
<line x1="42.00" y1="427.90" x2="42.00" y2="426.20" stroke="#111" stroke-width="0.6"/>
<line x1="46.00" y1="427.90" x2="46.00" y2="426.20" stroke="#111" stroke-width="0.6"/>
<line x1="56.00" y1="427.90" x2="56.00" y2="426.20" stroke="#111" stroke-width="0.6"/>
<line x1="64.00" y1="427.90" x2="64.00" y2="426.20" stroke="#111" stroke-width="0.6"/>
<line x1="68.00" y1="427.90" x2="68.00" y2="426.20" stroke="#111" stroke-width="0.6"/>
<line x1="72.00" y1="427.90" x2="72.00" y2="426.20" stroke="#111" stroke-width="0.6"/>
<line x1="82.00" y1="427.90" x2="82.00" y2="426.20" stroke="#111" stroke-width="0.6"/>
<line x1="90.00" y1="427.90" x2="90.00" y2="426.20" stroke="#111" stroke-width="0.6"/>
<line x1="94.00" y1="427.90" x2="94.00" y2="426.20" stroke="#111" stroke-width="0.6"/>
<line x1="98.00" y1="427.90" x2="98.00" y2="426.20" stroke="#111" stroke-width="0.6"/>
<line x1="108.00" y1="427.90" x2="108.00" y2="426.20" stroke="#111" stroke-width="0.6"/>
<line x1="116.00" y1="427.90" x2="116.00" y2="426.20" stroke="#111" stroke-width="0.6"/>
<line x1="120.00" y1="427.90" x2="120.00" y2="426.20" stroke="#111" stroke-width="0.6"/>
<line x1="124.00" y1="427.90" x2="124.00" y2="426.20" stroke="#111" stroke-width="0.6"/>
<line x1="26.40" y1="340.00" x2="28.00" y2="340.00" stroke="#111" stroke-width="0.6"/>
<line x1="26.40" y1="356.00" x2="28.00" y2="356.00" stroke="#111" stroke-width="0.6"/>
<line x1="26.40" y1="372.00" x2="28.00" y2="372.00" stroke="#111" stroke-width="0.6"/>
<line x1="26.40" y1="388.00" x2="28.00" y2="388.00" stroke="#111" stroke-width="0.6"/>
<line x1="26.40" y1="404.00" x2="28.00" y2="404.00" stroke="#111" stroke-width="0.6"/>
<line x1="26.40" y1="420.00" x2="28.00" y2="420.00" stroke="#111" stroke-width="0.6"/>
<text x="16.16" y="378.00" font-size="7.40" text-anchor="middle" fill="#222" stroke="#222" stroke-width="0.1" textLength="21.00" lengthAdjust="spacingAndGlyphs" transform="rotate(-90 16.16 378.00)">Count</text>
<text x="45.80" y="380.69" font-size="5.80" text-anchor="middle" fill="#555" stroke="#555" stroke-width="0.05">MFI</text>
<text x="45.80" y="388.29" font-size="5.80" text-anchor="middle" fill="#555" stroke="#555" stroke-width="0.05">90</text>
<text x="82.10" y="333.09" font-size="5.80" text-anchor="middle" fill="#cc0a2f" stroke="#cc0a2f" stroke-width="0.05">MFI</text>
<text x="82.10" y="340.59" font-size="5.80" text-anchor="middle" fill="#cc0a2f" stroke="#cc0a2f" stroke-width="0.05">2731</text>
<text x="103.10" y="353.79" font-size="5.80" text-anchor="middle" fill="#3aa845" stroke="#3aa845" stroke-width="0.05">MFI</text>
<text x="103.10" y="361.29" font-size="5.80" text-anchor="middle" fill="#3aa845" stroke="#3aa845" stroke-width="0.05">3212</text>
<text x="105.00" y="382.89" font-size="5.80" text-anchor="middle" fill="#1f5c99" stroke="#1f5c99" stroke-width="0.05">MFI</text>
<text x="105.00" y="390.39" font-size="5.80" text-anchor="middle" fill="#1f5c99" stroke="#1f5c99" stroke-width="0.05">5895</text>
<text x="78.00" y="444.89" font-size="7.20" text-anchor="middle" fill="#222" textLength="31.00" lengthAdjust="spacingAndGlyphs" stroke="#222" stroke-width="0.05">MTG (FITC)</text>
<rect x="23.9" y="451.4" width="8.2" height="4.8" fill="none" stroke="#333" stroke-width="0.6" stroke-dasharray="0.8 0.8"/>
<rect x="23.70" y="460.00" width="8.60" height="4.80" fill="#2fac3e"/>
<rect x="23.70" y="468.30" width="8.60" height="4.80" fill="#cc0a2f"/>
<rect x="23.70" y="476.90" width="8.60" height="4.80" fill="#1f4f8f"/>
<text x="35.80" y="455.82" font-size="5.60" text-anchor="start" fill="#333" textLength="26.00" lengthAdjust="spacingAndGlyphs" stroke="#333" stroke-width="0.05">Unstained</text>
<text x="35.80" y="464.42" font-size="5.60" text-anchor="start" fill="#333" stroke="#333" stroke-width="0.05">NT</text>
<text x="35.80" y="472.72" font-size="5.60" text-anchor="start" fill="#333" textLength="15.50" lengthAdjust="spacingAndGlyphs" stroke="#333" stroke-width="0.05">Heme</text>
<text x="35.80" y="481.32" font-size="5.60" text-anchor="start" fill="#333" textLength="27.00" lengthAdjust="spacingAndGlyphs" stroke="#333" stroke-width="0.05">Heme+Pio</text>
<rect x="161.30" y="510.50" width="12.60" height="35.90" fill="#2fac3e"/>
<rect x="176.10" y="524.86" width="13.30" height="21.54" fill="#cc0a2f"/>
<rect x="191.10" y="513.37" width="13.50" height="33.03" fill="#cc0a2f"/>
<rect x="206.30" y="497.93" width="13.10" height="48.47" fill="#cc0a2f"/>
<line x1="167.60" y1="510.86" x2="167.60" y2="510.14" stroke="#111" stroke-width="0.9"/>
<line x1="165.00" y1="510.14" x2="170.20" y2="510.14" stroke="#111" stroke-width="0.9"/>
<line x1="165.00" y1="510.86" x2="170.20" y2="510.86" stroke="#111" stroke-width="0.9"/>
<line x1="182.75" y1="527.73" x2="182.75" y2="521.63" stroke="#111" stroke-width="0.9"/>
<line x1="180.15" y1="521.63" x2="185.35" y2="521.63" stroke="#111" stroke-width="0.9"/>
<line x1="180.15" y1="527.73" x2="185.35" y2="527.73" stroke="#111" stroke-width="0.9"/>
<line x1="197.85" y1="519.48" x2="197.85" y2="507.63" stroke="#111" stroke-width="0.9"/>
<line x1="195.25" y1="507.63" x2="200.45" y2="507.63" stroke="#111" stroke-width="0.9"/>
<line x1="195.25" y1="519.48" x2="200.45" y2="519.48" stroke="#111" stroke-width="0.9"/>
<line x1="212.85" y1="505.12" x2="212.85" y2="490.75" stroke="#111" stroke-width="0.9"/>
<line x1="210.25" y1="490.75" x2="215.45" y2="490.75" stroke="#111" stroke-width="0.9"/>
<line x1="210.25" y1="505.12" x2="215.45" y2="505.12" stroke="#111" stroke-width="0.9"/>
<circle cx="163.60" cy="510.50" r="1.80" fill="#111"/>
<circle cx="165.60" cy="510.50" r="1.80" fill="#111"/>
<circle cx="167.60" cy="510.50" r="1.80" fill="#111"/>
<circle cx="169.60" cy="510.50" r="1.80" fill="#111"/>
<circle cx="171.60" cy="510.50" r="1.80" fill="#111"/>
<circle cx="182.75" cy="513.01" r="1.80" fill="#111"/>
<circle cx="179.75" cy="524.14" r="1.80" fill="#111"/>
<circle cx="185.75" cy="526.65" r="1.80" fill="#111"/>
<circle cx="182.75" cy="528.45" r="1.80" fill="#111"/>
<circle cx="179.75" cy="529.17" r="1.80" fill="#111"/>
<circle cx="194.85" cy="501.52" r="1.80" fill="#111"/>
<circle cx="200.85" cy="501.52" r="1.80" fill="#111"/>
<circle cx="197.85" cy="517.68" r="1.80" fill="#111"/>
<circle cx="197.85" cy="526.65" r="1.80" fill="#111"/>
<circle cx="212.85" cy="487.88" r="1.80" fill="#111"/>
<circle cx="212.85" cy="492.55" r="1.80" fill="#111"/>
<circle cx="212.85" cy="499.73" r="1.80" fill="#111"/>
<circle cx="212.85" cy="506.91" r="1.80" fill="#111"/>
<circle cx="212.85" cy="515.88" r="1.80" fill="#111"/>
<line x1="154.70" y1="481.00" x2="154.70" y2="546.90" stroke="#111" stroke-width="1.1"/>
<line x1="154.20" y1="546.40" x2="220.50" y2="546.40" stroke="#111" stroke-width="1.1"/>
<line x1="151.90" y1="546.40" x2="154.70" y2="546.40" stroke="#111" stroke-width="0.9"/>
<text x="148.70" y="548.63" font-size="6.20" text-anchor="end" fill="#333" stroke="#333" stroke-width="0.05">0.00</text>
<line x1="151.90" y1="537.42" x2="154.70" y2="537.42" stroke="#111" stroke-width="0.9"/>
<text x="148.70" y="539.66" font-size="6.20" text-anchor="end" fill="#333" stroke="#333" stroke-width="0.05">0.25</text>
<line x1="151.90" y1="528.45" x2="154.70" y2="528.45" stroke="#111" stroke-width="0.9"/>
<text x="148.70" y="530.68" font-size="6.20" text-anchor="end" fill="#333" stroke="#333" stroke-width="0.05">0.50</text>
<line x1="151.90" y1="519.48" x2="154.70" y2="519.48" stroke="#111" stroke-width="0.9"/>
<text x="148.70" y="521.71" font-size="6.20" text-anchor="end" fill="#333" stroke="#333" stroke-width="0.05">0.75</text>
<line x1="151.90" y1="510.50" x2="154.70" y2="510.50" stroke="#111" stroke-width="0.9"/>
<text x="148.70" y="512.73" font-size="6.20" text-anchor="end" fill="#333" stroke="#333" stroke-width="0.05">1.00</text>
<line x1="151.90" y1="501.52" x2="154.70" y2="501.52" stroke="#111" stroke-width="0.9"/>
<text x="148.70" y="503.76" font-size="6.20" text-anchor="end" fill="#333" stroke="#333" stroke-width="0.05">1.25</text>
<line x1="151.90" y1="492.55" x2="154.70" y2="492.55" stroke="#111" stroke-width="0.9"/>
<text x="148.70" y="494.78" font-size="6.20" text-anchor="end" fill="#333" stroke="#333" stroke-width="0.05">1.50</text>
<line x1="151.90" y1="483.57" x2="154.70" y2="483.57" stroke="#111" stroke-width="0.9"/>
<text x="148.70" y="485.81" font-size="6.20" text-anchor="end" fill="#333" stroke="#333" stroke-width="0.05">1.75</text>
<line x1="167.60" y1="546.40" x2="167.60" y2="548.80" stroke="#111" stroke-width="0.9"/>
<line x1="182.75" y1="546.40" x2="182.75" y2="548.80" stroke="#111" stroke-width="0.9"/>
<line x1="197.85" y1="546.40" x2="197.85" y2="548.80" stroke="#111" stroke-width="0.9"/>
<line x1="212.85" y1="546.40" x2="212.85" y2="548.80" stroke="#111" stroke-width="0.9"/>
<line x1="167.60" y1="505.60" x2="183.00" y2="505.60" stroke="#222" stroke-width="1.0"/>
<text x="175.30" y="505.60" font-size="8.60" text-anchor="middle" fill="#111" stroke="#111" stroke-width="0.35">*</text>
<line x1="183.50" y1="496.10" x2="198.30" y2="496.10" stroke="#222" stroke-width="1.0"/>
<text x="190.90" y="494.36" font-size="6.00" text-anchor="middle" fill="#222" stroke="#222" stroke-width="0.05">0.1</text>
<line x1="183.50" y1="483.40" x2="210.50" y2="483.40" stroke="#222" stroke-width="1.0"/>
<text x="197.00" y="483.40" font-size="8.60" text-anchor="middle" fill="#111" stroke="#111" stroke-width="0.35">**</text>
<text x="168.70" y="558.70" font-size="6.40" text-anchor="middle" fill="#333" stroke="#333" stroke-width="0.05">–</text>
<text x="182.40" y="558.70" font-size="6.40" text-anchor="middle" fill="#333" stroke="#333" stroke-width="0.05">–</text>
<text x="197.20" y="558.70" font-size="6.40" text-anchor="middle" fill="#333" stroke="#333" stroke-width="0.05">Pio</text>
<text x="213.00" y="558.70" font-size="6.40" text-anchor="middle" fill="#333" stroke="#333" stroke-width="0.05">IL-4</text>
<line x1="177.10" y1="561.60" x2="219.40" y2="561.60" stroke="#222" stroke-width="1.0"/>
<text x="198.25" y="568.80" font-size="6.40" text-anchor="middle" fill="#333" stroke="#333" stroke-width="0.05">Heme</text>
<line x1="163.40" y1="570.50" x2="219.40" y2="570.50" stroke="#222" stroke-width="1.0"/>
<text x="191.40" y="577.10" font-size="6.40" text-anchor="middle" fill="#333" stroke="#333" stroke-width="0.05">+ACs</text>
<text x="186.60" y="471.62" font-size="8.40" text-anchor="middle" fill="#333" stroke="#333" stroke-width="0.05"><tspan font-style='italic'>Ucp2</tspan> mRNA</text>
<text x="130.59" y="513.40" font-size="7.20" text-anchor="middle" fill="#222" stroke="#222" stroke-width="0.1" textLength="8.90" lengthAdjust="spacingAndGlyphs" transform="rotate(-90 130.59 513.40)">RQ</text>
<rect x="266.40" y="505.03" width="13.30" height="41.37" fill="#2fac3e"/>
<rect x="281.40" y="528.28" width="12.70" height="18.12" fill="#cc0a2f"/>
<rect x="296.00" y="510.94" width="13.30" height="35.46" fill="#cc0a2f"/>
<rect x="311.40" y="518.43" width="12.70" height="27.97" fill="#cc0a2f"/>
<line x1="273.05" y1="511.73" x2="273.05" y2="498.33" stroke="#111" stroke-width="0.9"/>
<line x1="270.45" y1="498.33" x2="275.65" y2="498.33" stroke="#111" stroke-width="0.9"/>
<line x1="270.45" y1="511.73" x2="275.65" y2="511.73" stroke="#111" stroke-width="0.9"/>
<line x1="287.75" y1="529.85" x2="287.75" y2="526.70" stroke="#111" stroke-width="0.9"/>
<line x1="285.15" y1="526.70" x2="290.35" y2="526.70" stroke="#111" stroke-width="0.9"/>
<line x1="285.15" y1="529.85" x2="290.35" y2="529.85" stroke="#111" stroke-width="0.9"/>
<line x1="302.65" y1="516.85" x2="302.65" y2="504.24" stroke="#111" stroke-width="0.9"/>
<line x1="300.05" y1="504.24" x2="305.25" y2="504.24" stroke="#111" stroke-width="0.9"/>
<line x1="300.05" y1="516.85" x2="305.25" y2="516.85" stroke="#111" stroke-width="0.9"/>
<line x1="317.75" y1="520.79" x2="317.75" y2="516.06" stroke="#111" stroke-width="0.9"/>
<line x1="315.15" y1="516.06" x2="320.35" y2="516.06" stroke="#111" stroke-width="0.9"/>
<line x1="315.15" y1="520.79" x2="320.35" y2="520.79" stroke="#111" stroke-width="0.9"/>
<circle cx="269.05" cy="489.27" r="1.80" fill="#111"/>
<circle cx="277.05" cy="487.30" r="1.80" fill="#111"/>
<circle cx="273.05" cy="495.97" r="1.80" fill="#111"/>
<circle cx="269.05" cy="512.91" r="1.80" fill="#111"/>
<circle cx="277.05" cy="515.67" r="1.80" fill="#111"/>
<circle cx="273.05" cy="524.73" r="1.80" fill="#111"/>
<circle cx="273.05" cy="507.00" r="1.80" fill="#111"/>
<circle cx="287.75" cy="522.76" r="1.80" fill="#111"/>
<circle cx="283.75" cy="525.91" r="1.80" fill="#111"/>
<circle cx="291.75" cy="525.91" r="1.80" fill="#111"/>
<circle cx="287.75" cy="528.67" r="1.80" fill="#111"/>
<circle cx="284.75" cy="529.85" r="1.80" fill="#111"/>
<circle cx="290.75" cy="530.64" r="1.80" fill="#111"/>
<circle cx="298.65" cy="495.18" r="1.80" fill="#111"/>
<circle cx="306.65" cy="493.21" r="1.80" fill="#111"/>
<circle cx="302.65" cy="507.00" r="1.80" fill="#111"/>
<circle cx="302.65" cy="514.88" r="1.80" fill="#111"/>
<circle cx="302.65" cy="529.85" r="1.80" fill="#111"/>
<circle cx="314.75" cy="514.09" r="1.80" fill="#111"/>
<circle cx="321.75" cy="510.94" r="1.80" fill="#111"/>
<circle cx="317.75" cy="516.85" r="1.80" fill="#111"/>
<circle cx="313.75" cy="518.82" r="1.80" fill="#111"/>
<circle cx="321.75" cy="520.79" r="1.80" fill="#111"/>
<circle cx="317.75" cy="529.85" r="1.80" fill="#111"/>
<line x1="259.20" y1="480.60" x2="259.20" y2="546.90" stroke="#111" stroke-width="1.1"/>
<line x1="258.70" y1="546.40" x2="325.20" y2="546.40" stroke="#111" stroke-width="1.1"/>
<line x1="256.40" y1="546.40" x2="259.20" y2="546.40" stroke="#111" stroke-width="0.9"/>
<text x="253.20" y="548.63" font-size="6.20" text-anchor="end" fill="#333" stroke="#333" stroke-width="0.05">0.0</text>
<line x1="256.40" y1="526.70" x2="259.20" y2="526.70" stroke="#111" stroke-width="0.9"/>
<text x="253.20" y="528.93" font-size="6.20" text-anchor="end" fill="#333" stroke="#333" stroke-width="0.05">0.5</text>
<line x1="256.40" y1="507.00" x2="259.20" y2="507.00" stroke="#111" stroke-width="0.9"/>
<text x="253.20" y="509.23" font-size="6.20" text-anchor="end" fill="#333" stroke="#333" stroke-width="0.05">1.0</text>
<line x1="256.40" y1="487.30" x2="259.20" y2="487.30" stroke="#111" stroke-width="0.9"/>
<text x="253.20" y="489.53" font-size="6.20" text-anchor="end" fill="#333" stroke="#333" stroke-width="0.05">1.5</text>
<line x1="273.05" y1="546.40" x2="273.05" y2="548.80" stroke="#111" stroke-width="0.9"/>
<line x1="287.75" y1="546.40" x2="287.75" y2="548.80" stroke="#111" stroke-width="0.9"/>
<line x1="302.65" y1="546.40" x2="302.65" y2="548.80" stroke="#111" stroke-width="0.9"/>
<line x1="317.75" y1="546.40" x2="317.75" y2="548.80" stroke="#111" stroke-width="0.9"/>
<line x1="273.40" y1="484.40" x2="288.20" y2="484.40" stroke="#222" stroke-width="1.0"/>
<text x="280.80" y="484.40" font-size="8.60" text-anchor="middle" fill="#111" stroke="#111" stroke-width="0.35">*</text>
<line x1="289.20" y1="482.30" x2="319.90" y2="482.30" stroke="#222" stroke-width="1.0"/>
<text x="304.55" y="480.56" font-size="6.00" text-anchor="middle" fill="#222" stroke="#222" stroke-width="0.05">0.2</text>
<line x1="288.20" y1="491.20" x2="303.00" y2="491.20" stroke="#222" stroke-width="1.0"/>
<text x="295.60" y="491.20" font-size="8.60" text-anchor="middle" fill="#111" stroke="#111" stroke-width="0.35">*</text>
<text x="272.30" y="558.70" font-size="6.40" text-anchor="middle" fill="#333" stroke="#333" stroke-width="0.05">–</text>
<text x="288.20" y="558.70" font-size="6.40" text-anchor="middle" fill="#333" stroke="#333" stroke-width="0.05">–</text>
<text x="301.90" y="558.70" font-size="6.40" text-anchor="middle" fill="#333" stroke="#333" stroke-width="0.05">Pio</text>
<text x="318.40" y="558.70" font-size="6.40" text-anchor="middle" fill="#333" stroke="#333" stroke-width="0.05">IL-4</text>
<line x1="282.50" y1="561.60" x2="326.30" y2="561.60" stroke="#222" stroke-width="1.0"/>
<text x="304.40" y="568.80" font-size="6.40" text-anchor="middle" fill="#333" stroke="#333" stroke-width="0.05">Heme</text>
<line x1="269.10" y1="570.50" x2="326.30" y2="570.50" stroke="#222" stroke-width="1.0"/>
<text x="297.70" y="577.10" font-size="6.40" text-anchor="middle" fill="#333" stroke="#333" stroke-width="0.05">+ACs</text>
<text x="295.20" y="473.02" font-size="8.40" text-anchor="middle" fill="#333" stroke="#333" stroke-width="0.05"><tspan font-style='italic'>Cpt1a</tspan> mRNA</text>
<text x="241.09" y="514.00" font-size="7.20" text-anchor="middle" fill="#222" stroke="#222" stroke-width="0.1" textLength="8.90" lengthAdjust="spacingAndGlyphs" transform="rotate(-90 241.09 514.00)">RQ</text>
<rect x="367.50" y="499.79" width="13.30" height="46.61" fill="#2fac3e"/>
<rect x="382.30" y="518.98" width="13.80" height="27.42" fill="#cc0a2f"/>
<rect x="397.50" y="505.27" width="13.40" height="41.13" fill="#cc0a2f"/>
<rect x="413.00" y="508.47" width="13.30" height="37.93" fill="#cc0a2f"/>
<line x1="374.15" y1="502.98" x2="374.15" y2="496.59" stroke="#111" stroke-width="0.9"/>
<line x1="371.55" y1="496.59" x2="376.75" y2="496.59" stroke="#111" stroke-width="0.9"/>
<line x1="371.55" y1="502.98" x2="376.75" y2="502.98" stroke="#111" stroke-width="0.9"/>
<line x1="389.20" y1="522.64" x2="389.20" y2="514.87" stroke="#111" stroke-width="0.9"/>
<line x1="386.60" y1="514.87" x2="391.80" y2="514.87" stroke="#111" stroke-width="0.9"/>
<line x1="386.60" y1="522.64" x2="391.80" y2="522.64" stroke="#111" stroke-width="0.9"/>
<line x1="404.20" y1="509.38" x2="404.20" y2="501.16" stroke="#111" stroke-width="0.9"/>
<line x1="401.60" y1="501.16" x2="406.80" y2="501.16" stroke="#111" stroke-width="0.9"/>
<line x1="401.60" y1="509.38" x2="406.80" y2="509.38" stroke="#111" stroke-width="0.9"/>
<line x1="419.65" y1="511.21" x2="419.65" y2="505.27" stroke="#111" stroke-width="0.9"/>
<line x1="417.05" y1="505.27" x2="422.25" y2="505.27" stroke="#111" stroke-width="0.9"/>
<line x1="417.05" y1="511.21" x2="422.25" y2="511.21" stroke="#111" stroke-width="0.9"/>
<circle cx="369.15" cy="489.27" r="1.80" fill="#111"/>
<circle cx="371.65" cy="489.27" r="1.80" fill="#111"/>
<circle cx="374.15" cy="490.19" r="1.80" fill="#111"/>
<circle cx="376.65" cy="490.65" r="1.80" fill="#111"/>
<circle cx="379.15" cy="489.73" r="1.80" fill="#111"/>
<circle cx="371.15" cy="500.70" r="1.80" fill="#111"/>
<circle cx="377.15" cy="502.98" r="1.80" fill="#111"/>
<circle cx="374.15" cy="507.55" r="1.80" fill="#111"/>
<circle cx="371.15" cy="509.84" r="1.80" fill="#111"/>
<circle cx="374.15" cy="516.69" r="1.80" fill="#111"/>
<circle cx="389.20" cy="497.96" r="1.80" fill="#111"/>
<circle cx="389.20" cy="509.84" r="1.80" fill="#111"/>
<circle cx="386.20" cy="518.98" r="1.80" fill="#111"/>
<circle cx="392.20" cy="521.26" r="1.80" fill="#111"/>
<circle cx="389.20" cy="528.12" r="1.80" fill="#111"/>
<circle cx="389.20" cy="532.69" r="1.80" fill="#111"/>
<circle cx="404.20" cy="484.70" r="1.80" fill="#111"/>
<circle cx="404.20" cy="496.13" r="1.80" fill="#111"/>
<circle cx="400.20" cy="502.98" r="1.80" fill="#111"/>
<circle cx="408.20" cy="505.27" r="1.80" fill="#111"/>
<circle cx="404.20" cy="509.84" r="1.80" fill="#111"/>
<circle cx="401.20" cy="518.98" r="1.80" fill="#111"/>
<circle cx="404.20" cy="525.83" r="1.80" fill="#111"/>
<circle cx="415.65" cy="499.79" r="1.80" fill="#111"/>
<circle cx="419.65" cy="500.70" r="1.80" fill="#111"/>
<circle cx="423.65" cy="501.61" r="1.80" fill="#111"/>
<circle cx="415.65" cy="504.36" r="1.80" fill="#111"/>
<circle cx="423.65" cy="507.55" r="1.80" fill="#111"/>
<circle cx="419.65" cy="509.84" r="1.80" fill="#111"/>
<circle cx="417.65" cy="514.41" r="1.80" fill="#111"/>
<circle cx="419.65" cy="523.55" r="1.80" fill="#111"/>
<line x1="360.70" y1="476.00" x2="360.70" y2="546.90" stroke="#111" stroke-width="1.1"/>
<line x1="360.20" y1="546.40" x2="427.20" y2="546.40" stroke="#111" stroke-width="1.1"/>
<line x1="357.90" y1="546.40" x2="360.70" y2="546.40" stroke="#111" stroke-width="0.9"/>
<text x="354.70" y="548.63" font-size="6.20" text-anchor="end" fill="#333" stroke="#333" stroke-width="0.05">0.0</text>
<line x1="357.90" y1="523.55" x2="360.70" y2="523.55" stroke="#111" stroke-width="0.9"/>
<text x="354.70" y="525.78" font-size="6.20" text-anchor="end" fill="#333" stroke="#333" stroke-width="0.05">0.5</text>
<line x1="357.90" y1="500.70" x2="360.70" y2="500.70" stroke="#111" stroke-width="0.9"/>
<text x="354.70" y="502.93" font-size="6.20" text-anchor="end" fill="#333" stroke="#333" stroke-width="0.05">1.0</text>
<line x1="357.90" y1="477.85" x2="360.70" y2="477.85" stroke="#111" stroke-width="0.9"/>
<text x="354.70" y="480.08" font-size="6.20" text-anchor="end" fill="#333" stroke="#333" stroke-width="0.05">1.5</text>
<line x1="374.15" y1="546.40" x2="374.15" y2="548.80" stroke="#111" stroke-width="0.9"/>
<line x1="389.20" y1="546.40" x2="389.20" y2="548.80" stroke="#111" stroke-width="0.9"/>
<line x1="404.20" y1="546.40" x2="404.20" y2="548.80" stroke="#111" stroke-width="0.9"/>
<line x1="419.65" y1="546.40" x2="419.65" y2="548.80" stroke="#111" stroke-width="0.9"/>
<line x1="371.30" y1="484.80" x2="387.60" y2="484.80" stroke="#222" stroke-width="1.0"/>
<text x="379.45" y="484.80" font-size="8.60" text-anchor="middle" fill="#111" stroke="#111" stroke-width="0.35">*</text>
<line x1="389.00" y1="477.60" x2="403.80" y2="477.60" stroke="#222" stroke-width="1.0"/>
<line x1="388.50" y1="480.70" x2="420.00" y2="480.70" stroke="#222" stroke-width="1.0"/>
<text x="374.30" y="558.70" font-size="6.40" text-anchor="middle" fill="#333" stroke="#333" stroke-width="0.05">–</text>
<text x="389.10" y="558.70" font-size="6.40" text-anchor="middle" fill="#333" stroke="#333" stroke-width="0.05">–</text>
<text x="403.50" y="558.70" font-size="6.40" text-anchor="middle" fill="#333" stroke="#333" stroke-width="0.05">Pio</text>
<text x="418.70" y="558.70" font-size="6.40" text-anchor="middle" fill="#333" stroke="#333" stroke-width="0.05">IL-4</text>
<line x1="384.40" y1="561.60" x2="427.20" y2="561.60" stroke="#222" stroke-width="1.0"/>
<text x="405.80" y="568.80" font-size="6.40" text-anchor="middle" fill="#333" stroke="#333" stroke-width="0.05">Heme</text>
<line x1="369.60" y1="570.50" x2="427.20" y2="570.50" stroke="#222" stroke-width="1.0"/>
<text x="398.40" y="577.10" font-size="6.40" text-anchor="middle" fill="#333" stroke="#333" stroke-width="0.05">+ACs</text>
<text x="396.70" y="464.82" font-size="8.40" text-anchor="middle" fill="#333" stroke="#333" stroke-width="0.05"><tspan font-style='italic'>Acox1</tspan> mRNA</text>
<text x="345.99" y="510.90" font-size="7.20" text-anchor="middle" fill="#222" stroke="#222" stroke-width="0.1" textLength="8.90" lengthAdjust="spacingAndGlyphs" transform="rotate(-90 345.99 510.90)">RQ</text>
<text x="407.50" y="479.18" font-size="8.00" text-anchor="middle" fill="#111" stroke="#111" stroke-width="0.15">*</text>
<rect x="155.50" y="624.00" width="13.20" height="42.30" fill="#2fac3e"/>
<rect x="170.80" y="631.19" width="13.10" height="35.11" fill="#cc0a2f"/>
<rect x="185.60" y="631.61" width="13.30" height="34.69" fill="#cc0a2f"/>
<rect x="200.80" y="632.88" width="12.90" height="33.42" fill="#cc0a2f"/>
<line x1="162.10" y1="626.12" x2="162.10" y2="621.88" stroke="#111" stroke-width="0.9"/>
<line x1="159.50" y1="621.88" x2="164.70" y2="621.88" stroke="#111" stroke-width="0.9"/>
<line x1="159.50" y1="626.12" x2="164.70" y2="626.12" stroke="#111" stroke-width="0.9"/>
<line x1="177.35" y1="632.88" x2="177.35" y2="629.50" stroke="#111" stroke-width="0.9"/>
<line x1="174.75" y1="629.50" x2="179.95" y2="629.50" stroke="#111" stroke-width="0.9"/>
<line x1="174.75" y1="632.88" x2="179.95" y2="632.88" stroke="#111" stroke-width="0.9"/>
<line x1="192.25" y1="633.73" x2="192.25" y2="629.50" stroke="#111" stroke-width="0.9"/>
<line x1="189.65" y1="629.50" x2="194.85" y2="629.50" stroke="#111" stroke-width="0.9"/>
<line x1="189.65" y1="633.73" x2="194.85" y2="633.73" stroke="#111" stroke-width="0.9"/>
<line x1="207.25" y1="634.15" x2="207.25" y2="631.61" stroke="#111" stroke-width="0.9"/>
<line x1="204.65" y1="631.61" x2="209.85" y2="631.61" stroke="#111" stroke-width="0.9"/>
<line x1="204.65" y1="634.15" x2="209.85" y2="634.15" stroke="#111" stroke-width="0.9"/>
<circle cx="162.10" cy="612.58" r="1.70" fill="#111"/>
<circle cx="158.10" cy="620.62" r="1.70" fill="#111"/>
<circle cx="166.10" cy="621.88" r="1.70" fill="#111"/>
<circle cx="162.10" cy="623.15" r="1.70" fill="#111"/>
<circle cx="158.10" cy="624.00" r="1.70" fill="#111"/>
<circle cx="166.10" cy="624.85" r="1.70" fill="#111"/>
<circle cx="162.10" cy="626.12" r="1.70" fill="#111"/>
<circle cx="158.10" cy="628.23" r="1.70" fill="#111"/>
<circle cx="162.10" cy="634.57" r="1.70" fill="#111"/>
<circle cx="173.35" cy="626.12" r="1.70" fill="#111"/>
<circle cx="181.35" cy="627.38" r="1.70" fill="#111"/>
<circle cx="177.35" cy="629.08" r="1.70" fill="#111"/>
<circle cx="173.35" cy="630.34" r="1.70" fill="#111"/>
<circle cx="181.35" cy="631.61" r="1.70" fill="#111"/>
<circle cx="177.35" cy="632.46" r="1.70" fill="#111"/>
<circle cx="177.35" cy="645.15" r="1.70" fill="#111"/>
<circle cx="188.25" cy="626.12" r="1.70" fill="#111"/>
<circle cx="196.25" cy="627.38" r="1.70" fill="#111"/>
<circle cx="192.25" cy="629.08" r="1.70" fill="#111"/>
<circle cx="188.25" cy="630.34" r="1.70" fill="#111"/>
<circle cx="196.25" cy="631.61" r="1.70" fill="#111"/>
<circle cx="192.25" cy="633.31" r="1.70" fill="#111"/>
<circle cx="192.25" cy="641.77" r="1.70" fill="#111"/>
<circle cx="207.25" cy="626.12" r="1.70" fill="#111"/>
<circle cx="203.25" cy="629.08" r="1.70" fill="#111"/>
<circle cx="211.25" cy="630.34" r="1.70" fill="#111"/>
<circle cx="207.25" cy="631.61" r="1.70" fill="#111"/>
<circle cx="203.25" cy="632.46" r="1.70" fill="#111"/>
<circle cx="211.25" cy="634.57" r="1.70" fill="#111"/>
<circle cx="207.25" cy="635.84" r="1.70" fill="#111"/>
<line x1="148.60" y1="600.70" x2="148.60" y2="666.80" stroke="#111" stroke-width="1.1"/>
<line x1="148.10" y1="666.30" x2="217.30" y2="666.30" stroke="#111" stroke-width="1.1"/>
<line x1="145.80" y1="666.30" x2="148.60" y2="666.30" stroke="#111" stroke-width="0.9"/>
<text x="142.60" y="668.53" font-size="6.20" text-anchor="end" fill="#333" stroke="#333" stroke-width="0.05">0.0</text>
<line x1="145.80" y1="645.15" x2="148.60" y2="645.15" stroke="#111" stroke-width="0.9"/>
<text x="142.60" y="647.38" font-size="6.20" text-anchor="end" fill="#333" stroke="#333" stroke-width="0.05">0.5</text>
<line x1="145.80" y1="624.00" x2="148.60" y2="624.00" stroke="#111" stroke-width="0.9"/>
<text x="142.60" y="626.23" font-size="6.20" text-anchor="end" fill="#333" stroke="#333" stroke-width="0.05">1.0</text>
<line x1="145.80" y1="602.85" x2="148.60" y2="602.85" stroke="#111" stroke-width="0.9"/>
<text x="142.60" y="605.08" font-size="6.20" text-anchor="end" fill="#333" stroke="#333" stroke-width="0.05">1.5</text>
<line x1="162.10" y1="666.30" x2="162.10" y2="668.70" stroke="#111" stroke-width="0.9"/>
<line x1="177.35" y1="666.30" x2="177.35" y2="668.70" stroke="#111" stroke-width="0.9"/>
<line x1="192.25" y1="666.30" x2="192.25" y2="668.70" stroke="#111" stroke-width="0.9"/>
<line x1="207.25" y1="666.30" x2="207.25" y2="668.70" stroke="#111" stroke-width="0.9"/>
<text x="162.30" y="678.50" font-size="6.40" text-anchor="middle" fill="#333" stroke="#333" stroke-width="0.05">–</text>
<text x="177.10" y="678.50" font-size="6.40" text-anchor="middle" fill="#333" stroke="#333" stroke-width="0.05">–</text>
<text x="191.90" y="678.50" font-size="6.40" text-anchor="middle" fill="#333" stroke="#333" stroke-width="0.05">Pio</text>
<text x="207.80" y="678.50" font-size="6.40" text-anchor="middle" fill="#333" stroke="#333" stroke-width="0.05">IL-4</text>
<line x1="171.40" y1="680.40" x2="215.60" y2="680.40" stroke="#222" stroke-width="1.0"/>
<text x="193.50" y="687.60" font-size="6.40" text-anchor="middle" fill="#333" stroke="#333" stroke-width="0.05">Heme</text>
<line x1="158.10" y1="689.50" x2="215.60" y2="689.50" stroke="#222" stroke-width="1.0"/>
<text x="186.85" y="696.10" font-size="6.40" text-anchor="middle" fill="#333" stroke="#333" stroke-width="0.05">+ACs</text>
<text x="183.50" y="594.82" font-size="8.40" text-anchor="middle" fill="#333" stroke="#333" stroke-width="0.05"><tspan font-style='italic'>Drp1</tspan> mRNA</text>
<text x="128.49" y="632.80" font-size="7.20" text-anchor="middle" fill="#222" stroke="#222" stroke-width="0.1" textLength="8.90" lengthAdjust="spacingAndGlyphs" transform="rotate(-90 128.49 632.80)">RQ</text>
<rect x="264.30" y="615.80" width="13.30" height="50.50" fill="#2fac3e"/>
<rect x="279.10" y="632.97" width="13.30" height="33.33" fill="#cc0a2f"/>
<rect x="294.10" y="622.37" width="13.50" height="43.93" fill="#cc0a2f"/>
<rect x="309.30" y="629.94" width="13.80" height="36.36" fill="#cc0a2f"/>
<line x1="270.95" y1="618.32" x2="270.95" y2="613.27" stroke="#111" stroke-width="0.9"/>
<line x1="268.35" y1="613.27" x2="273.55" y2="613.27" stroke="#111" stroke-width="0.9"/>
<line x1="268.35" y1="618.32" x2="273.55" y2="618.32" stroke="#111" stroke-width="0.9"/>
<line x1="285.75" y1="636.00" x2="285.75" y2="629.94" stroke="#111" stroke-width="0.9"/>
<line x1="283.15" y1="629.94" x2="288.35" y2="629.94" stroke="#111" stroke-width="0.9"/>
<line x1="283.15" y1="636.00" x2="288.35" y2="636.00" stroke="#111" stroke-width="0.9"/>
<line x1="300.85" y1="625.90" x2="300.85" y2="618.32" stroke="#111" stroke-width="0.9"/>
<line x1="298.25" y1="618.32" x2="303.45" y2="618.32" stroke="#111" stroke-width="0.9"/>
<line x1="298.25" y1="625.90" x2="303.45" y2="625.90" stroke="#111" stroke-width="0.9"/>
<line x1="316.20" y1="632.46" x2="316.20" y2="627.41" stroke="#111" stroke-width="0.9"/>
<line x1="313.60" y1="627.41" x2="318.80" y2="627.41" stroke="#111" stroke-width="0.9"/>
<line x1="313.60" y1="632.46" x2="318.80" y2="632.46" stroke="#111" stroke-width="0.9"/>
<circle cx="266.95" cy="609.23" r="1.80" fill="#111"/>
<circle cx="274.95" cy="612.26" r="1.80" fill="#111"/>
<circle cx="270.95" cy="615.80" r="1.80" fill="#111"/>
<circle cx="266.95" cy="618.32" r="1.80" fill="#111"/>
<circle cx="274.95" cy="620.85" r="1.80" fill="#111"/>
<circle cx="285.75" cy="625.90" r="1.80" fill="#111"/>
<circle cx="281.75" cy="628.42" r="1.80" fill="#111"/>
<circle cx="289.75" cy="633.47" r="1.80" fill="#111"/>
<circle cx="281.75" cy="637.01" r="1.80" fill="#111"/>
<circle cx="289.75" cy="638.52" r="1.80" fill="#111"/>
<circle cx="300.85" cy="613.27" r="1.80" fill="#111"/>
<circle cx="300.85" cy="619.84" r="1.80" fill="#111"/>
<circle cx="296.85" cy="625.90" r="1.80" fill="#111"/>
<circle cx="304.85" cy="628.42" r="1.80" fill="#111"/>
<circle cx="300.85" cy="628.42" r="1.80" fill="#111"/>
<circle cx="312.20" cy="625.90" r="1.80" fill="#111"/>
<circle cx="320.20" cy="626.91" r="1.80" fill="#111"/>
<circle cx="316.20" cy="629.94" r="1.80" fill="#111"/>
<circle cx="312.20" cy="633.47" r="1.80" fill="#111"/>
<circle cx="316.20" cy="636.00" r="1.80" fill="#111"/>
<line x1="256.90" y1="600.70" x2="256.90" y2="666.80" stroke="#111" stroke-width="1.1"/>
<line x1="256.40" y1="666.30" x2="324.10" y2="666.30" stroke="#111" stroke-width="1.1"/>
<line x1="254.10" y1="666.30" x2="256.90" y2="666.30" stroke="#111" stroke-width="0.9"/>
<text x="250.90" y="668.53" font-size="6.20" text-anchor="end" fill="#333" stroke="#333" stroke-width="0.05">0.00</text>
<line x1="254.10" y1="653.67" x2="256.90" y2="653.67" stroke="#111" stroke-width="0.9"/>
<text x="250.90" y="655.91" font-size="6.20" text-anchor="end" fill="#333" stroke="#333" stroke-width="0.05">0.25</text>
<line x1="254.10" y1="641.05" x2="256.90" y2="641.05" stroke="#111" stroke-width="0.9"/>
<text x="250.90" y="643.28" font-size="6.20" text-anchor="end" fill="#333" stroke="#333" stroke-width="0.05">0.50</text>
<line x1="254.10" y1="628.42" x2="256.90" y2="628.42" stroke="#111" stroke-width="0.9"/>
<text x="250.90" y="630.66" font-size="6.20" text-anchor="end" fill="#333" stroke="#333" stroke-width="0.05">0.75</text>
<line x1="254.10" y1="615.80" x2="256.90" y2="615.80" stroke="#111" stroke-width="0.9"/>
<text x="250.90" y="618.03" font-size="6.20" text-anchor="end" fill="#333" stroke="#333" stroke-width="0.05">1.00</text>
<line x1="254.10" y1="603.17" x2="256.90" y2="603.17" stroke="#111" stroke-width="0.9"/>
<text x="250.90" y="605.41" font-size="6.20" text-anchor="end" fill="#333" stroke="#333" stroke-width="0.05">1.25</text>
<line x1="270.95" y1="666.30" x2="270.95" y2="668.70" stroke="#111" stroke-width="0.9"/>
<line x1="285.75" y1="666.30" x2="285.75" y2="668.70" stroke="#111" stroke-width="0.9"/>
<line x1="300.85" y1="666.30" x2="300.85" y2="668.70" stroke="#111" stroke-width="0.9"/>
<line x1="316.20" y1="666.30" x2="316.20" y2="668.70" stroke="#111" stroke-width="0.9"/>
<line x1="269.10" y1="606.40" x2="286.70" y2="606.40" stroke="#222" stroke-width="1.0"/>
<text x="277.90" y="606.40" font-size="8.60" text-anchor="middle" fill="#111" stroke="#111" stroke-width="0.35">**</text>
<line x1="286.70" y1="609.10" x2="300.90" y2="609.10" stroke="#222" stroke-width="1.0"/>
<text x="293.80" y="609.10" font-size="8.60" text-anchor="middle" fill="#111" stroke="#111" stroke-width="0.35">*</text>
<text x="270.60" y="678.50" font-size="6.40" text-anchor="middle" fill="#333" stroke="#333" stroke-width="0.05">–</text>
<text x="285.40" y="678.50" font-size="6.40" text-anchor="middle" fill="#333" stroke="#333" stroke-width="0.05">–</text>
<text x="299.80" y="678.50" font-size="6.40" text-anchor="middle" fill="#333" stroke="#333" stroke-width="0.05">Pio</text>
<text x="316.70" y="678.50" font-size="6.40" text-anchor="middle" fill="#333" stroke="#333" stroke-width="0.05">IL-4</text>
<line x1="280.30" y1="680.40" x2="324.10" y2="680.40" stroke="#222" stroke-width="1.0"/>
<text x="302.20" y="687.60" font-size="6.40" text-anchor="middle" fill="#333" stroke="#333" stroke-width="0.05">Heme</text>
<line x1="267.00" y1="689.50" x2="324.10" y2="689.50" stroke="#222" stroke-width="1.0"/>
<text x="295.55" y="696.10" font-size="6.40" text-anchor="middle" fill="#333" stroke="#333" stroke-width="0.05">+ACs</text>
<text x="292.40" y="595.22" font-size="8.40" text-anchor="middle" fill="#333" stroke="#333" stroke-width="0.05"><tspan font-style='italic'>Vlcad</tspan> mRNA</text>
<text x="233.59" y="633.40" font-size="7.20" text-anchor="middle" fill="#222" stroke="#222" stroke-width="0.1" textLength="8.90" lengthAdjust="spacingAndGlyphs" transform="rotate(-90 233.59 633.40)">RQ</text>
<rect x="369.60" y="619.58" width="13.30" height="46.72" fill="#2fac3e"/>
<rect x="385.10" y="633.32" width="13.10" height="32.98" fill="#cc0a2f"/>
<rect x="400.70" y="624.16" width="13.30" height="42.14" fill="#cc0a2f"/>
<rect x="416.20" y="626.00" width="13.10" height="40.30" fill="#cc0a2f"/>
<line x1="376.25" y1="622.79" x2="376.25" y2="615.92" stroke="#111" stroke-width="0.9"/>
<line x1="373.65" y1="615.92" x2="378.85" y2="615.92" stroke="#111" stroke-width="0.9"/>
<line x1="373.65" y1="622.79" x2="378.85" y2="622.79" stroke="#111" stroke-width="0.9"/>
<line x1="391.65" y1="636.53" x2="391.65" y2="629.66" stroke="#111" stroke-width="0.9"/>
<line x1="389.05" y1="629.66" x2="394.25" y2="629.66" stroke="#111" stroke-width="0.9"/>
<line x1="389.05" y1="636.53" x2="394.25" y2="636.53" stroke="#111" stroke-width="0.9"/>
<line x1="407.35" y1="628.74" x2="407.35" y2="620.50" stroke="#111" stroke-width="0.9"/>
<line x1="404.75" y1="620.50" x2="409.95" y2="620.50" stroke="#111" stroke-width="0.9"/>
<line x1="404.75" y1="628.74" x2="409.95" y2="628.74" stroke="#111" stroke-width="0.9"/>
<line x1="422.75" y1="628.74" x2="422.75" y2="622.79" stroke="#111" stroke-width="0.9"/>
<line x1="420.15" y1="622.79" x2="425.35" y2="622.79" stroke="#111" stroke-width="0.9"/>
<line x1="420.15" y1="628.74" x2="425.35" y2="628.74" stroke="#111" stroke-width="0.9"/>
<circle cx="373.25" cy="615.92" r="1.80" fill="#111"/>
<circle cx="379.25" cy="618.21" r="1.80" fill="#111"/>
<circle cx="376.25" cy="622.79" r="1.80" fill="#111"/>
<circle cx="376.25" cy="626.00" r="1.80" fill="#111"/>
<circle cx="391.65" cy="626.00" r="1.80" fill="#111"/>
<circle cx="391.65" cy="630.58" r="1.80" fill="#111"/>
<circle cx="388.65" cy="635.16" r="1.80" fill="#111"/>
<circle cx="394.65" cy="635.16" r="1.80" fill="#111"/>
<circle cx="404.35" cy="619.13" r="1.80" fill="#111"/>
<circle cx="410.35" cy="619.13" r="1.80" fill="#111"/>
<circle cx="404.35" cy="629.66" r="1.80" fill="#111"/>
<circle cx="410.35" cy="629.66" r="1.80" fill="#111"/>
<circle cx="422.75" cy="620.50" r="1.80" fill="#111"/>
<circle cx="422.75" cy="625.08" r="1.80" fill="#111"/>
<circle cx="419.75" cy="627.37" r="1.80" fill="#111"/>
<circle cx="422.75" cy="630.58" r="1.80" fill="#111"/>
<line x1="362.20" y1="596.40" x2="362.20" y2="666.80" stroke="#111" stroke-width="1.1"/>
<line x1="361.70" y1="666.30" x2="430.00" y2="666.30" stroke="#111" stroke-width="1.1"/>
<line x1="359.40" y1="666.30" x2="362.20" y2="666.30" stroke="#111" stroke-width="0.9"/>
<text x="356.20" y="668.53" font-size="6.20" text-anchor="end" fill="#333" stroke="#333" stroke-width="0.05">0.0</text>
<line x1="359.40" y1="643.40" x2="362.20" y2="643.40" stroke="#111" stroke-width="0.9"/>
<text x="356.20" y="645.63" font-size="6.20" text-anchor="end" fill="#333" stroke="#333" stroke-width="0.05">0.5</text>
<line x1="359.40" y1="620.50" x2="362.20" y2="620.50" stroke="#111" stroke-width="0.9"/>
<text x="356.20" y="622.73" font-size="6.20" text-anchor="end" fill="#333" stroke="#333" stroke-width="0.05">1.0</text>
<line x1="359.40" y1="597.60" x2="362.20" y2="597.60" stroke="#111" stroke-width="0.9"/>
<text x="356.20" y="599.83" font-size="6.20" text-anchor="end" fill="#333" stroke="#333" stroke-width="0.05">1.5</text>
<line x1="376.25" y1="666.30" x2="376.25" y2="668.70" stroke="#111" stroke-width="0.9"/>
<line x1="391.65" y1="666.30" x2="391.65" y2="668.70" stroke="#111" stroke-width="0.9"/>
<line x1="407.35" y1="666.30" x2="407.35" y2="668.70" stroke="#111" stroke-width="0.9"/>
<line x1="422.75" y1="666.30" x2="422.75" y2="668.70" stroke="#111" stroke-width="0.9"/>
<line x1="376.00" y1="610.20" x2="391.20" y2="610.20" stroke="#222" stroke-width="1.0"/>
<text x="383.60" y="610.20" font-size="8.60" text-anchor="middle" fill="#111" stroke="#111" stroke-width="0.35">*</text>
<line x1="391.80" y1="614.00" x2="407.30" y2="614.00" stroke="#222" stroke-width="1.0"/>
<text x="399.55" y="612.26" font-size="6.00" text-anchor="middle" fill="#222" stroke="#222" stroke-width="0.05">0.15</text>
<line x1="391.80" y1="603.80" x2="422.50" y2="603.80" stroke="#222" stroke-width="1.0"/>
<text x="407.15" y="602.06" font-size="6.00" text-anchor="middle" fill="#222" stroke="#222" stroke-width="0.05">0.2</text>
<text x="376.40" y="678.50" font-size="6.40" text-anchor="middle" fill="#333" stroke="#333" stroke-width="0.05">–</text>
<text x="391.80" y="678.50" font-size="6.40" text-anchor="middle" fill="#333" stroke="#333" stroke-width="0.05">–</text>
<text x="407.30" y="678.50" font-size="6.40" text-anchor="middle" fill="#333" stroke="#333" stroke-width="0.05">Pio</text>
<text x="423.10" y="678.50" font-size="6.40" text-anchor="middle" fill="#333" stroke="#333" stroke-width="0.05">IL-4</text>
<line x1="385.50" y1="680.40" x2="430.00" y2="680.40" stroke="#222" stroke-width="1.0"/>
<text x="407.75" y="687.60" font-size="6.40" text-anchor="middle" fill="#333" stroke="#333" stroke-width="0.05">Heme</text>
<line x1="372.20" y1="689.50" x2="430.00" y2="689.50" stroke="#222" stroke-width="1.0"/>
<text x="401.10" y="696.10" font-size="6.40" text-anchor="middle" fill="#333" stroke="#333" stroke-width="0.05">+ACs</text>
<text x="397.10" y="594.82" font-size="8.40" text-anchor="middle" fill="#333" stroke="#333" stroke-width="0.05"><tspan font-style='italic'>Mcad</tspan> mRNA</text>
<text x="342.09" y="629.90" font-size="7.20" text-anchor="middle" fill="#222" stroke="#222" stroke-width="0.1" textLength="8.90" lengthAdjust="spacingAndGlyphs" transform="rotate(-90 342.09 629.90)">RQ</text>
<rect x="0.5" y="0.5" width="519" height="702" fill="none" stroke="#555" stroke-width="1.2"/></svg>
</body></html>
